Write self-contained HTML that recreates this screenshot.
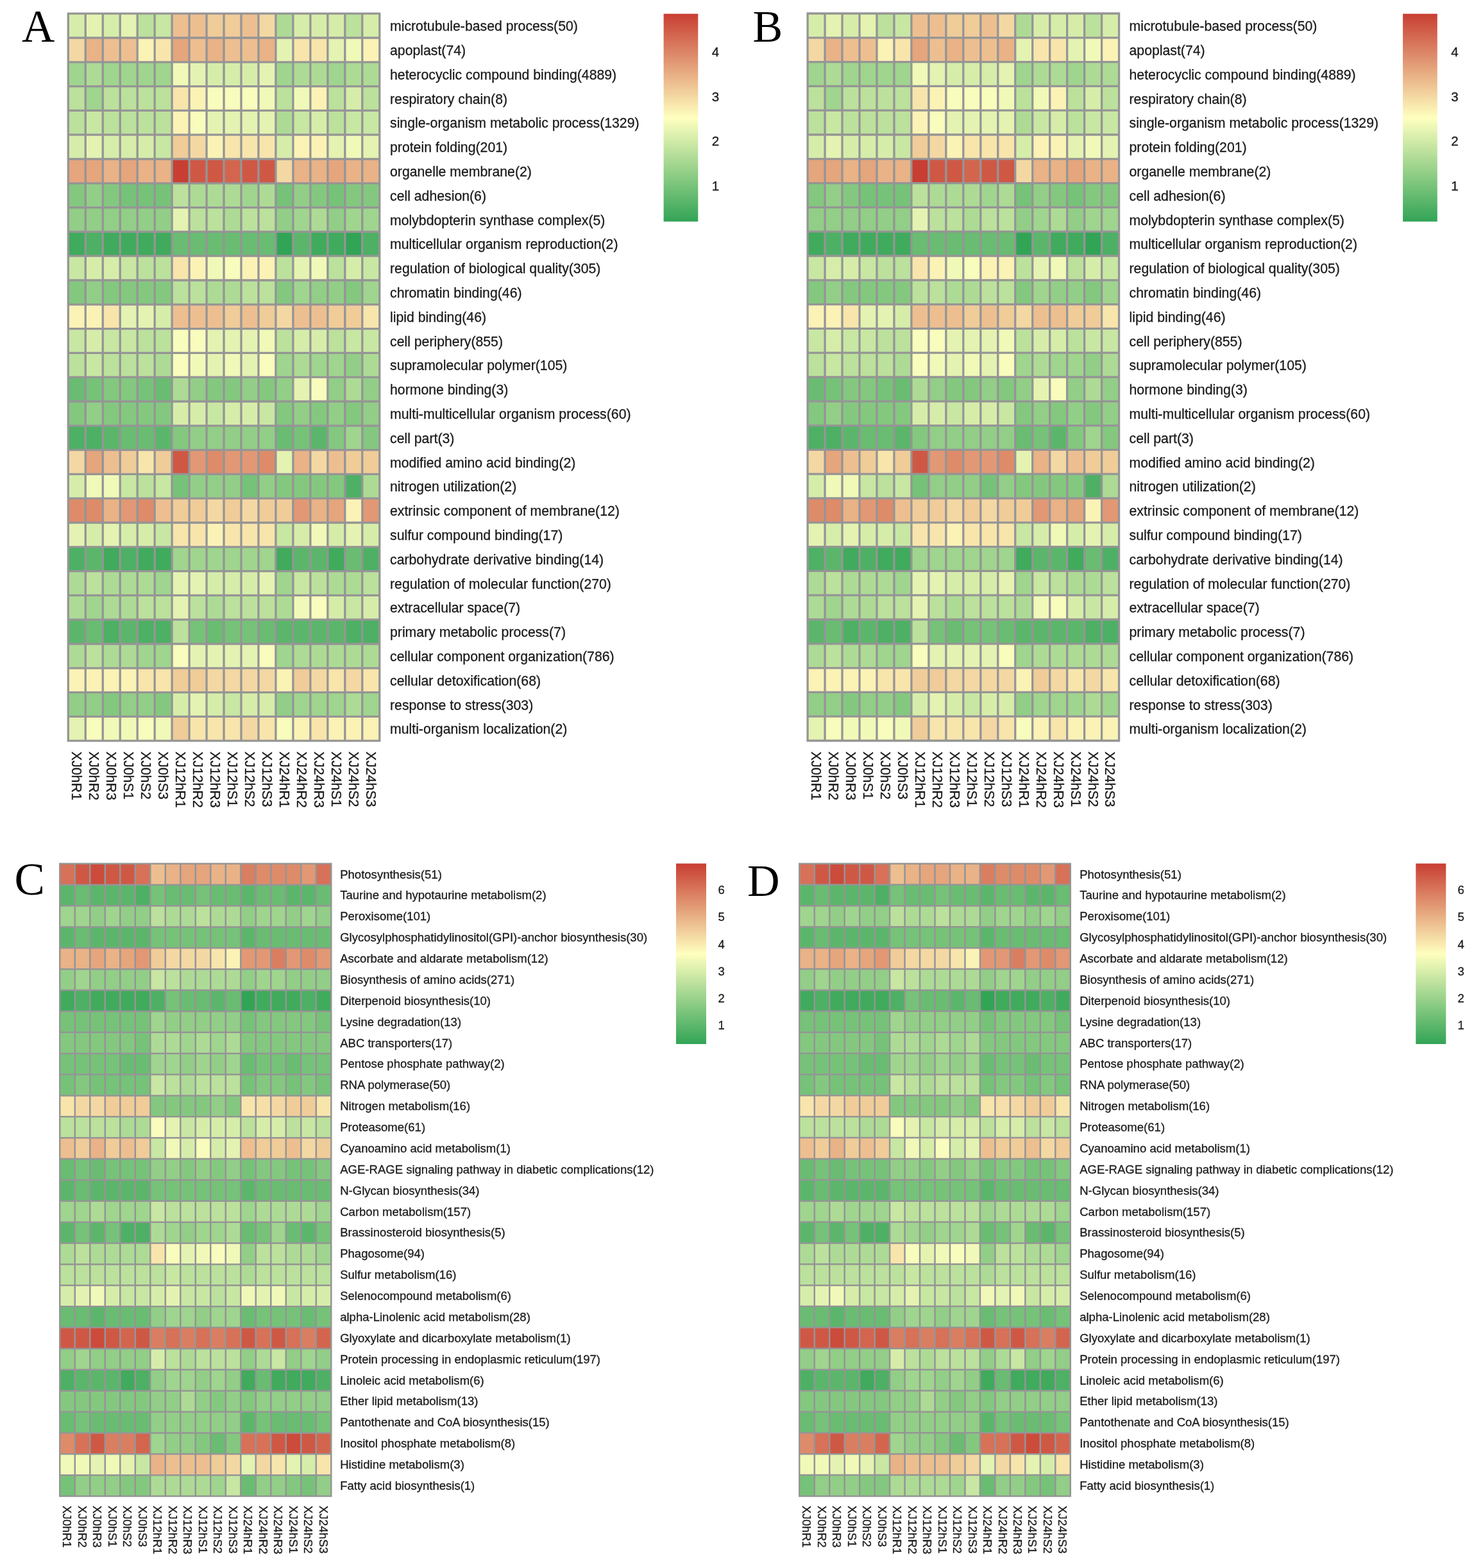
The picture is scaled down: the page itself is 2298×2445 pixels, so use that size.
<!DOCTYPE html>
<html><head><meta charset="utf-8"><title>Heatmaps</title>
<style>
html,body{margin:0;padding:0;background:#fff}
body{width:2298px;height:2445px;overflow:hidden}
svg{display:block}
text{font-family:"Liberation Sans",sans-serif;fill:#1a1a1a;stroke:#1a1a1a;stroke-width:0.3px;paint-order:stroke fill}
text.pl{font-family:"Liberation Serif",serif;fill:#000;stroke:none}
</style></head><body>
<svg width="2298" height="2445" viewBox="0 0 2298 2445">
<defs><linearGradient id="lg" x1="0" y1="0" x2="0" y2="1">
<stop offset="0" stop-color="#c83e32"/><stop offset="0.5" stop-color="#ffffbf"/><stop offset="1" stop-color="#32a456"/>
</linearGradient></defs>
<rect width="2298" height="2445" fill="#fff"/>
<g class="hm">
<rect x="106.3" y="21.2" width="27.17" height="38" fill="#d6edaa"/>
<rect x="133.27" y="21.2" width="27.17" height="38" fill="#e4f3b1"/>
<rect x="160.24" y="21.2" width="27.17" height="38" fill="#d6edaa"/>
<rect x="187.21" y="21.2" width="27.17" height="38" fill="#e4f3b1"/>
<rect x="214.18" y="21.2" width="27.17" height="38" fill="#bbe19c"/>
<rect x="241.15" y="21.2" width="27.17" height="38" fill="#c8e7a3"/>
<rect x="268.12" y="21.2" width="27.17" height="38" fill="#edbf90"/>
<rect x="295.09" y="21.2" width="27.17" height="38" fill="#edbf90"/>
<rect x="322.06" y="21.2" width="27.17" height="38" fill="#f0cc99"/>
<rect x="349.03" y="21.2" width="27.17" height="38" fill="#f0cc99"/>
<rect x="376" y="21.2" width="27.17" height="38" fill="#edbf90"/>
<rect x="402.97" y="21.2" width="27.17" height="38" fill="#f4d8a3"/>
<rect x="429.94" y="21.2" width="27.17" height="38" fill="#addb95"/>
<rect x="456.91" y="21.2" width="27.17" height="38" fill="#d6edaa"/>
<rect x="483.88" y="21.2" width="27.17" height="38" fill="#d6edaa"/>
<rect x="510.85" y="21.2" width="27.17" height="38" fill="#d6edaa"/>
<rect x="537.82" y="21.2" width="27.17" height="38" fill="#bbe19c"/>
<rect x="564.79" y="21.2" width="27.17" height="38" fill="#d6edaa"/>
<rect x="106.3" y="59" width="27.17" height="38" fill="#f4d8a3"/>
<rect x="133.27" y="59" width="27.17" height="38" fill="#e9b287"/>
<rect x="160.24" y="59" width="27.17" height="38" fill="#edbf90"/>
<rect x="187.21" y="59" width="27.17" height="38" fill="#edbf90"/>
<rect x="214.18" y="59" width="27.17" height="38" fill="#fbf2b6"/>
<rect x="241.15" y="59" width="27.17" height="38" fill="#f8e5ac"/>
<rect x="268.12" y="59" width="27.17" height="38" fill="#e5a57d"/>
<rect x="295.09" y="59" width="27.17" height="38" fill="#edbf90"/>
<rect x="322.06" y="59" width="27.17" height="38" fill="#e9b287"/>
<rect x="349.03" y="59" width="27.17" height="38" fill="#edbf90"/>
<rect x="376" y="59" width="27.17" height="38" fill="#edbf90"/>
<rect x="402.97" y="59" width="27.17" height="38" fill="#e9b287"/>
<rect x="429.94" y="59" width="27.17" height="38" fill="#e4f3b1"/>
<rect x="456.91" y="59" width="27.17" height="38" fill="#f8e5ac"/>
<rect x="483.88" y="59" width="27.17" height="38" fill="#f8e5ac"/>
<rect x="510.85" y="59" width="27.17" height="38" fill="#e4f3b1"/>
<rect x="537.82" y="59" width="27.17" height="38" fill="#f1f9b8"/>
<rect x="564.79" y="59" width="27.17" height="38" fill="#fbf2b6"/>
<rect x="106.3" y="96.8" width="27.17" height="38" fill="#9fd58e"/>
<rect x="133.27" y="96.8" width="27.17" height="38" fill="#addb95"/>
<rect x="160.24" y="96.8" width="27.17" height="38" fill="#9fd58e"/>
<rect x="187.21" y="96.8" width="27.17" height="38" fill="#9fd58e"/>
<rect x="214.18" y="96.8" width="27.17" height="38" fill="#9fd58e"/>
<rect x="241.15" y="96.8" width="27.17" height="38" fill="#9fd58e"/>
<rect x="268.12" y="96.8" width="27.17" height="38" fill="#f1f9b8"/>
<rect x="295.09" y="96.8" width="27.17" height="38" fill="#e4f3b1"/>
<rect x="322.06" y="96.8" width="27.17" height="38" fill="#d6edaa"/>
<rect x="349.03" y="96.8" width="27.17" height="38" fill="#d6edaa"/>
<rect x="376" y="96.8" width="27.17" height="38" fill="#d6edaa"/>
<rect x="402.97" y="96.8" width="27.17" height="38" fill="#e4f3b1"/>
<rect x="429.94" y="96.8" width="27.17" height="38" fill="#9fd58e"/>
<rect x="456.91" y="96.8" width="27.17" height="38" fill="#addb95"/>
<rect x="483.88" y="96.8" width="27.17" height="38" fill="#addb95"/>
<rect x="510.85" y="96.8" width="27.17" height="38" fill="#9fd58e"/>
<rect x="537.82" y="96.8" width="27.17" height="38" fill="#addb95"/>
<rect x="564.79" y="96.8" width="27.17" height="38" fill="#addb95"/>
<rect x="106.3" y="134.6" width="27.17" height="38" fill="#bbe19c"/>
<rect x="133.27" y="134.6" width="27.17" height="38" fill="#9fd58e"/>
<rect x="160.24" y="134.6" width="27.17" height="38" fill="#bbe19c"/>
<rect x="187.21" y="134.6" width="27.17" height="38" fill="#bbe19c"/>
<rect x="214.18" y="134.6" width="27.17" height="38" fill="#bbe19c"/>
<rect x="241.15" y="134.6" width="27.17" height="38" fill="#bbe19c"/>
<rect x="268.12" y="134.6" width="27.17" height="38" fill="#f8e5ac"/>
<rect x="295.09" y="134.6" width="27.17" height="38" fill="#fbf2b6"/>
<rect x="322.06" y="134.6" width="27.17" height="38" fill="#f8fcbc"/>
<rect x="349.03" y="134.6" width="27.17" height="38" fill="#f8fcbc"/>
<rect x="376" y="134.6" width="27.17" height="38" fill="#f8fcbc"/>
<rect x="402.97" y="134.6" width="27.17" height="38" fill="#f1f9b8"/>
<rect x="429.94" y="134.6" width="27.17" height="38" fill="#bbe19c"/>
<rect x="456.91" y="134.6" width="27.17" height="38" fill="#f1f9b8"/>
<rect x="483.88" y="134.6" width="27.17" height="38" fill="#fbf2b6"/>
<rect x="510.85" y="134.6" width="27.17" height="38" fill="#bbe19c"/>
<rect x="537.82" y="134.6" width="27.17" height="38" fill="#d6edaa"/>
<rect x="564.79" y="134.6" width="27.17" height="38" fill="#bbe19c"/>
<rect x="106.3" y="172.4" width="27.17" height="38" fill="#bbe19c"/>
<rect x="133.27" y="172.4" width="27.17" height="38" fill="#c8e7a3"/>
<rect x="160.24" y="172.4" width="27.17" height="38" fill="#bbe19c"/>
<rect x="187.21" y="172.4" width="27.17" height="38" fill="#bbe19c"/>
<rect x="214.18" y="172.4" width="27.17" height="38" fill="#bbe19c"/>
<rect x="241.15" y="172.4" width="27.17" height="38" fill="#bbe19c"/>
<rect x="268.12" y="172.4" width="27.17" height="38" fill="#fbf2b6"/>
<rect x="295.09" y="172.4" width="27.17" height="38" fill="#f8fcbc"/>
<rect x="322.06" y="172.4" width="27.17" height="38" fill="#e4f3b1"/>
<rect x="349.03" y="172.4" width="27.17" height="38" fill="#e4f3b1"/>
<rect x="376" y="172.4" width="27.17" height="38" fill="#e4f3b1"/>
<rect x="402.97" y="172.4" width="27.17" height="38" fill="#e4f3b1"/>
<rect x="429.94" y="172.4" width="27.17" height="38" fill="#addb95"/>
<rect x="456.91" y="172.4" width="27.17" height="38" fill="#c8e7a3"/>
<rect x="483.88" y="172.4" width="27.17" height="38" fill="#d6edaa"/>
<rect x="510.85" y="172.4" width="27.17" height="38" fill="#bbe19c"/>
<rect x="537.82" y="172.4" width="27.17" height="38" fill="#c8e7a3"/>
<rect x="564.79" y="172.4" width="27.17" height="38" fill="#c8e7a3"/>
<rect x="106.3" y="210.2" width="27.17" height="38" fill="#d6edaa"/>
<rect x="133.27" y="210.2" width="27.17" height="38" fill="#e4f3b1"/>
<rect x="160.24" y="210.2" width="27.17" height="38" fill="#d6edaa"/>
<rect x="187.21" y="210.2" width="27.17" height="38" fill="#d6edaa"/>
<rect x="214.18" y="210.2" width="27.17" height="38" fill="#d6edaa"/>
<rect x="241.15" y="210.2" width="27.17" height="38" fill="#c8e7a3"/>
<rect x="268.12" y="210.2" width="27.17" height="38" fill="#f0cc99"/>
<rect x="295.09" y="210.2" width="27.17" height="38" fill="#f4d8a3"/>
<rect x="322.06" y="210.2" width="27.17" height="38" fill="#fbf2b6"/>
<rect x="349.03" y="210.2" width="27.17" height="38" fill="#f8e5ac"/>
<rect x="376" y="210.2" width="27.17" height="38" fill="#f8e5ac"/>
<rect x="402.97" y="210.2" width="27.17" height="38" fill="#f8e5ac"/>
<rect x="429.94" y="210.2" width="27.17" height="38" fill="#d6edaa"/>
<rect x="456.91" y="210.2" width="27.17" height="38" fill="#fbf2b6"/>
<rect x="483.88" y="210.2" width="27.17" height="38" fill="#fbf2b6"/>
<rect x="510.85" y="210.2" width="27.17" height="38" fill="#e4f3b1"/>
<rect x="537.82" y="210.2" width="27.17" height="38" fill="#f1f9b8"/>
<rect x="564.79" y="210.2" width="27.17" height="38" fill="#e4f3b1"/>
<rect x="106.3" y="248" width="27.17" height="38" fill="#e5a57d"/>
<rect x="133.27" y="248" width="27.17" height="38" fill="#e5a57d"/>
<rect x="160.24" y="248" width="27.17" height="38" fill="#e9b287"/>
<rect x="187.21" y="248" width="27.17" height="38" fill="#e5a57d"/>
<rect x="214.18" y="248" width="27.17" height="38" fill="#e9b287"/>
<rect x="241.15" y="248" width="27.17" height="38" fill="#e9b287"/>
<rect x="268.12" y="248" width="27.17" height="38" fill="#c83e32"/>
<rect x="295.09" y="248" width="27.17" height="38" fill="#cf5845"/>
<rect x="322.06" y="248" width="27.17" height="38" fill="#cf5845"/>
<rect x="349.03" y="248" width="27.17" height="38" fill="#d3654e"/>
<rect x="376" y="248" width="27.17" height="38" fill="#cf5845"/>
<rect x="402.97" y="248" width="27.17" height="38" fill="#cf5845"/>
<rect x="429.94" y="248" width="27.17" height="38" fill="#f4d8a3"/>
<rect x="456.91" y="248" width="27.17" height="38" fill="#e9b287"/>
<rect x="483.88" y="248" width="27.17" height="38" fill="#e9b287"/>
<rect x="510.85" y="248" width="27.17" height="38" fill="#e5a57d"/>
<rect x="537.82" y="248" width="27.17" height="38" fill="#e9b287"/>
<rect x="564.79" y="248" width="27.17" height="38" fill="#e9b287"/>
<rect x="106.3" y="285.8" width="27.17" height="38" fill="#84c880"/>
<rect x="133.27" y="285.8" width="27.17" height="38" fill="#92ce87"/>
<rect x="160.24" y="285.8" width="27.17" height="38" fill="#84c880"/>
<rect x="187.21" y="285.8" width="27.17" height="38" fill="#76c279"/>
<rect x="214.18" y="285.8" width="27.17" height="38" fill="#76c279"/>
<rect x="241.15" y="285.8" width="27.17" height="38" fill="#76c279"/>
<rect x="268.12" y="285.8" width="27.17" height="38" fill="#bbe19c"/>
<rect x="295.09" y="285.8" width="27.17" height="38" fill="#addb95"/>
<rect x="322.06" y="285.8" width="27.17" height="38" fill="#addb95"/>
<rect x="349.03" y="285.8" width="27.17" height="38" fill="#addb95"/>
<rect x="376" y="285.8" width="27.17" height="38" fill="#9fd58e"/>
<rect x="402.97" y="285.8" width="27.17" height="38" fill="#addb95"/>
<rect x="429.94" y="285.8" width="27.17" height="38" fill="#76c279"/>
<rect x="456.91" y="285.8" width="27.17" height="38" fill="#92ce87"/>
<rect x="483.88" y="285.8" width="27.17" height="38" fill="#84c880"/>
<rect x="510.85" y="285.8" width="27.17" height="38" fill="#76c279"/>
<rect x="537.82" y="285.8" width="27.17" height="38" fill="#84c880"/>
<rect x="564.79" y="285.8" width="27.17" height="38" fill="#84c880"/>
<rect x="106.3" y="323.6" width="27.17" height="38" fill="#92ce87"/>
<rect x="133.27" y="323.6" width="27.17" height="38" fill="#92ce87"/>
<rect x="160.24" y="323.6" width="27.17" height="38" fill="#92ce87"/>
<rect x="187.21" y="323.6" width="27.17" height="38" fill="#92ce87"/>
<rect x="214.18" y="323.6" width="27.17" height="38" fill="#92ce87"/>
<rect x="241.15" y="323.6" width="27.17" height="38" fill="#92ce87"/>
<rect x="268.12" y="323.6" width="27.17" height="38" fill="#e4f3b1"/>
<rect x="295.09" y="323.6" width="27.17" height="38" fill="#bbe19c"/>
<rect x="322.06" y="323.6" width="27.17" height="38" fill="#bbe19c"/>
<rect x="349.03" y="323.6" width="27.17" height="38" fill="#addb95"/>
<rect x="376" y="323.6" width="27.17" height="38" fill="#bbe19c"/>
<rect x="402.97" y="323.6" width="27.17" height="38" fill="#bbe19c"/>
<rect x="429.94" y="323.6" width="27.17" height="38" fill="#92ce87"/>
<rect x="456.91" y="323.6" width="27.17" height="38" fill="#9fd58e"/>
<rect x="483.88" y="323.6" width="27.17" height="38" fill="#addb95"/>
<rect x="510.85" y="323.6" width="27.17" height="38" fill="#92ce87"/>
<rect x="537.82" y="323.6" width="27.17" height="38" fill="#9fd58e"/>
<rect x="564.79" y="323.6" width="27.17" height="38" fill="#9fd58e"/>
<rect x="106.3" y="361.4" width="27.17" height="38" fill="#40aa5d"/>
<rect x="133.27" y="361.4" width="27.17" height="38" fill="#4db064"/>
<rect x="160.24" y="361.4" width="27.17" height="38" fill="#40aa5d"/>
<rect x="187.21" y="361.4" width="27.17" height="38" fill="#40aa5d"/>
<rect x="214.18" y="361.4" width="27.17" height="38" fill="#40aa5d"/>
<rect x="241.15" y="361.4" width="27.17" height="38" fill="#40aa5d"/>
<rect x="268.12" y="361.4" width="27.17" height="38" fill="#69bc72"/>
<rect x="295.09" y="361.4" width="27.17" height="38" fill="#69bc72"/>
<rect x="322.06" y="361.4" width="27.17" height="38" fill="#69bc72"/>
<rect x="349.03" y="361.4" width="27.17" height="38" fill="#69bc72"/>
<rect x="376" y="361.4" width="27.17" height="38" fill="#69bc72"/>
<rect x="402.97" y="361.4" width="27.17" height="38" fill="#69bc72"/>
<rect x="429.94" y="361.4" width="27.17" height="38" fill="#32a456"/>
<rect x="456.91" y="361.4" width="27.17" height="38" fill="#5bb66b"/>
<rect x="483.88" y="361.4" width="27.17" height="38" fill="#40aa5d"/>
<rect x="510.85" y="361.4" width="27.17" height="38" fill="#40aa5d"/>
<rect x="537.82" y="361.4" width="27.17" height="38" fill="#32a456"/>
<rect x="564.79" y="361.4" width="27.17" height="38" fill="#4db064"/>
<rect x="106.3" y="399.2" width="27.17" height="38" fill="#c8e7a3"/>
<rect x="133.27" y="399.2" width="27.17" height="38" fill="#d6edaa"/>
<rect x="160.24" y="399.2" width="27.17" height="38" fill="#d6edaa"/>
<rect x="187.21" y="399.2" width="27.17" height="38" fill="#c8e7a3"/>
<rect x="214.18" y="399.2" width="27.17" height="38" fill="#bbe19c"/>
<rect x="241.15" y="399.2" width="27.17" height="38" fill="#bbe19c"/>
<rect x="268.12" y="399.2" width="27.17" height="38" fill="#f8e5ac"/>
<rect x="295.09" y="399.2" width="27.17" height="38" fill="#fbf2b6"/>
<rect x="322.06" y="399.2" width="27.17" height="38" fill="#f1f9b8"/>
<rect x="349.03" y="399.2" width="27.17" height="38" fill="#f8fcbc"/>
<rect x="376" y="399.2" width="27.17" height="38" fill="#fbf2b6"/>
<rect x="402.97" y="399.2" width="27.17" height="38" fill="#fbf2b6"/>
<rect x="429.94" y="399.2" width="27.17" height="38" fill="#bbe19c"/>
<rect x="456.91" y="399.2" width="27.17" height="38" fill="#e4f3b1"/>
<rect x="483.88" y="399.2" width="27.17" height="38" fill="#f1f9b8"/>
<rect x="510.85" y="399.2" width="27.17" height="38" fill="#bbe19c"/>
<rect x="537.82" y="399.2" width="27.17" height="38" fill="#d6edaa"/>
<rect x="564.79" y="399.2" width="27.17" height="38" fill="#c8e7a3"/>
<rect x="106.3" y="437" width="27.17" height="38" fill="#84c880"/>
<rect x="133.27" y="437" width="27.17" height="38" fill="#92ce87"/>
<rect x="160.24" y="437" width="27.17" height="38" fill="#84c880"/>
<rect x="187.21" y="437" width="27.17" height="38" fill="#84c880"/>
<rect x="214.18" y="437" width="27.17" height="38" fill="#84c880"/>
<rect x="241.15" y="437" width="27.17" height="38" fill="#84c880"/>
<rect x="268.12" y="437" width="27.17" height="38" fill="#bbe19c"/>
<rect x="295.09" y="437" width="27.17" height="38" fill="#bbe19c"/>
<rect x="322.06" y="437" width="27.17" height="38" fill="#addb95"/>
<rect x="349.03" y="437" width="27.17" height="38" fill="#addb95"/>
<rect x="376" y="437" width="27.17" height="38" fill="#bbe19c"/>
<rect x="402.97" y="437" width="27.17" height="38" fill="#bbe19c"/>
<rect x="429.94" y="437" width="27.17" height="38" fill="#84c880"/>
<rect x="456.91" y="437" width="27.17" height="38" fill="#9fd58e"/>
<rect x="483.88" y="437" width="27.17" height="38" fill="#92ce87"/>
<rect x="510.85" y="437" width="27.17" height="38" fill="#92ce87"/>
<rect x="537.82" y="437" width="27.17" height="38" fill="#84c880"/>
<rect x="564.79" y="437" width="27.17" height="38" fill="#9fd58e"/>
<rect x="106.3" y="474.8" width="27.17" height="38" fill="#fbf2b6"/>
<rect x="133.27" y="474.8" width="27.17" height="38" fill="#fbf2b6"/>
<rect x="160.24" y="474.8" width="27.17" height="38" fill="#f8e5ac"/>
<rect x="187.21" y="474.8" width="27.17" height="38" fill="#e4f3b1"/>
<rect x="214.18" y="474.8" width="27.17" height="38" fill="#e4f3b1"/>
<rect x="241.15" y="474.8" width="27.17" height="38" fill="#d6edaa"/>
<rect x="268.12" y="474.8" width="27.17" height="38" fill="#edbf90"/>
<rect x="295.09" y="474.8" width="27.17" height="38" fill="#edbf90"/>
<rect x="322.06" y="474.8" width="27.17" height="38" fill="#edbf90"/>
<rect x="349.03" y="474.8" width="27.17" height="38" fill="#f0cc99"/>
<rect x="376" y="474.8" width="27.17" height="38" fill="#edbf90"/>
<rect x="402.97" y="474.8" width="27.17" height="38" fill="#f0cc99"/>
<rect x="429.94" y="474.8" width="27.17" height="38" fill="#f4d8a3"/>
<rect x="456.91" y="474.8" width="27.17" height="38" fill="#edbf90"/>
<rect x="483.88" y="474.8" width="27.17" height="38" fill="#edbf90"/>
<rect x="510.85" y="474.8" width="27.17" height="38" fill="#f0cc99"/>
<rect x="537.82" y="474.8" width="27.17" height="38" fill="#f0cc99"/>
<rect x="564.79" y="474.8" width="27.17" height="38" fill="#f8e5ac"/>
<rect x="106.3" y="512.6" width="27.17" height="38" fill="#c8e7a3"/>
<rect x="133.27" y="512.6" width="27.17" height="38" fill="#d6edaa"/>
<rect x="160.24" y="512.6" width="27.17" height="38" fill="#c8e7a3"/>
<rect x="187.21" y="512.6" width="27.17" height="38" fill="#c8e7a3"/>
<rect x="214.18" y="512.6" width="27.17" height="38" fill="#bbe19c"/>
<rect x="241.15" y="512.6" width="27.17" height="38" fill="#bbe19c"/>
<rect x="268.12" y="512.6" width="27.17" height="38" fill="#f8fcbc"/>
<rect x="295.09" y="512.6" width="27.17" height="38" fill="#f8fcbc"/>
<rect x="322.06" y="512.6" width="27.17" height="38" fill="#e4f3b1"/>
<rect x="349.03" y="512.6" width="27.17" height="38" fill="#e4f3b1"/>
<rect x="376" y="512.6" width="27.17" height="38" fill="#e4f3b1"/>
<rect x="402.97" y="512.6" width="27.17" height="38" fill="#f1f9b8"/>
<rect x="429.94" y="512.6" width="27.17" height="38" fill="#bbe19c"/>
<rect x="456.91" y="512.6" width="27.17" height="38" fill="#d6edaa"/>
<rect x="483.88" y="512.6" width="27.17" height="38" fill="#d6edaa"/>
<rect x="510.85" y="512.6" width="27.17" height="38" fill="#bbe19c"/>
<rect x="537.82" y="512.6" width="27.17" height="38" fill="#c8e7a3"/>
<rect x="564.79" y="512.6" width="27.17" height="38" fill="#c8e7a3"/>
<rect x="106.3" y="550.4" width="27.17" height="38" fill="#bbe19c"/>
<rect x="133.27" y="550.4" width="27.17" height="38" fill="#c8e7a3"/>
<rect x="160.24" y="550.4" width="27.17" height="38" fill="#bbe19c"/>
<rect x="187.21" y="550.4" width="27.17" height="38" fill="#bbe19c"/>
<rect x="214.18" y="550.4" width="27.17" height="38" fill="#bbe19c"/>
<rect x="241.15" y="550.4" width="27.17" height="38" fill="#addb95"/>
<rect x="268.12" y="550.4" width="27.17" height="38" fill="#f8fcbc"/>
<rect x="295.09" y="550.4" width="27.17" height="38" fill="#f1f9b8"/>
<rect x="322.06" y="550.4" width="27.17" height="38" fill="#e4f3b1"/>
<rect x="349.03" y="550.4" width="27.17" height="38" fill="#f1f9b8"/>
<rect x="376" y="550.4" width="27.17" height="38" fill="#e4f3b1"/>
<rect x="402.97" y="550.4" width="27.17" height="38" fill="#f8fcbc"/>
<rect x="429.94" y="550.4" width="27.17" height="38" fill="#9fd58e"/>
<rect x="456.91" y="550.4" width="27.17" height="38" fill="#addb95"/>
<rect x="483.88" y="550.4" width="27.17" height="38" fill="#9fd58e"/>
<rect x="510.85" y="550.4" width="27.17" height="38" fill="#9fd58e"/>
<rect x="537.82" y="550.4" width="27.17" height="38" fill="#92ce87"/>
<rect x="564.79" y="550.4" width="27.17" height="38" fill="#addb95"/>
<rect x="106.3" y="588.2" width="27.17" height="38" fill="#69bc72"/>
<rect x="133.27" y="588.2" width="27.17" height="38" fill="#76c279"/>
<rect x="160.24" y="588.2" width="27.17" height="38" fill="#84c880"/>
<rect x="187.21" y="588.2" width="27.17" height="38" fill="#84c880"/>
<rect x="214.18" y="588.2" width="27.17" height="38" fill="#76c279"/>
<rect x="241.15" y="588.2" width="27.17" height="38" fill="#69bc72"/>
<rect x="268.12" y="588.2" width="27.17" height="38" fill="#addb95"/>
<rect x="295.09" y="588.2" width="27.17" height="38" fill="#92ce87"/>
<rect x="322.06" y="588.2" width="27.17" height="38" fill="#84c880"/>
<rect x="349.03" y="588.2" width="27.17" height="38" fill="#84c880"/>
<rect x="376" y="588.2" width="27.17" height="38" fill="#92ce87"/>
<rect x="402.97" y="588.2" width="27.17" height="38" fill="#84c880"/>
<rect x="429.94" y="588.2" width="27.17" height="38" fill="#92ce87"/>
<rect x="456.91" y="588.2" width="27.17" height="38" fill="#e4f3b1"/>
<rect x="483.88" y="588.2" width="27.17" height="38" fill="#f8fcbc"/>
<rect x="510.85" y="588.2" width="27.17" height="38" fill="#92ce87"/>
<rect x="537.82" y="588.2" width="27.17" height="38" fill="#addb95"/>
<rect x="564.79" y="588.2" width="27.17" height="38" fill="#92ce87"/>
<rect x="106.3" y="626" width="27.17" height="38" fill="#84c880"/>
<rect x="133.27" y="626" width="27.17" height="38" fill="#92ce87"/>
<rect x="160.24" y="626" width="27.17" height="38" fill="#84c880"/>
<rect x="187.21" y="626" width="27.17" height="38" fill="#84c880"/>
<rect x="214.18" y="626" width="27.17" height="38" fill="#84c880"/>
<rect x="241.15" y="626" width="27.17" height="38" fill="#84c880"/>
<rect x="268.12" y="626" width="27.17" height="38" fill="#d6edaa"/>
<rect x="295.09" y="626" width="27.17" height="38" fill="#d6edaa"/>
<rect x="322.06" y="626" width="27.17" height="38" fill="#c8e7a3"/>
<rect x="349.03" y="626" width="27.17" height="38" fill="#d6edaa"/>
<rect x="376" y="626" width="27.17" height="38" fill="#d6edaa"/>
<rect x="402.97" y="626" width="27.17" height="38" fill="#c8e7a3"/>
<rect x="429.94" y="626" width="27.17" height="38" fill="#84c880"/>
<rect x="456.91" y="626" width="27.17" height="38" fill="#92ce87"/>
<rect x="483.88" y="626" width="27.17" height="38" fill="#84c880"/>
<rect x="510.85" y="626" width="27.17" height="38" fill="#92ce87"/>
<rect x="537.82" y="626" width="27.17" height="38" fill="#84c880"/>
<rect x="564.79" y="626" width="27.17" height="38" fill="#92ce87"/>
<rect x="106.3" y="663.8" width="27.17" height="38" fill="#4db064"/>
<rect x="133.27" y="663.8" width="27.17" height="38" fill="#4db064"/>
<rect x="160.24" y="663.8" width="27.17" height="38" fill="#5bb66b"/>
<rect x="187.21" y="663.8" width="27.17" height="38" fill="#69bc72"/>
<rect x="214.18" y="663.8" width="27.17" height="38" fill="#69bc72"/>
<rect x="241.15" y="663.8" width="27.17" height="38" fill="#5bb66b"/>
<rect x="268.12" y="663.8" width="27.17" height="38" fill="#84c880"/>
<rect x="295.09" y="663.8" width="27.17" height="38" fill="#92ce87"/>
<rect x="322.06" y="663.8" width="27.17" height="38" fill="#92ce87"/>
<rect x="349.03" y="663.8" width="27.17" height="38" fill="#92ce87"/>
<rect x="376" y="663.8" width="27.17" height="38" fill="#92ce87"/>
<rect x="402.97" y="663.8" width="27.17" height="38" fill="#92ce87"/>
<rect x="429.94" y="663.8" width="27.17" height="38" fill="#69bc72"/>
<rect x="456.91" y="663.8" width="27.17" height="38" fill="#76c279"/>
<rect x="483.88" y="663.8" width="27.17" height="38" fill="#5bb66b"/>
<rect x="510.85" y="663.8" width="27.17" height="38" fill="#84c880"/>
<rect x="537.82" y="663.8" width="27.17" height="38" fill="#9fd58e"/>
<rect x="564.79" y="663.8" width="27.17" height="38" fill="#84c880"/>
<rect x="106.3" y="701.6" width="27.17" height="38" fill="#f4d8a3"/>
<rect x="133.27" y="701.6" width="27.17" height="38" fill="#e5a57d"/>
<rect x="160.24" y="701.6" width="27.17" height="38" fill="#edbf90"/>
<rect x="187.21" y="701.6" width="27.17" height="38" fill="#f0cc99"/>
<rect x="214.18" y="701.6" width="27.17" height="38" fill="#f8e5ac"/>
<rect x="241.15" y="701.6" width="27.17" height="38" fill="#f0cc99"/>
<rect x="268.12" y="701.6" width="27.17" height="38" fill="#cf5845"/>
<rect x="295.09" y="701.6" width="27.17" height="38" fill="#e29874"/>
<rect x="322.06" y="701.6" width="27.17" height="38" fill="#de8b6a"/>
<rect x="349.03" y="701.6" width="27.17" height="38" fill="#e29874"/>
<rect x="376" y="701.6" width="27.17" height="38" fill="#e29874"/>
<rect x="402.97" y="701.6" width="27.17" height="38" fill="#de8b6a"/>
<rect x="429.94" y="701.6" width="27.17" height="38" fill="#e4f3b1"/>
<rect x="456.91" y="701.6" width="27.17" height="38" fill="#e9b287"/>
<rect x="483.88" y="701.6" width="27.17" height="38" fill="#f4d8a3"/>
<rect x="510.85" y="701.6" width="27.17" height="38" fill="#edbf90"/>
<rect x="537.82" y="701.6" width="27.17" height="38" fill="#f0cc99"/>
<rect x="564.79" y="701.6" width="27.17" height="38" fill="#f0cc99"/>
<rect x="106.3" y="739.4" width="27.17" height="38" fill="#d6edaa"/>
<rect x="133.27" y="739.4" width="27.17" height="38" fill="#f1f9b8"/>
<rect x="160.24" y="739.4" width="27.17" height="38" fill="#f1f9b8"/>
<rect x="187.21" y="739.4" width="27.17" height="38" fill="#c8e7a3"/>
<rect x="214.18" y="739.4" width="27.17" height="38" fill="#bbe19c"/>
<rect x="241.15" y="739.4" width="27.17" height="38" fill="#c8e7a3"/>
<rect x="268.12" y="739.4" width="27.17" height="38" fill="#76c279"/>
<rect x="295.09" y="739.4" width="27.17" height="38" fill="#92ce87"/>
<rect x="322.06" y="739.4" width="27.17" height="38" fill="#92ce87"/>
<rect x="349.03" y="739.4" width="27.17" height="38" fill="#92ce87"/>
<rect x="376" y="739.4" width="27.17" height="38" fill="#76c279"/>
<rect x="402.97" y="739.4" width="27.17" height="38" fill="#92ce87"/>
<rect x="429.94" y="739.4" width="27.17" height="38" fill="#84c880"/>
<rect x="456.91" y="739.4" width="27.17" height="38" fill="#84c880"/>
<rect x="483.88" y="739.4" width="27.17" height="38" fill="#84c880"/>
<rect x="510.85" y="739.4" width="27.17" height="38" fill="#84c880"/>
<rect x="537.82" y="739.4" width="27.17" height="38" fill="#4db064"/>
<rect x="564.79" y="739.4" width="27.17" height="38" fill="#addb95"/>
<rect x="106.3" y="777.2" width="27.17" height="38" fill="#de8b6a"/>
<rect x="133.27" y="777.2" width="27.17" height="38" fill="#de8b6a"/>
<rect x="160.24" y="777.2" width="27.17" height="38" fill="#e9b287"/>
<rect x="187.21" y="777.2" width="27.17" height="38" fill="#e29874"/>
<rect x="214.18" y="777.2" width="27.17" height="38" fill="#de8b6a"/>
<rect x="241.15" y="777.2" width="27.17" height="38" fill="#edbf90"/>
<rect x="268.12" y="777.2" width="27.17" height="38" fill="#f0cc99"/>
<rect x="295.09" y="777.2" width="27.17" height="38" fill="#f0cc99"/>
<rect x="322.06" y="777.2" width="27.17" height="38" fill="#f4d8a3"/>
<rect x="349.03" y="777.2" width="27.17" height="38" fill="#f0cc99"/>
<rect x="376" y="777.2" width="27.17" height="38" fill="#f4d8a3"/>
<rect x="402.97" y="777.2" width="27.17" height="38" fill="#f0cc99"/>
<rect x="429.94" y="777.2" width="27.17" height="38" fill="#f0cc99"/>
<rect x="456.91" y="777.2" width="27.17" height="38" fill="#e29874"/>
<rect x="483.88" y="777.2" width="27.17" height="38" fill="#e9b287"/>
<rect x="510.85" y="777.2" width="27.17" height="38" fill="#e5a57d"/>
<rect x="537.82" y="777.2" width="27.17" height="38" fill="#fbf2b6"/>
<rect x="564.79" y="777.2" width="27.17" height="38" fill="#e29874"/>
<rect x="106.3" y="815" width="27.17" height="38" fill="#e4f3b1"/>
<rect x="133.27" y="815" width="27.17" height="38" fill="#d6edaa"/>
<rect x="160.24" y="815" width="27.17" height="38" fill="#e4f3b1"/>
<rect x="187.21" y="815" width="27.17" height="38" fill="#d6edaa"/>
<rect x="214.18" y="815" width="27.17" height="38" fill="#d6edaa"/>
<rect x="241.15" y="815" width="27.17" height="38" fill="#c8e7a3"/>
<rect x="268.12" y="815" width="27.17" height="38" fill="#f8e5ac"/>
<rect x="295.09" y="815" width="27.17" height="38" fill="#f8e5ac"/>
<rect x="322.06" y="815" width="27.17" height="38" fill="#fbf2b6"/>
<rect x="349.03" y="815" width="27.17" height="38" fill="#f8e5ac"/>
<rect x="376" y="815" width="27.17" height="38" fill="#f8e5ac"/>
<rect x="402.97" y="815" width="27.17" height="38" fill="#f8e5ac"/>
<rect x="429.94" y="815" width="27.17" height="38" fill="#c8e7a3"/>
<rect x="456.91" y="815" width="27.17" height="38" fill="#d6edaa"/>
<rect x="483.88" y="815" width="27.17" height="38" fill="#f1f9b8"/>
<rect x="510.85" y="815" width="27.17" height="38" fill="#d6edaa"/>
<rect x="537.82" y="815" width="27.17" height="38" fill="#e4f3b1"/>
<rect x="564.79" y="815" width="27.17" height="38" fill="#d6edaa"/>
<rect x="106.3" y="852.8" width="27.17" height="38" fill="#4db064"/>
<rect x="133.27" y="852.8" width="27.17" height="38" fill="#5bb66b"/>
<rect x="160.24" y="852.8" width="27.17" height="38" fill="#40aa5d"/>
<rect x="187.21" y="852.8" width="27.17" height="38" fill="#4db064"/>
<rect x="214.18" y="852.8" width="27.17" height="38" fill="#40aa5d"/>
<rect x="241.15" y="852.8" width="27.17" height="38" fill="#40aa5d"/>
<rect x="268.12" y="852.8" width="27.17" height="38" fill="#9fd58e"/>
<rect x="295.09" y="852.8" width="27.17" height="38" fill="#9fd58e"/>
<rect x="322.06" y="852.8" width="27.17" height="38" fill="#9fd58e"/>
<rect x="349.03" y="852.8" width="27.17" height="38" fill="#9fd58e"/>
<rect x="376" y="852.8" width="27.17" height="38" fill="#9fd58e"/>
<rect x="402.97" y="852.8" width="27.17" height="38" fill="#9fd58e"/>
<rect x="429.94" y="852.8" width="27.17" height="38" fill="#40aa5d"/>
<rect x="456.91" y="852.8" width="27.17" height="38" fill="#5bb66b"/>
<rect x="483.88" y="852.8" width="27.17" height="38" fill="#5bb66b"/>
<rect x="510.85" y="852.8" width="27.17" height="38" fill="#40aa5d"/>
<rect x="537.82" y="852.8" width="27.17" height="38" fill="#69bc72"/>
<rect x="564.79" y="852.8" width="27.17" height="38" fill="#4db064"/>
<rect x="106.3" y="890.6" width="27.17" height="38" fill="#addb95"/>
<rect x="133.27" y="890.6" width="27.17" height="38" fill="#bbe19c"/>
<rect x="160.24" y="890.6" width="27.17" height="38" fill="#addb95"/>
<rect x="187.21" y="890.6" width="27.17" height="38" fill="#addb95"/>
<rect x="214.18" y="890.6" width="27.17" height="38" fill="#addb95"/>
<rect x="241.15" y="890.6" width="27.17" height="38" fill="#9fd58e"/>
<rect x="268.12" y="890.6" width="27.17" height="38" fill="#e4f3b1"/>
<rect x="295.09" y="890.6" width="27.17" height="38" fill="#e4f3b1"/>
<rect x="322.06" y="890.6" width="27.17" height="38" fill="#d6edaa"/>
<rect x="349.03" y="890.6" width="27.17" height="38" fill="#d6edaa"/>
<rect x="376" y="890.6" width="27.17" height="38" fill="#d6edaa"/>
<rect x="402.97" y="890.6" width="27.17" height="38" fill="#e4f3b1"/>
<rect x="429.94" y="890.6" width="27.17" height="38" fill="#9fd58e"/>
<rect x="456.91" y="890.6" width="27.17" height="38" fill="#c8e7a3"/>
<rect x="483.88" y="890.6" width="27.17" height="38" fill="#bbe19c"/>
<rect x="510.85" y="890.6" width="27.17" height="38" fill="#addb95"/>
<rect x="537.82" y="890.6" width="27.17" height="38" fill="#addb95"/>
<rect x="564.79" y="890.6" width="27.17" height="38" fill="#bbe19c"/>
<rect x="106.3" y="928.4" width="27.17" height="38" fill="#addb95"/>
<rect x="133.27" y="928.4" width="27.17" height="38" fill="#9fd58e"/>
<rect x="160.24" y="928.4" width="27.17" height="38" fill="#addb95"/>
<rect x="187.21" y="928.4" width="27.17" height="38" fill="#addb95"/>
<rect x="214.18" y="928.4" width="27.17" height="38" fill="#bbe19c"/>
<rect x="241.15" y="928.4" width="27.17" height="38" fill="#bbe19c"/>
<rect x="268.12" y="928.4" width="27.17" height="38" fill="#e4f3b1"/>
<rect x="295.09" y="928.4" width="27.17" height="38" fill="#bbe19c"/>
<rect x="322.06" y="928.4" width="27.17" height="38" fill="#addb95"/>
<rect x="349.03" y="928.4" width="27.17" height="38" fill="#bbe19c"/>
<rect x="376" y="928.4" width="27.17" height="38" fill="#bbe19c"/>
<rect x="402.97" y="928.4" width="27.17" height="38" fill="#bbe19c"/>
<rect x="429.94" y="928.4" width="27.17" height="38" fill="#addb95"/>
<rect x="456.91" y="928.4" width="27.17" height="38" fill="#f1f9b8"/>
<rect x="483.88" y="928.4" width="27.17" height="38" fill="#f8fcbc"/>
<rect x="510.85" y="928.4" width="27.17" height="38" fill="#d6edaa"/>
<rect x="537.82" y="928.4" width="27.17" height="38" fill="#c8e7a3"/>
<rect x="564.79" y="928.4" width="27.17" height="38" fill="#d6edaa"/>
<rect x="106.3" y="966.2" width="27.17" height="38" fill="#5bb66b"/>
<rect x="133.27" y="966.2" width="27.17" height="38" fill="#69bc72"/>
<rect x="160.24" y="966.2" width="27.17" height="38" fill="#4db064"/>
<rect x="187.21" y="966.2" width="27.17" height="38" fill="#5bb66b"/>
<rect x="214.18" y="966.2" width="27.17" height="38" fill="#4db064"/>
<rect x="241.15" y="966.2" width="27.17" height="38" fill="#4db064"/>
<rect x="268.12" y="966.2" width="27.17" height="38" fill="#bbe19c"/>
<rect x="295.09" y="966.2" width="27.17" height="38" fill="#76c279"/>
<rect x="322.06" y="966.2" width="27.17" height="38" fill="#69bc72"/>
<rect x="349.03" y="966.2" width="27.17" height="38" fill="#76c279"/>
<rect x="376" y="966.2" width="27.17" height="38" fill="#76c279"/>
<rect x="402.97" y="966.2" width="27.17" height="38" fill="#69bc72"/>
<rect x="429.94" y="966.2" width="27.17" height="38" fill="#5bb66b"/>
<rect x="456.91" y="966.2" width="27.17" height="38" fill="#5bb66b"/>
<rect x="483.88" y="966.2" width="27.17" height="38" fill="#5bb66b"/>
<rect x="510.85" y="966.2" width="27.17" height="38" fill="#5bb66b"/>
<rect x="537.82" y="966.2" width="27.17" height="38" fill="#4db064"/>
<rect x="564.79" y="966.2" width="27.17" height="38" fill="#4db064"/>
<rect x="106.3" y="1004" width="27.17" height="38" fill="#addb95"/>
<rect x="133.27" y="1004" width="27.17" height="38" fill="#bbe19c"/>
<rect x="160.24" y="1004" width="27.17" height="38" fill="#addb95"/>
<rect x="187.21" y="1004" width="27.17" height="38" fill="#addb95"/>
<rect x="214.18" y="1004" width="27.17" height="38" fill="#9fd58e"/>
<rect x="241.15" y="1004" width="27.17" height="38" fill="#9fd58e"/>
<rect x="268.12" y="1004" width="27.17" height="38" fill="#f8fcbc"/>
<rect x="295.09" y="1004" width="27.17" height="38" fill="#e4f3b1"/>
<rect x="322.06" y="1004" width="27.17" height="38" fill="#e4f3b1"/>
<rect x="349.03" y="1004" width="27.17" height="38" fill="#e4f3b1"/>
<rect x="376" y="1004" width="27.17" height="38" fill="#e4f3b1"/>
<rect x="402.97" y="1004" width="27.17" height="38" fill="#f8fcbc"/>
<rect x="429.94" y="1004" width="27.17" height="38" fill="#9fd58e"/>
<rect x="456.91" y="1004" width="27.17" height="38" fill="#addb95"/>
<rect x="483.88" y="1004" width="27.17" height="38" fill="#addb95"/>
<rect x="510.85" y="1004" width="27.17" height="38" fill="#addb95"/>
<rect x="537.82" y="1004" width="27.17" height="38" fill="#addb95"/>
<rect x="564.79" y="1004" width="27.17" height="38" fill="#addb95"/>
<rect x="106.3" y="1041.8" width="27.17" height="38" fill="#fbf2b6"/>
<rect x="133.27" y="1041.8" width="27.17" height="38" fill="#fbf2b6"/>
<rect x="160.24" y="1041.8" width="27.17" height="38" fill="#fbf2b6"/>
<rect x="187.21" y="1041.8" width="27.17" height="38" fill="#fbf2b6"/>
<rect x="214.18" y="1041.8" width="27.17" height="38" fill="#f8e5ac"/>
<rect x="241.15" y="1041.8" width="27.17" height="38" fill="#f8e5ac"/>
<rect x="268.12" y="1041.8" width="27.17" height="38" fill="#f0cc99"/>
<rect x="295.09" y="1041.8" width="27.17" height="38" fill="#f0cc99"/>
<rect x="322.06" y="1041.8" width="27.17" height="38" fill="#f4d8a3"/>
<rect x="349.03" y="1041.8" width="27.17" height="38" fill="#f4d8a3"/>
<rect x="376" y="1041.8" width="27.17" height="38" fill="#f4d8a3"/>
<rect x="402.97" y="1041.8" width="27.17" height="38" fill="#f4d8a3"/>
<rect x="429.94" y="1041.8" width="27.17" height="38" fill="#fbf2b6"/>
<rect x="456.91" y="1041.8" width="27.17" height="38" fill="#f0cc99"/>
<rect x="483.88" y="1041.8" width="27.17" height="38" fill="#f4d8a3"/>
<rect x="510.85" y="1041.8" width="27.17" height="38" fill="#f8e5ac"/>
<rect x="537.82" y="1041.8" width="27.17" height="38" fill="#f4d8a3"/>
<rect x="564.79" y="1041.8" width="27.17" height="38" fill="#f8e5ac"/>
<rect x="106.3" y="1079.6" width="27.17" height="38" fill="#92ce87"/>
<rect x="133.27" y="1079.6" width="27.17" height="38" fill="#92ce87"/>
<rect x="160.24" y="1079.6" width="27.17" height="38" fill="#84c880"/>
<rect x="187.21" y="1079.6" width="27.17" height="38" fill="#92ce87"/>
<rect x="214.18" y="1079.6" width="27.17" height="38" fill="#92ce87"/>
<rect x="241.15" y="1079.6" width="27.17" height="38" fill="#84c880"/>
<rect x="268.12" y="1079.6" width="27.17" height="38" fill="#d6edaa"/>
<rect x="295.09" y="1079.6" width="27.17" height="38" fill="#e4f3b1"/>
<rect x="322.06" y="1079.6" width="27.17" height="38" fill="#d6edaa"/>
<rect x="349.03" y="1079.6" width="27.17" height="38" fill="#c8e7a3"/>
<rect x="376" y="1079.6" width="27.17" height="38" fill="#d6edaa"/>
<rect x="402.97" y="1079.6" width="27.17" height="38" fill="#d6edaa"/>
<rect x="429.94" y="1079.6" width="27.17" height="38" fill="#92ce87"/>
<rect x="456.91" y="1079.6" width="27.17" height="38" fill="#9fd58e"/>
<rect x="483.88" y="1079.6" width="27.17" height="38" fill="#9fd58e"/>
<rect x="510.85" y="1079.6" width="27.17" height="38" fill="#9fd58e"/>
<rect x="537.82" y="1079.6" width="27.17" height="38" fill="#addb95"/>
<rect x="564.79" y="1079.6" width="27.17" height="38" fill="#9fd58e"/>
<rect x="106.3" y="1117.4" width="27.17" height="38" fill="#e4f3b1"/>
<rect x="133.27" y="1117.4" width="27.17" height="38" fill="#f8fcbc"/>
<rect x="160.24" y="1117.4" width="27.17" height="38" fill="#f1f9b8"/>
<rect x="187.21" y="1117.4" width="27.17" height="38" fill="#f1f9b8"/>
<rect x="214.18" y="1117.4" width="27.17" height="38" fill="#f8fcbc"/>
<rect x="241.15" y="1117.4" width="27.17" height="38" fill="#f1f9b8"/>
<rect x="268.12" y="1117.4" width="27.17" height="38" fill="#f0cc99"/>
<rect x="295.09" y="1117.4" width="27.17" height="38" fill="#f8e5ac"/>
<rect x="322.06" y="1117.4" width="27.17" height="38" fill="#f8e5ac"/>
<rect x="349.03" y="1117.4" width="27.17" height="38" fill="#f8e5ac"/>
<rect x="376" y="1117.4" width="27.17" height="38" fill="#f4d8a3"/>
<rect x="402.97" y="1117.4" width="27.17" height="38" fill="#f8e5ac"/>
<rect x="429.94" y="1117.4" width="27.17" height="38" fill="#f8fcbc"/>
<rect x="456.91" y="1117.4" width="27.17" height="38" fill="#fbf2b6"/>
<rect x="483.88" y="1117.4" width="27.17" height="38" fill="#f8e5ac"/>
<rect x="510.85" y="1117.4" width="27.17" height="38" fill="#fbf2b6"/>
<rect x="537.82" y="1117.4" width="27.17" height="38" fill="#fbf2b6"/>
<rect x="564.79" y="1117.4" width="27.17" height="38" fill="#fbf2b6"/>
</g>
<path class="grid" d="M106.3 21.2V1155.2M133.27 21.2V1155.2M160.24 21.2V1155.2M187.21 21.2V1155.2M214.18 21.2V1155.2M241.15 21.2V1155.2M268.12 21.2V1155.2M295.09 21.2V1155.2M322.06 21.2V1155.2M349.03 21.2V1155.2M376 21.2V1155.2M402.97 21.2V1155.2M429.94 21.2V1155.2M456.91 21.2V1155.2M483.88 21.2V1155.2M510.85 21.2V1155.2M537.82 21.2V1155.2M564.79 21.2V1155.2M591.76 21.2V1155.2M106.3 21.2H591.76M106.3 59H591.76M106.3 96.8H591.76M106.3 134.6H591.76M106.3 172.4H591.76M106.3 210.2H591.76M106.3 248H591.76M106.3 285.8H591.76M106.3 323.6H591.76M106.3 361.4H591.76M106.3 399.2H591.76M106.3 437H591.76M106.3 474.8H591.76M106.3 512.6H591.76M106.3 550.4H591.76M106.3 588.2H591.76M106.3 626H591.76M106.3 663.8H591.76M106.3 701.6H591.76M106.3 739.4H591.76M106.3 777.2H591.76M106.3 815H591.76M106.3 852.8H591.76M106.3 890.6H591.76M106.3 928.4H591.76M106.3 966.2H591.76M106.3 1004H591.76M106.3 1041.8H591.76M106.3 1079.6H591.76M106.3 1117.4H591.76M106.3 1155.2H591.76" fill="none" stroke="#959595" stroke-width="3.3" stroke-linecap="square"/>
<g class="rl" font-size="21.25">
<text x="608" y="48.1">microtubule-based process(50)</text>
<text x="608" y="85.9">apoplast(74)</text>
<text x="608" y="123.7">heterocyclic compound binding(4889)</text>
<text x="608" y="161.5">respiratory chain(8)</text>
<text x="608" y="199.3">single-organism metabolic process(1329)</text>
<text x="608" y="237.1">protein folding(201)</text>
<text x="608" y="274.9">organelle membrane(2)</text>
<text x="608" y="312.7">cell adhesion(6)</text>
<text x="608" y="350.5">molybdopterin synthase complex(5)</text>
<text x="608" y="388.3">multicellular organism reproduction(2)</text>
<text x="608" y="426.1">regulation of biological quality(305)</text>
<text x="608" y="463.9">chromatin binding(46)</text>
<text x="608" y="501.7">lipid binding(46)</text>
<text x="608" y="539.5">cell periphery(855)</text>
<text x="608" y="577.3">supramolecular polymer(105)</text>
<text x="608" y="615.1">hormone binding(3)</text>
<text x="608" y="652.9">multi-multicellular organism process(60)</text>
<text x="608" y="690.7">cell part(3)</text>
<text x="608" y="728.5">modified amino acid binding(2)</text>
<text x="608" y="766.3">nitrogen utilization(2)</text>
<text x="608" y="804.1">extrinsic component of membrane(12)</text>
<text x="608" y="841.9">sulfur compound binding(17)</text>
<text x="608" y="879.7">carbohydrate derivative binding(14)</text>
<text x="608" y="917.5">regulation of molecular function(270)</text>
<text x="608" y="955.3">extracellular space(7)</text>
<text x="608" y="993.1">primary metabolic process(7)</text>
<text x="608" y="1030.9">cellular component organization(786)</text>
<text x="608" y="1068.7">cellular detoxification(68)</text>
<text x="608" y="1106.5">response to stress(303)</text>
<text x="608" y="1144.3">multi-organism localization(2)</text>
</g>
<g class="cl" font-size="21.4">
<text transform="translate(112.19 1171.7) rotate(90)">XJ0hR1</text>
<text transform="translate(139.16 1171.7) rotate(90)">XJ0hR2</text>
<text transform="translate(166.12 1171.7) rotate(90)">XJ0hR3</text>
<text transform="translate(193.09 1171.7) rotate(90)">XJ0hS1</text>
<text transform="translate(220.06 1171.7) rotate(90)">XJ0hS2</text>
<text transform="translate(247.03 1171.7) rotate(90)">XJ0hS3</text>
<text transform="translate(274 1171.7) rotate(90)">XJ12hR1</text>
<text transform="translate(300.97 1171.7) rotate(90)">XJ12hR2</text>
<text transform="translate(327.94 1171.7) rotate(90)">XJ12hR3</text>
<text transform="translate(354.91 1171.7) rotate(90)">XJ12hS1</text>
<text transform="translate(381.88 1171.7) rotate(90)">XJ12hS2</text>
<text transform="translate(408.85 1171.7) rotate(90)">XJ12hS3</text>
<text transform="translate(435.82 1171.7) rotate(90)">XJ24hR1</text>
<text transform="translate(462.79 1171.7) rotate(90)">XJ24hR2</text>
<text transform="translate(489.76 1171.7) rotate(90)">XJ24hR3</text>
<text transform="translate(516.73 1171.7) rotate(90)">XJ24hS1</text>
<text transform="translate(543.7 1171.7) rotate(90)">XJ24hS2</text>
<text transform="translate(570.67 1171.7) rotate(90)">XJ24hS3</text>
</g>
<rect x="1034.6" y="21.5" width="53.7" height="324" fill="url(#lg)"/>
<g class="ll" font-size="20.6">
<text x="1109.8" y="88.4">4</text>
<text x="1109.8" y="157.7">3</text>
<text x="1109.8" y="227.1">2</text>
<text x="1109.8" y="296.5">1</text>
</g>
<text class="pl" x="34" y="65.1" font-size="71">A</text>
<g class="hm">
<rect x="1259.1" y="21" width="27.17" height="38" fill="#d6edaa"/>
<rect x="1286.07" y="21" width="27.17" height="38" fill="#e4f3b1"/>
<rect x="1313.04" y="21" width="27.17" height="38" fill="#d6edaa"/>
<rect x="1340.01" y="21" width="27.17" height="38" fill="#e4f3b1"/>
<rect x="1366.98" y="21" width="27.17" height="38" fill="#bbe19c"/>
<rect x="1393.95" y="21" width="27.17" height="38" fill="#c8e7a3"/>
<rect x="1420.92" y="21" width="27.17" height="38" fill="#edbf90"/>
<rect x="1447.89" y="21" width="27.17" height="38" fill="#edbf90"/>
<rect x="1474.86" y="21" width="27.17" height="38" fill="#f0cc99"/>
<rect x="1501.83" y="21" width="27.17" height="38" fill="#f0cc99"/>
<rect x="1528.8" y="21" width="27.17" height="38" fill="#edbf90"/>
<rect x="1555.77" y="21" width="27.17" height="38" fill="#f4d8a3"/>
<rect x="1582.74" y="21" width="27.17" height="38" fill="#addb95"/>
<rect x="1609.71" y="21" width="27.17" height="38" fill="#d6edaa"/>
<rect x="1636.68" y="21" width="27.17" height="38" fill="#d6edaa"/>
<rect x="1663.65" y="21" width="27.17" height="38" fill="#d6edaa"/>
<rect x="1690.62" y="21" width="27.17" height="38" fill="#bbe19c"/>
<rect x="1717.59" y="21" width="27.17" height="38" fill="#d6edaa"/>
<rect x="1259.1" y="58.8" width="27.17" height="38" fill="#f4d8a3"/>
<rect x="1286.07" y="58.8" width="27.17" height="38" fill="#e9b287"/>
<rect x="1313.04" y="58.8" width="27.17" height="38" fill="#edbf90"/>
<rect x="1340.01" y="58.8" width="27.17" height="38" fill="#edbf90"/>
<rect x="1366.98" y="58.8" width="27.17" height="38" fill="#fbf2b6"/>
<rect x="1393.95" y="58.8" width="27.17" height="38" fill="#f8e5ac"/>
<rect x="1420.92" y="58.8" width="27.17" height="38" fill="#e5a57d"/>
<rect x="1447.89" y="58.8" width="27.17" height="38" fill="#edbf90"/>
<rect x="1474.86" y="58.8" width="27.17" height="38" fill="#e9b287"/>
<rect x="1501.83" y="58.8" width="27.17" height="38" fill="#edbf90"/>
<rect x="1528.8" y="58.8" width="27.17" height="38" fill="#edbf90"/>
<rect x="1555.77" y="58.8" width="27.17" height="38" fill="#e9b287"/>
<rect x="1582.74" y="58.8" width="27.17" height="38" fill="#e4f3b1"/>
<rect x="1609.71" y="58.8" width="27.17" height="38" fill="#f8e5ac"/>
<rect x="1636.68" y="58.8" width="27.17" height="38" fill="#f8e5ac"/>
<rect x="1663.65" y="58.8" width="27.17" height="38" fill="#e4f3b1"/>
<rect x="1690.62" y="58.8" width="27.17" height="38" fill="#f1f9b8"/>
<rect x="1717.59" y="58.8" width="27.17" height="38" fill="#fbf2b6"/>
<rect x="1259.1" y="96.6" width="27.17" height="38" fill="#9fd58e"/>
<rect x="1286.07" y="96.6" width="27.17" height="38" fill="#addb95"/>
<rect x="1313.04" y="96.6" width="27.17" height="38" fill="#9fd58e"/>
<rect x="1340.01" y="96.6" width="27.17" height="38" fill="#9fd58e"/>
<rect x="1366.98" y="96.6" width="27.17" height="38" fill="#9fd58e"/>
<rect x="1393.95" y="96.6" width="27.17" height="38" fill="#9fd58e"/>
<rect x="1420.92" y="96.6" width="27.17" height="38" fill="#f1f9b8"/>
<rect x="1447.89" y="96.6" width="27.17" height="38" fill="#e4f3b1"/>
<rect x="1474.86" y="96.6" width="27.17" height="38" fill="#d6edaa"/>
<rect x="1501.83" y="96.6" width="27.17" height="38" fill="#d6edaa"/>
<rect x="1528.8" y="96.6" width="27.17" height="38" fill="#d6edaa"/>
<rect x="1555.77" y="96.6" width="27.17" height="38" fill="#e4f3b1"/>
<rect x="1582.74" y="96.6" width="27.17" height="38" fill="#9fd58e"/>
<rect x="1609.71" y="96.6" width="27.17" height="38" fill="#addb95"/>
<rect x="1636.68" y="96.6" width="27.17" height="38" fill="#addb95"/>
<rect x="1663.65" y="96.6" width="27.17" height="38" fill="#9fd58e"/>
<rect x="1690.62" y="96.6" width="27.17" height="38" fill="#addb95"/>
<rect x="1717.59" y="96.6" width="27.17" height="38" fill="#addb95"/>
<rect x="1259.1" y="134.4" width="27.17" height="38" fill="#bbe19c"/>
<rect x="1286.07" y="134.4" width="27.17" height="38" fill="#9fd58e"/>
<rect x="1313.04" y="134.4" width="27.17" height="38" fill="#bbe19c"/>
<rect x="1340.01" y="134.4" width="27.17" height="38" fill="#bbe19c"/>
<rect x="1366.98" y="134.4" width="27.17" height="38" fill="#bbe19c"/>
<rect x="1393.95" y="134.4" width="27.17" height="38" fill="#bbe19c"/>
<rect x="1420.92" y="134.4" width="27.17" height="38" fill="#f8e5ac"/>
<rect x="1447.89" y="134.4" width="27.17" height="38" fill="#fbf2b6"/>
<rect x="1474.86" y="134.4" width="27.17" height="38" fill="#f8fcbc"/>
<rect x="1501.83" y="134.4" width="27.17" height="38" fill="#f8fcbc"/>
<rect x="1528.8" y="134.4" width="27.17" height="38" fill="#f8fcbc"/>
<rect x="1555.77" y="134.4" width="27.17" height="38" fill="#f1f9b8"/>
<rect x="1582.74" y="134.4" width="27.17" height="38" fill="#bbe19c"/>
<rect x="1609.71" y="134.4" width="27.17" height="38" fill="#f1f9b8"/>
<rect x="1636.68" y="134.4" width="27.17" height="38" fill="#fbf2b6"/>
<rect x="1663.65" y="134.4" width="27.17" height="38" fill="#bbe19c"/>
<rect x="1690.62" y="134.4" width="27.17" height="38" fill="#d6edaa"/>
<rect x="1717.59" y="134.4" width="27.17" height="38" fill="#bbe19c"/>
<rect x="1259.1" y="172.2" width="27.17" height="38" fill="#bbe19c"/>
<rect x="1286.07" y="172.2" width="27.17" height="38" fill="#c8e7a3"/>
<rect x="1313.04" y="172.2" width="27.17" height="38" fill="#bbe19c"/>
<rect x="1340.01" y="172.2" width="27.17" height="38" fill="#bbe19c"/>
<rect x="1366.98" y="172.2" width="27.17" height="38" fill="#bbe19c"/>
<rect x="1393.95" y="172.2" width="27.17" height="38" fill="#bbe19c"/>
<rect x="1420.92" y="172.2" width="27.17" height="38" fill="#fbf2b6"/>
<rect x="1447.89" y="172.2" width="27.17" height="38" fill="#f8fcbc"/>
<rect x="1474.86" y="172.2" width="27.17" height="38" fill="#e4f3b1"/>
<rect x="1501.83" y="172.2" width="27.17" height="38" fill="#e4f3b1"/>
<rect x="1528.8" y="172.2" width="27.17" height="38" fill="#e4f3b1"/>
<rect x="1555.77" y="172.2" width="27.17" height="38" fill="#e4f3b1"/>
<rect x="1582.74" y="172.2" width="27.17" height="38" fill="#addb95"/>
<rect x="1609.71" y="172.2" width="27.17" height="38" fill="#c8e7a3"/>
<rect x="1636.68" y="172.2" width="27.17" height="38" fill="#d6edaa"/>
<rect x="1663.65" y="172.2" width="27.17" height="38" fill="#bbe19c"/>
<rect x="1690.62" y="172.2" width="27.17" height="38" fill="#c8e7a3"/>
<rect x="1717.59" y="172.2" width="27.17" height="38" fill="#c8e7a3"/>
<rect x="1259.1" y="210" width="27.17" height="38" fill="#d6edaa"/>
<rect x="1286.07" y="210" width="27.17" height="38" fill="#e4f3b1"/>
<rect x="1313.04" y="210" width="27.17" height="38" fill="#d6edaa"/>
<rect x="1340.01" y="210" width="27.17" height="38" fill="#d6edaa"/>
<rect x="1366.98" y="210" width="27.17" height="38" fill="#d6edaa"/>
<rect x="1393.95" y="210" width="27.17" height="38" fill="#c8e7a3"/>
<rect x="1420.92" y="210" width="27.17" height="38" fill="#f0cc99"/>
<rect x="1447.89" y="210" width="27.17" height="38" fill="#f4d8a3"/>
<rect x="1474.86" y="210" width="27.17" height="38" fill="#fbf2b6"/>
<rect x="1501.83" y="210" width="27.17" height="38" fill="#f8e5ac"/>
<rect x="1528.8" y="210" width="27.17" height="38" fill="#f8e5ac"/>
<rect x="1555.77" y="210" width="27.17" height="38" fill="#f8e5ac"/>
<rect x="1582.74" y="210" width="27.17" height="38" fill="#d6edaa"/>
<rect x="1609.71" y="210" width="27.17" height="38" fill="#fbf2b6"/>
<rect x="1636.68" y="210" width="27.17" height="38" fill="#fbf2b6"/>
<rect x="1663.65" y="210" width="27.17" height="38" fill="#e4f3b1"/>
<rect x="1690.62" y="210" width="27.17" height="38" fill="#f1f9b8"/>
<rect x="1717.59" y="210" width="27.17" height="38" fill="#e4f3b1"/>
<rect x="1259.1" y="247.8" width="27.17" height="38" fill="#e5a57d"/>
<rect x="1286.07" y="247.8" width="27.17" height="38" fill="#e5a57d"/>
<rect x="1313.04" y="247.8" width="27.17" height="38" fill="#e9b287"/>
<rect x="1340.01" y="247.8" width="27.17" height="38" fill="#e5a57d"/>
<rect x="1366.98" y="247.8" width="27.17" height="38" fill="#e9b287"/>
<rect x="1393.95" y="247.8" width="27.17" height="38" fill="#e9b287"/>
<rect x="1420.92" y="247.8" width="27.17" height="38" fill="#c83e32"/>
<rect x="1447.89" y="247.8" width="27.17" height="38" fill="#cf5845"/>
<rect x="1474.86" y="247.8" width="27.17" height="38" fill="#cf5845"/>
<rect x="1501.83" y="247.8" width="27.17" height="38" fill="#d3654e"/>
<rect x="1528.8" y="247.8" width="27.17" height="38" fill="#cf5845"/>
<rect x="1555.77" y="247.8" width="27.17" height="38" fill="#cf5845"/>
<rect x="1582.74" y="247.8" width="27.17" height="38" fill="#f4d8a3"/>
<rect x="1609.71" y="247.8" width="27.17" height="38" fill="#e9b287"/>
<rect x="1636.68" y="247.8" width="27.17" height="38" fill="#e9b287"/>
<rect x="1663.65" y="247.8" width="27.17" height="38" fill="#e5a57d"/>
<rect x="1690.62" y="247.8" width="27.17" height="38" fill="#e9b287"/>
<rect x="1717.59" y="247.8" width="27.17" height="38" fill="#e9b287"/>
<rect x="1259.1" y="285.6" width="27.17" height="38" fill="#84c880"/>
<rect x="1286.07" y="285.6" width="27.17" height="38" fill="#92ce87"/>
<rect x="1313.04" y="285.6" width="27.17" height="38" fill="#84c880"/>
<rect x="1340.01" y="285.6" width="27.17" height="38" fill="#76c279"/>
<rect x="1366.98" y="285.6" width="27.17" height="38" fill="#76c279"/>
<rect x="1393.95" y="285.6" width="27.17" height="38" fill="#76c279"/>
<rect x="1420.92" y="285.6" width="27.17" height="38" fill="#bbe19c"/>
<rect x="1447.89" y="285.6" width="27.17" height="38" fill="#addb95"/>
<rect x="1474.86" y="285.6" width="27.17" height="38" fill="#addb95"/>
<rect x="1501.83" y="285.6" width="27.17" height="38" fill="#addb95"/>
<rect x="1528.8" y="285.6" width="27.17" height="38" fill="#9fd58e"/>
<rect x="1555.77" y="285.6" width="27.17" height="38" fill="#addb95"/>
<rect x="1582.74" y="285.6" width="27.17" height="38" fill="#76c279"/>
<rect x="1609.71" y="285.6" width="27.17" height="38" fill="#92ce87"/>
<rect x="1636.68" y="285.6" width="27.17" height="38" fill="#84c880"/>
<rect x="1663.65" y="285.6" width="27.17" height="38" fill="#76c279"/>
<rect x="1690.62" y="285.6" width="27.17" height="38" fill="#84c880"/>
<rect x="1717.59" y="285.6" width="27.17" height="38" fill="#84c880"/>
<rect x="1259.1" y="323.4" width="27.17" height="38" fill="#92ce87"/>
<rect x="1286.07" y="323.4" width="27.17" height="38" fill="#92ce87"/>
<rect x="1313.04" y="323.4" width="27.17" height="38" fill="#92ce87"/>
<rect x="1340.01" y="323.4" width="27.17" height="38" fill="#92ce87"/>
<rect x="1366.98" y="323.4" width="27.17" height="38" fill="#92ce87"/>
<rect x="1393.95" y="323.4" width="27.17" height="38" fill="#92ce87"/>
<rect x="1420.92" y="323.4" width="27.17" height="38" fill="#e4f3b1"/>
<rect x="1447.89" y="323.4" width="27.17" height="38" fill="#bbe19c"/>
<rect x="1474.86" y="323.4" width="27.17" height="38" fill="#bbe19c"/>
<rect x="1501.83" y="323.4" width="27.17" height="38" fill="#addb95"/>
<rect x="1528.8" y="323.4" width="27.17" height="38" fill="#bbe19c"/>
<rect x="1555.77" y="323.4" width="27.17" height="38" fill="#bbe19c"/>
<rect x="1582.74" y="323.4" width="27.17" height="38" fill="#92ce87"/>
<rect x="1609.71" y="323.4" width="27.17" height="38" fill="#9fd58e"/>
<rect x="1636.68" y="323.4" width="27.17" height="38" fill="#addb95"/>
<rect x="1663.65" y="323.4" width="27.17" height="38" fill="#92ce87"/>
<rect x="1690.62" y="323.4" width="27.17" height="38" fill="#9fd58e"/>
<rect x="1717.59" y="323.4" width="27.17" height="38" fill="#9fd58e"/>
<rect x="1259.1" y="361.2" width="27.17" height="38" fill="#40aa5d"/>
<rect x="1286.07" y="361.2" width="27.17" height="38" fill="#4db064"/>
<rect x="1313.04" y="361.2" width="27.17" height="38" fill="#40aa5d"/>
<rect x="1340.01" y="361.2" width="27.17" height="38" fill="#40aa5d"/>
<rect x="1366.98" y="361.2" width="27.17" height="38" fill="#40aa5d"/>
<rect x="1393.95" y="361.2" width="27.17" height="38" fill="#40aa5d"/>
<rect x="1420.92" y="361.2" width="27.17" height="38" fill="#69bc72"/>
<rect x="1447.89" y="361.2" width="27.17" height="38" fill="#69bc72"/>
<rect x="1474.86" y="361.2" width="27.17" height="38" fill="#69bc72"/>
<rect x="1501.83" y="361.2" width="27.17" height="38" fill="#69bc72"/>
<rect x="1528.8" y="361.2" width="27.17" height="38" fill="#69bc72"/>
<rect x="1555.77" y="361.2" width="27.17" height="38" fill="#69bc72"/>
<rect x="1582.74" y="361.2" width="27.17" height="38" fill="#32a456"/>
<rect x="1609.71" y="361.2" width="27.17" height="38" fill="#5bb66b"/>
<rect x="1636.68" y="361.2" width="27.17" height="38" fill="#40aa5d"/>
<rect x="1663.65" y="361.2" width="27.17" height="38" fill="#40aa5d"/>
<rect x="1690.62" y="361.2" width="27.17" height="38" fill="#32a456"/>
<rect x="1717.59" y="361.2" width="27.17" height="38" fill="#4db064"/>
<rect x="1259.1" y="399" width="27.17" height="38" fill="#c8e7a3"/>
<rect x="1286.07" y="399" width="27.17" height="38" fill="#d6edaa"/>
<rect x="1313.04" y="399" width="27.17" height="38" fill="#d6edaa"/>
<rect x="1340.01" y="399" width="27.17" height="38" fill="#c8e7a3"/>
<rect x="1366.98" y="399" width="27.17" height="38" fill="#bbe19c"/>
<rect x="1393.95" y="399" width="27.17" height="38" fill="#bbe19c"/>
<rect x="1420.92" y="399" width="27.17" height="38" fill="#f8e5ac"/>
<rect x="1447.89" y="399" width="27.17" height="38" fill="#fbf2b6"/>
<rect x="1474.86" y="399" width="27.17" height="38" fill="#f1f9b8"/>
<rect x="1501.83" y="399" width="27.17" height="38" fill="#f8fcbc"/>
<rect x="1528.8" y="399" width="27.17" height="38" fill="#fbf2b6"/>
<rect x="1555.77" y="399" width="27.17" height="38" fill="#fbf2b6"/>
<rect x="1582.74" y="399" width="27.17" height="38" fill="#bbe19c"/>
<rect x="1609.71" y="399" width="27.17" height="38" fill="#e4f3b1"/>
<rect x="1636.68" y="399" width="27.17" height="38" fill="#f1f9b8"/>
<rect x="1663.65" y="399" width="27.17" height="38" fill="#bbe19c"/>
<rect x="1690.62" y="399" width="27.17" height="38" fill="#d6edaa"/>
<rect x="1717.59" y="399" width="27.17" height="38" fill="#c8e7a3"/>
<rect x="1259.1" y="436.8" width="27.17" height="38" fill="#84c880"/>
<rect x="1286.07" y="436.8" width="27.17" height="38" fill="#92ce87"/>
<rect x="1313.04" y="436.8" width="27.17" height="38" fill="#84c880"/>
<rect x="1340.01" y="436.8" width="27.17" height="38" fill="#84c880"/>
<rect x="1366.98" y="436.8" width="27.17" height="38" fill="#84c880"/>
<rect x="1393.95" y="436.8" width="27.17" height="38" fill="#84c880"/>
<rect x="1420.92" y="436.8" width="27.17" height="38" fill="#bbe19c"/>
<rect x="1447.89" y="436.8" width="27.17" height="38" fill="#bbe19c"/>
<rect x="1474.86" y="436.8" width="27.17" height="38" fill="#addb95"/>
<rect x="1501.83" y="436.8" width="27.17" height="38" fill="#addb95"/>
<rect x="1528.8" y="436.8" width="27.17" height="38" fill="#bbe19c"/>
<rect x="1555.77" y="436.8" width="27.17" height="38" fill="#bbe19c"/>
<rect x="1582.74" y="436.8" width="27.17" height="38" fill="#84c880"/>
<rect x="1609.71" y="436.8" width="27.17" height="38" fill="#9fd58e"/>
<rect x="1636.68" y="436.8" width="27.17" height="38" fill="#92ce87"/>
<rect x="1663.65" y="436.8" width="27.17" height="38" fill="#92ce87"/>
<rect x="1690.62" y="436.8" width="27.17" height="38" fill="#84c880"/>
<rect x="1717.59" y="436.8" width="27.17" height="38" fill="#9fd58e"/>
<rect x="1259.1" y="474.6" width="27.17" height="38" fill="#fbf2b6"/>
<rect x="1286.07" y="474.6" width="27.17" height="38" fill="#fbf2b6"/>
<rect x="1313.04" y="474.6" width="27.17" height="38" fill="#f8e5ac"/>
<rect x="1340.01" y="474.6" width="27.17" height="38" fill="#e4f3b1"/>
<rect x="1366.98" y="474.6" width="27.17" height="38" fill="#e4f3b1"/>
<rect x="1393.95" y="474.6" width="27.17" height="38" fill="#d6edaa"/>
<rect x="1420.92" y="474.6" width="27.17" height="38" fill="#edbf90"/>
<rect x="1447.89" y="474.6" width="27.17" height="38" fill="#edbf90"/>
<rect x="1474.86" y="474.6" width="27.17" height="38" fill="#edbf90"/>
<rect x="1501.83" y="474.6" width="27.17" height="38" fill="#f0cc99"/>
<rect x="1528.8" y="474.6" width="27.17" height="38" fill="#edbf90"/>
<rect x="1555.77" y="474.6" width="27.17" height="38" fill="#f0cc99"/>
<rect x="1582.74" y="474.6" width="27.17" height="38" fill="#f4d8a3"/>
<rect x="1609.71" y="474.6" width="27.17" height="38" fill="#edbf90"/>
<rect x="1636.68" y="474.6" width="27.17" height="38" fill="#edbf90"/>
<rect x="1663.65" y="474.6" width="27.17" height="38" fill="#f0cc99"/>
<rect x="1690.62" y="474.6" width="27.17" height="38" fill="#f0cc99"/>
<rect x="1717.59" y="474.6" width="27.17" height="38" fill="#f8e5ac"/>
<rect x="1259.1" y="512.4" width="27.17" height="38" fill="#c8e7a3"/>
<rect x="1286.07" y="512.4" width="27.17" height="38" fill="#d6edaa"/>
<rect x="1313.04" y="512.4" width="27.17" height="38" fill="#c8e7a3"/>
<rect x="1340.01" y="512.4" width="27.17" height="38" fill="#c8e7a3"/>
<rect x="1366.98" y="512.4" width="27.17" height="38" fill="#bbe19c"/>
<rect x="1393.95" y="512.4" width="27.17" height="38" fill="#bbe19c"/>
<rect x="1420.92" y="512.4" width="27.17" height="38" fill="#f8fcbc"/>
<rect x="1447.89" y="512.4" width="27.17" height="38" fill="#f8fcbc"/>
<rect x="1474.86" y="512.4" width="27.17" height="38" fill="#e4f3b1"/>
<rect x="1501.83" y="512.4" width="27.17" height="38" fill="#e4f3b1"/>
<rect x="1528.8" y="512.4" width="27.17" height="38" fill="#e4f3b1"/>
<rect x="1555.77" y="512.4" width="27.17" height="38" fill="#f1f9b8"/>
<rect x="1582.74" y="512.4" width="27.17" height="38" fill="#bbe19c"/>
<rect x="1609.71" y="512.4" width="27.17" height="38" fill="#d6edaa"/>
<rect x="1636.68" y="512.4" width="27.17" height="38" fill="#d6edaa"/>
<rect x="1663.65" y="512.4" width="27.17" height="38" fill="#bbe19c"/>
<rect x="1690.62" y="512.4" width="27.17" height="38" fill="#c8e7a3"/>
<rect x="1717.59" y="512.4" width="27.17" height="38" fill="#c8e7a3"/>
<rect x="1259.1" y="550.2" width="27.17" height="38" fill="#bbe19c"/>
<rect x="1286.07" y="550.2" width="27.17" height="38" fill="#c8e7a3"/>
<rect x="1313.04" y="550.2" width="27.17" height="38" fill="#bbe19c"/>
<rect x="1340.01" y="550.2" width="27.17" height="38" fill="#bbe19c"/>
<rect x="1366.98" y="550.2" width="27.17" height="38" fill="#bbe19c"/>
<rect x="1393.95" y="550.2" width="27.17" height="38" fill="#addb95"/>
<rect x="1420.92" y="550.2" width="27.17" height="38" fill="#f8fcbc"/>
<rect x="1447.89" y="550.2" width="27.17" height="38" fill="#f1f9b8"/>
<rect x="1474.86" y="550.2" width="27.17" height="38" fill="#e4f3b1"/>
<rect x="1501.83" y="550.2" width="27.17" height="38" fill="#f1f9b8"/>
<rect x="1528.8" y="550.2" width="27.17" height="38" fill="#e4f3b1"/>
<rect x="1555.77" y="550.2" width="27.17" height="38" fill="#f8fcbc"/>
<rect x="1582.74" y="550.2" width="27.17" height="38" fill="#9fd58e"/>
<rect x="1609.71" y="550.2" width="27.17" height="38" fill="#addb95"/>
<rect x="1636.68" y="550.2" width="27.17" height="38" fill="#9fd58e"/>
<rect x="1663.65" y="550.2" width="27.17" height="38" fill="#9fd58e"/>
<rect x="1690.62" y="550.2" width="27.17" height="38" fill="#92ce87"/>
<rect x="1717.59" y="550.2" width="27.17" height="38" fill="#addb95"/>
<rect x="1259.1" y="588" width="27.17" height="38" fill="#69bc72"/>
<rect x="1286.07" y="588" width="27.17" height="38" fill="#76c279"/>
<rect x="1313.04" y="588" width="27.17" height="38" fill="#84c880"/>
<rect x="1340.01" y="588" width="27.17" height="38" fill="#84c880"/>
<rect x="1366.98" y="588" width="27.17" height="38" fill="#76c279"/>
<rect x="1393.95" y="588" width="27.17" height="38" fill="#69bc72"/>
<rect x="1420.92" y="588" width="27.17" height="38" fill="#addb95"/>
<rect x="1447.89" y="588" width="27.17" height="38" fill="#92ce87"/>
<rect x="1474.86" y="588" width="27.17" height="38" fill="#84c880"/>
<rect x="1501.83" y="588" width="27.17" height="38" fill="#84c880"/>
<rect x="1528.8" y="588" width="27.17" height="38" fill="#92ce87"/>
<rect x="1555.77" y="588" width="27.17" height="38" fill="#84c880"/>
<rect x="1582.74" y="588" width="27.17" height="38" fill="#92ce87"/>
<rect x="1609.71" y="588" width="27.17" height="38" fill="#e4f3b1"/>
<rect x="1636.68" y="588" width="27.17" height="38" fill="#f8fcbc"/>
<rect x="1663.65" y="588" width="27.17" height="38" fill="#92ce87"/>
<rect x="1690.62" y="588" width="27.17" height="38" fill="#addb95"/>
<rect x="1717.59" y="588" width="27.17" height="38" fill="#92ce87"/>
<rect x="1259.1" y="625.8" width="27.17" height="38" fill="#84c880"/>
<rect x="1286.07" y="625.8" width="27.17" height="38" fill="#92ce87"/>
<rect x="1313.04" y="625.8" width="27.17" height="38" fill="#84c880"/>
<rect x="1340.01" y="625.8" width="27.17" height="38" fill="#84c880"/>
<rect x="1366.98" y="625.8" width="27.17" height="38" fill="#84c880"/>
<rect x="1393.95" y="625.8" width="27.17" height="38" fill="#84c880"/>
<rect x="1420.92" y="625.8" width="27.17" height="38" fill="#d6edaa"/>
<rect x="1447.89" y="625.8" width="27.17" height="38" fill="#d6edaa"/>
<rect x="1474.86" y="625.8" width="27.17" height="38" fill="#c8e7a3"/>
<rect x="1501.83" y="625.8" width="27.17" height="38" fill="#d6edaa"/>
<rect x="1528.8" y="625.8" width="27.17" height="38" fill="#d6edaa"/>
<rect x="1555.77" y="625.8" width="27.17" height="38" fill="#c8e7a3"/>
<rect x="1582.74" y="625.8" width="27.17" height="38" fill="#84c880"/>
<rect x="1609.71" y="625.8" width="27.17" height="38" fill="#92ce87"/>
<rect x="1636.68" y="625.8" width="27.17" height="38" fill="#84c880"/>
<rect x="1663.65" y="625.8" width="27.17" height="38" fill="#92ce87"/>
<rect x="1690.62" y="625.8" width="27.17" height="38" fill="#84c880"/>
<rect x="1717.59" y="625.8" width="27.17" height="38" fill="#92ce87"/>
<rect x="1259.1" y="663.6" width="27.17" height="38" fill="#4db064"/>
<rect x="1286.07" y="663.6" width="27.17" height="38" fill="#4db064"/>
<rect x="1313.04" y="663.6" width="27.17" height="38" fill="#5bb66b"/>
<rect x="1340.01" y="663.6" width="27.17" height="38" fill="#69bc72"/>
<rect x="1366.98" y="663.6" width="27.17" height="38" fill="#69bc72"/>
<rect x="1393.95" y="663.6" width="27.17" height="38" fill="#5bb66b"/>
<rect x="1420.92" y="663.6" width="27.17" height="38" fill="#84c880"/>
<rect x="1447.89" y="663.6" width="27.17" height="38" fill="#92ce87"/>
<rect x="1474.86" y="663.6" width="27.17" height="38" fill="#92ce87"/>
<rect x="1501.83" y="663.6" width="27.17" height="38" fill="#92ce87"/>
<rect x="1528.8" y="663.6" width="27.17" height="38" fill="#92ce87"/>
<rect x="1555.77" y="663.6" width="27.17" height="38" fill="#92ce87"/>
<rect x="1582.74" y="663.6" width="27.17" height="38" fill="#69bc72"/>
<rect x="1609.71" y="663.6" width="27.17" height="38" fill="#76c279"/>
<rect x="1636.68" y="663.6" width="27.17" height="38" fill="#5bb66b"/>
<rect x="1663.65" y="663.6" width="27.17" height="38" fill="#84c880"/>
<rect x="1690.62" y="663.6" width="27.17" height="38" fill="#9fd58e"/>
<rect x="1717.59" y="663.6" width="27.17" height="38" fill="#84c880"/>
<rect x="1259.1" y="701.4" width="27.17" height="38" fill="#f4d8a3"/>
<rect x="1286.07" y="701.4" width="27.17" height="38" fill="#e5a57d"/>
<rect x="1313.04" y="701.4" width="27.17" height="38" fill="#edbf90"/>
<rect x="1340.01" y="701.4" width="27.17" height="38" fill="#f0cc99"/>
<rect x="1366.98" y="701.4" width="27.17" height="38" fill="#f8e5ac"/>
<rect x="1393.95" y="701.4" width="27.17" height="38" fill="#f0cc99"/>
<rect x="1420.92" y="701.4" width="27.17" height="38" fill="#cf5845"/>
<rect x="1447.89" y="701.4" width="27.17" height="38" fill="#e29874"/>
<rect x="1474.86" y="701.4" width="27.17" height="38" fill="#de8b6a"/>
<rect x="1501.83" y="701.4" width="27.17" height="38" fill="#e29874"/>
<rect x="1528.8" y="701.4" width="27.17" height="38" fill="#e29874"/>
<rect x="1555.77" y="701.4" width="27.17" height="38" fill="#de8b6a"/>
<rect x="1582.74" y="701.4" width="27.17" height="38" fill="#e4f3b1"/>
<rect x="1609.71" y="701.4" width="27.17" height="38" fill="#e9b287"/>
<rect x="1636.68" y="701.4" width="27.17" height="38" fill="#f4d8a3"/>
<rect x="1663.65" y="701.4" width="27.17" height="38" fill="#edbf90"/>
<rect x="1690.62" y="701.4" width="27.17" height="38" fill="#f0cc99"/>
<rect x="1717.59" y="701.4" width="27.17" height="38" fill="#f0cc99"/>
<rect x="1259.1" y="739.2" width="27.17" height="38" fill="#d6edaa"/>
<rect x="1286.07" y="739.2" width="27.17" height="38" fill="#f1f9b8"/>
<rect x="1313.04" y="739.2" width="27.17" height="38" fill="#f1f9b8"/>
<rect x="1340.01" y="739.2" width="27.17" height="38" fill="#c8e7a3"/>
<rect x="1366.98" y="739.2" width="27.17" height="38" fill="#bbe19c"/>
<rect x="1393.95" y="739.2" width="27.17" height="38" fill="#c8e7a3"/>
<rect x="1420.92" y="739.2" width="27.17" height="38" fill="#76c279"/>
<rect x="1447.89" y="739.2" width="27.17" height="38" fill="#92ce87"/>
<rect x="1474.86" y="739.2" width="27.17" height="38" fill="#92ce87"/>
<rect x="1501.83" y="739.2" width="27.17" height="38" fill="#92ce87"/>
<rect x="1528.8" y="739.2" width="27.17" height="38" fill="#76c279"/>
<rect x="1555.77" y="739.2" width="27.17" height="38" fill="#92ce87"/>
<rect x="1582.74" y="739.2" width="27.17" height="38" fill="#84c880"/>
<rect x="1609.71" y="739.2" width="27.17" height="38" fill="#84c880"/>
<rect x="1636.68" y="739.2" width="27.17" height="38" fill="#84c880"/>
<rect x="1663.65" y="739.2" width="27.17" height="38" fill="#84c880"/>
<rect x="1690.62" y="739.2" width="27.17" height="38" fill="#4db064"/>
<rect x="1717.59" y="739.2" width="27.17" height="38" fill="#addb95"/>
<rect x="1259.1" y="777" width="27.17" height="38" fill="#de8b6a"/>
<rect x="1286.07" y="777" width="27.17" height="38" fill="#de8b6a"/>
<rect x="1313.04" y="777" width="27.17" height="38" fill="#e9b287"/>
<rect x="1340.01" y="777" width="27.17" height="38" fill="#e29874"/>
<rect x="1366.98" y="777" width="27.17" height="38" fill="#de8b6a"/>
<rect x="1393.95" y="777" width="27.17" height="38" fill="#edbf90"/>
<rect x="1420.92" y="777" width="27.17" height="38" fill="#f0cc99"/>
<rect x="1447.89" y="777" width="27.17" height="38" fill="#f0cc99"/>
<rect x="1474.86" y="777" width="27.17" height="38" fill="#f4d8a3"/>
<rect x="1501.83" y="777" width="27.17" height="38" fill="#f0cc99"/>
<rect x="1528.8" y="777" width="27.17" height="38" fill="#f4d8a3"/>
<rect x="1555.77" y="777" width="27.17" height="38" fill="#f0cc99"/>
<rect x="1582.74" y="777" width="27.17" height="38" fill="#f0cc99"/>
<rect x="1609.71" y="777" width="27.17" height="38" fill="#e29874"/>
<rect x="1636.68" y="777" width="27.17" height="38" fill="#e9b287"/>
<rect x="1663.65" y="777" width="27.17" height="38" fill="#e5a57d"/>
<rect x="1690.62" y="777" width="27.17" height="38" fill="#fbf2b6"/>
<rect x="1717.59" y="777" width="27.17" height="38" fill="#e29874"/>
<rect x="1259.1" y="814.8" width="27.17" height="38" fill="#e4f3b1"/>
<rect x="1286.07" y="814.8" width="27.17" height="38" fill="#d6edaa"/>
<rect x="1313.04" y="814.8" width="27.17" height="38" fill="#e4f3b1"/>
<rect x="1340.01" y="814.8" width="27.17" height="38" fill="#d6edaa"/>
<rect x="1366.98" y="814.8" width="27.17" height="38" fill="#d6edaa"/>
<rect x="1393.95" y="814.8" width="27.17" height="38" fill="#c8e7a3"/>
<rect x="1420.92" y="814.8" width="27.17" height="38" fill="#f8e5ac"/>
<rect x="1447.89" y="814.8" width="27.17" height="38" fill="#f8e5ac"/>
<rect x="1474.86" y="814.8" width="27.17" height="38" fill="#fbf2b6"/>
<rect x="1501.83" y="814.8" width="27.17" height="38" fill="#f8e5ac"/>
<rect x="1528.8" y="814.8" width="27.17" height="38" fill="#f8e5ac"/>
<rect x="1555.77" y="814.8" width="27.17" height="38" fill="#f8e5ac"/>
<rect x="1582.74" y="814.8" width="27.17" height="38" fill="#c8e7a3"/>
<rect x="1609.71" y="814.8" width="27.17" height="38" fill="#d6edaa"/>
<rect x="1636.68" y="814.8" width="27.17" height="38" fill="#f1f9b8"/>
<rect x="1663.65" y="814.8" width="27.17" height="38" fill="#d6edaa"/>
<rect x="1690.62" y="814.8" width="27.17" height="38" fill="#e4f3b1"/>
<rect x="1717.59" y="814.8" width="27.17" height="38" fill="#d6edaa"/>
<rect x="1259.1" y="852.6" width="27.17" height="38" fill="#4db064"/>
<rect x="1286.07" y="852.6" width="27.17" height="38" fill="#5bb66b"/>
<rect x="1313.04" y="852.6" width="27.17" height="38" fill="#40aa5d"/>
<rect x="1340.01" y="852.6" width="27.17" height="38" fill="#4db064"/>
<rect x="1366.98" y="852.6" width="27.17" height="38" fill="#40aa5d"/>
<rect x="1393.95" y="852.6" width="27.17" height="38" fill="#40aa5d"/>
<rect x="1420.92" y="852.6" width="27.17" height="38" fill="#9fd58e"/>
<rect x="1447.89" y="852.6" width="27.17" height="38" fill="#9fd58e"/>
<rect x="1474.86" y="852.6" width="27.17" height="38" fill="#9fd58e"/>
<rect x="1501.83" y="852.6" width="27.17" height="38" fill="#9fd58e"/>
<rect x="1528.8" y="852.6" width="27.17" height="38" fill="#9fd58e"/>
<rect x="1555.77" y="852.6" width="27.17" height="38" fill="#9fd58e"/>
<rect x="1582.74" y="852.6" width="27.17" height="38" fill="#40aa5d"/>
<rect x="1609.71" y="852.6" width="27.17" height="38" fill="#5bb66b"/>
<rect x="1636.68" y="852.6" width="27.17" height="38" fill="#5bb66b"/>
<rect x="1663.65" y="852.6" width="27.17" height="38" fill="#40aa5d"/>
<rect x="1690.62" y="852.6" width="27.17" height="38" fill="#69bc72"/>
<rect x="1717.59" y="852.6" width="27.17" height="38" fill="#4db064"/>
<rect x="1259.1" y="890.4" width="27.17" height="38" fill="#addb95"/>
<rect x="1286.07" y="890.4" width="27.17" height="38" fill="#bbe19c"/>
<rect x="1313.04" y="890.4" width="27.17" height="38" fill="#addb95"/>
<rect x="1340.01" y="890.4" width="27.17" height="38" fill="#addb95"/>
<rect x="1366.98" y="890.4" width="27.17" height="38" fill="#addb95"/>
<rect x="1393.95" y="890.4" width="27.17" height="38" fill="#9fd58e"/>
<rect x="1420.92" y="890.4" width="27.17" height="38" fill="#e4f3b1"/>
<rect x="1447.89" y="890.4" width="27.17" height="38" fill="#e4f3b1"/>
<rect x="1474.86" y="890.4" width="27.17" height="38" fill="#d6edaa"/>
<rect x="1501.83" y="890.4" width="27.17" height="38" fill="#d6edaa"/>
<rect x="1528.8" y="890.4" width="27.17" height="38" fill="#d6edaa"/>
<rect x="1555.77" y="890.4" width="27.17" height="38" fill="#e4f3b1"/>
<rect x="1582.74" y="890.4" width="27.17" height="38" fill="#9fd58e"/>
<rect x="1609.71" y="890.4" width="27.17" height="38" fill="#c8e7a3"/>
<rect x="1636.68" y="890.4" width="27.17" height="38" fill="#bbe19c"/>
<rect x="1663.65" y="890.4" width="27.17" height="38" fill="#addb95"/>
<rect x="1690.62" y="890.4" width="27.17" height="38" fill="#addb95"/>
<rect x="1717.59" y="890.4" width="27.17" height="38" fill="#bbe19c"/>
<rect x="1259.1" y="928.2" width="27.17" height="38" fill="#addb95"/>
<rect x="1286.07" y="928.2" width="27.17" height="38" fill="#9fd58e"/>
<rect x="1313.04" y="928.2" width="27.17" height="38" fill="#addb95"/>
<rect x="1340.01" y="928.2" width="27.17" height="38" fill="#addb95"/>
<rect x="1366.98" y="928.2" width="27.17" height="38" fill="#bbe19c"/>
<rect x="1393.95" y="928.2" width="27.17" height="38" fill="#bbe19c"/>
<rect x="1420.92" y="928.2" width="27.17" height="38" fill="#e4f3b1"/>
<rect x="1447.89" y="928.2" width="27.17" height="38" fill="#bbe19c"/>
<rect x="1474.86" y="928.2" width="27.17" height="38" fill="#addb95"/>
<rect x="1501.83" y="928.2" width="27.17" height="38" fill="#bbe19c"/>
<rect x="1528.8" y="928.2" width="27.17" height="38" fill="#bbe19c"/>
<rect x="1555.77" y="928.2" width="27.17" height="38" fill="#bbe19c"/>
<rect x="1582.74" y="928.2" width="27.17" height="38" fill="#addb95"/>
<rect x="1609.71" y="928.2" width="27.17" height="38" fill="#f1f9b8"/>
<rect x="1636.68" y="928.2" width="27.17" height="38" fill="#f8fcbc"/>
<rect x="1663.65" y="928.2" width="27.17" height="38" fill="#d6edaa"/>
<rect x="1690.62" y="928.2" width="27.17" height="38" fill="#c8e7a3"/>
<rect x="1717.59" y="928.2" width="27.17" height="38" fill="#d6edaa"/>
<rect x="1259.1" y="966" width="27.17" height="38" fill="#5bb66b"/>
<rect x="1286.07" y="966" width="27.17" height="38" fill="#69bc72"/>
<rect x="1313.04" y="966" width="27.17" height="38" fill="#4db064"/>
<rect x="1340.01" y="966" width="27.17" height="38" fill="#5bb66b"/>
<rect x="1366.98" y="966" width="27.17" height="38" fill="#4db064"/>
<rect x="1393.95" y="966" width="27.17" height="38" fill="#4db064"/>
<rect x="1420.92" y="966" width="27.17" height="38" fill="#bbe19c"/>
<rect x="1447.89" y="966" width="27.17" height="38" fill="#76c279"/>
<rect x="1474.86" y="966" width="27.17" height="38" fill="#69bc72"/>
<rect x="1501.83" y="966" width="27.17" height="38" fill="#76c279"/>
<rect x="1528.8" y="966" width="27.17" height="38" fill="#76c279"/>
<rect x="1555.77" y="966" width="27.17" height="38" fill="#69bc72"/>
<rect x="1582.74" y="966" width="27.17" height="38" fill="#5bb66b"/>
<rect x="1609.71" y="966" width="27.17" height="38" fill="#5bb66b"/>
<rect x="1636.68" y="966" width="27.17" height="38" fill="#5bb66b"/>
<rect x="1663.65" y="966" width="27.17" height="38" fill="#5bb66b"/>
<rect x="1690.62" y="966" width="27.17" height="38" fill="#4db064"/>
<rect x="1717.59" y="966" width="27.17" height="38" fill="#4db064"/>
<rect x="1259.1" y="1003.8" width="27.17" height="38" fill="#addb95"/>
<rect x="1286.07" y="1003.8" width="27.17" height="38" fill="#bbe19c"/>
<rect x="1313.04" y="1003.8" width="27.17" height="38" fill="#addb95"/>
<rect x="1340.01" y="1003.8" width="27.17" height="38" fill="#addb95"/>
<rect x="1366.98" y="1003.8" width="27.17" height="38" fill="#9fd58e"/>
<rect x="1393.95" y="1003.8" width="27.17" height="38" fill="#9fd58e"/>
<rect x="1420.92" y="1003.8" width="27.17" height="38" fill="#f8fcbc"/>
<rect x="1447.89" y="1003.8" width="27.17" height="38" fill="#e4f3b1"/>
<rect x="1474.86" y="1003.8" width="27.17" height="38" fill="#e4f3b1"/>
<rect x="1501.83" y="1003.8" width="27.17" height="38" fill="#e4f3b1"/>
<rect x="1528.8" y="1003.8" width="27.17" height="38" fill="#e4f3b1"/>
<rect x="1555.77" y="1003.8" width="27.17" height="38" fill="#f8fcbc"/>
<rect x="1582.74" y="1003.8" width="27.17" height="38" fill="#9fd58e"/>
<rect x="1609.71" y="1003.8" width="27.17" height="38" fill="#addb95"/>
<rect x="1636.68" y="1003.8" width="27.17" height="38" fill="#addb95"/>
<rect x="1663.65" y="1003.8" width="27.17" height="38" fill="#addb95"/>
<rect x="1690.62" y="1003.8" width="27.17" height="38" fill="#addb95"/>
<rect x="1717.59" y="1003.8" width="27.17" height="38" fill="#addb95"/>
<rect x="1259.1" y="1041.6" width="27.17" height="38" fill="#fbf2b6"/>
<rect x="1286.07" y="1041.6" width="27.17" height="38" fill="#fbf2b6"/>
<rect x="1313.04" y="1041.6" width="27.17" height="38" fill="#fbf2b6"/>
<rect x="1340.01" y="1041.6" width="27.17" height="38" fill="#fbf2b6"/>
<rect x="1366.98" y="1041.6" width="27.17" height="38" fill="#f8e5ac"/>
<rect x="1393.95" y="1041.6" width="27.17" height="38" fill="#f8e5ac"/>
<rect x="1420.92" y="1041.6" width="27.17" height="38" fill="#f0cc99"/>
<rect x="1447.89" y="1041.6" width="27.17" height="38" fill="#f0cc99"/>
<rect x="1474.86" y="1041.6" width="27.17" height="38" fill="#f4d8a3"/>
<rect x="1501.83" y="1041.6" width="27.17" height="38" fill="#f4d8a3"/>
<rect x="1528.8" y="1041.6" width="27.17" height="38" fill="#f4d8a3"/>
<rect x="1555.77" y="1041.6" width="27.17" height="38" fill="#f4d8a3"/>
<rect x="1582.74" y="1041.6" width="27.17" height="38" fill="#fbf2b6"/>
<rect x="1609.71" y="1041.6" width="27.17" height="38" fill="#f0cc99"/>
<rect x="1636.68" y="1041.6" width="27.17" height="38" fill="#f4d8a3"/>
<rect x="1663.65" y="1041.6" width="27.17" height="38" fill="#f8e5ac"/>
<rect x="1690.62" y="1041.6" width="27.17" height="38" fill="#f4d8a3"/>
<rect x="1717.59" y="1041.6" width="27.17" height="38" fill="#f8e5ac"/>
<rect x="1259.1" y="1079.4" width="27.17" height="38" fill="#92ce87"/>
<rect x="1286.07" y="1079.4" width="27.17" height="38" fill="#92ce87"/>
<rect x="1313.04" y="1079.4" width="27.17" height="38" fill="#84c880"/>
<rect x="1340.01" y="1079.4" width="27.17" height="38" fill="#92ce87"/>
<rect x="1366.98" y="1079.4" width="27.17" height="38" fill="#92ce87"/>
<rect x="1393.95" y="1079.4" width="27.17" height="38" fill="#84c880"/>
<rect x="1420.92" y="1079.4" width="27.17" height="38" fill="#d6edaa"/>
<rect x="1447.89" y="1079.4" width="27.17" height="38" fill="#e4f3b1"/>
<rect x="1474.86" y="1079.4" width="27.17" height="38" fill="#d6edaa"/>
<rect x="1501.83" y="1079.4" width="27.17" height="38" fill="#c8e7a3"/>
<rect x="1528.8" y="1079.4" width="27.17" height="38" fill="#d6edaa"/>
<rect x="1555.77" y="1079.4" width="27.17" height="38" fill="#d6edaa"/>
<rect x="1582.74" y="1079.4" width="27.17" height="38" fill="#92ce87"/>
<rect x="1609.71" y="1079.4" width="27.17" height="38" fill="#9fd58e"/>
<rect x="1636.68" y="1079.4" width="27.17" height="38" fill="#9fd58e"/>
<rect x="1663.65" y="1079.4" width="27.17" height="38" fill="#9fd58e"/>
<rect x="1690.62" y="1079.4" width="27.17" height="38" fill="#addb95"/>
<rect x="1717.59" y="1079.4" width="27.17" height="38" fill="#9fd58e"/>
<rect x="1259.1" y="1117.2" width="27.17" height="38" fill="#e4f3b1"/>
<rect x="1286.07" y="1117.2" width="27.17" height="38" fill="#f8fcbc"/>
<rect x="1313.04" y="1117.2" width="27.17" height="38" fill="#f1f9b8"/>
<rect x="1340.01" y="1117.2" width="27.17" height="38" fill="#f1f9b8"/>
<rect x="1366.98" y="1117.2" width="27.17" height="38" fill="#f8fcbc"/>
<rect x="1393.95" y="1117.2" width="27.17" height="38" fill="#f1f9b8"/>
<rect x="1420.92" y="1117.2" width="27.17" height="38" fill="#f0cc99"/>
<rect x="1447.89" y="1117.2" width="27.17" height="38" fill="#f8e5ac"/>
<rect x="1474.86" y="1117.2" width="27.17" height="38" fill="#f8e5ac"/>
<rect x="1501.83" y="1117.2" width="27.17" height="38" fill="#f8e5ac"/>
<rect x="1528.8" y="1117.2" width="27.17" height="38" fill="#f4d8a3"/>
<rect x="1555.77" y="1117.2" width="27.17" height="38" fill="#f8e5ac"/>
<rect x="1582.74" y="1117.2" width="27.17" height="38" fill="#f8fcbc"/>
<rect x="1609.71" y="1117.2" width="27.17" height="38" fill="#fbf2b6"/>
<rect x="1636.68" y="1117.2" width="27.17" height="38" fill="#f8e5ac"/>
<rect x="1663.65" y="1117.2" width="27.17" height="38" fill="#fbf2b6"/>
<rect x="1690.62" y="1117.2" width="27.17" height="38" fill="#fbf2b6"/>
<rect x="1717.59" y="1117.2" width="27.17" height="38" fill="#fbf2b6"/>
</g>
<path class="grid" d="M1259.1 21V1155M1286.07 21V1155M1313.04 21V1155M1340.01 21V1155M1366.98 21V1155M1393.95 21V1155M1420.92 21V1155M1447.89 21V1155M1474.86 21V1155M1501.83 21V1155M1528.8 21V1155M1555.77 21V1155M1582.74 21V1155M1609.71 21V1155M1636.68 21V1155M1663.65 21V1155M1690.62 21V1155M1717.59 21V1155M1744.56 21V1155M1259.1 21H1744.56M1259.1 58.8H1744.56M1259.1 96.6H1744.56M1259.1 134.4H1744.56M1259.1 172.2H1744.56M1259.1 210H1744.56M1259.1 247.8H1744.56M1259.1 285.6H1744.56M1259.1 323.4H1744.56M1259.1 361.2H1744.56M1259.1 399H1744.56M1259.1 436.8H1744.56M1259.1 474.6H1744.56M1259.1 512.4H1744.56M1259.1 550.2H1744.56M1259.1 588H1744.56M1259.1 625.8H1744.56M1259.1 663.6H1744.56M1259.1 701.4H1744.56M1259.1 739.2H1744.56M1259.1 777H1744.56M1259.1 814.8H1744.56M1259.1 852.6H1744.56M1259.1 890.4H1744.56M1259.1 928.2H1744.56M1259.1 966H1744.56M1259.1 1003.8H1744.56M1259.1 1041.6H1744.56M1259.1 1079.4H1744.56M1259.1 1117.2H1744.56M1259.1 1155H1744.56" fill="none" stroke="#959595" stroke-width="3.3" stroke-linecap="square"/>
<g class="rl" font-size="21.25">
<text x="1760.5" y="48.1">microtubule-based process(50)</text>
<text x="1760.5" y="85.9">apoplast(74)</text>
<text x="1760.5" y="123.7">heterocyclic compound binding(4889)</text>
<text x="1760.5" y="161.5">respiratory chain(8)</text>
<text x="1760.5" y="199.3">single-organism metabolic process(1329)</text>
<text x="1760.5" y="237.1">protein folding(201)</text>
<text x="1760.5" y="274.9">organelle membrane(2)</text>
<text x="1760.5" y="312.7">cell adhesion(6)</text>
<text x="1760.5" y="350.5">molybdopterin synthase complex(5)</text>
<text x="1760.5" y="388.3">multicellular organism reproduction(2)</text>
<text x="1760.5" y="426.1">regulation of biological quality(305)</text>
<text x="1760.5" y="463.9">chromatin binding(46)</text>
<text x="1760.5" y="501.7">lipid binding(46)</text>
<text x="1760.5" y="539.5">cell periphery(855)</text>
<text x="1760.5" y="577.3">supramolecular polymer(105)</text>
<text x="1760.5" y="615.1">hormone binding(3)</text>
<text x="1760.5" y="652.9">multi-multicellular organism process(60)</text>
<text x="1760.5" y="690.7">cell part(3)</text>
<text x="1760.5" y="728.5">modified amino acid binding(2)</text>
<text x="1760.5" y="766.3">nitrogen utilization(2)</text>
<text x="1760.5" y="804.1">extrinsic component of membrane(12)</text>
<text x="1760.5" y="841.9">sulfur compound binding(17)</text>
<text x="1760.5" y="879.7">carbohydrate derivative binding(14)</text>
<text x="1760.5" y="917.5">regulation of molecular function(270)</text>
<text x="1760.5" y="955.3">extracellular space(7)</text>
<text x="1760.5" y="993.1">primary metabolic process(7)</text>
<text x="1760.5" y="1030.9">cellular component organization(786)</text>
<text x="1760.5" y="1068.7">cellular detoxification(68)</text>
<text x="1760.5" y="1106.5">response to stress(303)</text>
<text x="1760.5" y="1144.3">multi-organism localization(2)</text>
</g>
<g class="cl" font-size="21.4">
<text transform="translate(1264.98 1171.7) rotate(90)">XJ0hR1</text>
<text transform="translate(1291.95 1171.7) rotate(90)">XJ0hR2</text>
<text transform="translate(1318.92 1171.7) rotate(90)">XJ0hR3</text>
<text transform="translate(1345.89 1171.7) rotate(90)">XJ0hS1</text>
<text transform="translate(1372.87 1171.7) rotate(90)">XJ0hS2</text>
<text transform="translate(1399.84 1171.7) rotate(90)">XJ0hS3</text>
<text transform="translate(1426.81 1171.7) rotate(90)">XJ12hR1</text>
<text transform="translate(1453.78 1171.7) rotate(90)">XJ12hR2</text>
<text transform="translate(1480.74 1171.7) rotate(90)">XJ12hR3</text>
<text transform="translate(1507.71 1171.7) rotate(90)">XJ12hS1</text>
<text transform="translate(1534.68 1171.7) rotate(90)">XJ12hS2</text>
<text transform="translate(1561.65 1171.7) rotate(90)">XJ12hS3</text>
<text transform="translate(1588.62 1171.7) rotate(90)">XJ24hR1</text>
<text transform="translate(1615.6 1171.7) rotate(90)">XJ24hR2</text>
<text transform="translate(1642.57 1171.7) rotate(90)">XJ24hR3</text>
<text transform="translate(1669.53 1171.7) rotate(90)">XJ24hS1</text>
<text transform="translate(1696.51 1171.7) rotate(90)">XJ24hS2</text>
<text transform="translate(1723.47 1171.7) rotate(90)">XJ24hS3</text>
</g>
<rect x="2187.1" y="21.5" width="53.7" height="324" fill="url(#lg)"/>
<g class="ll" font-size="20.6">
<text x="2262.3" y="88.4">4</text>
<text x="2262.3" y="157.7">3</text>
<text x="2262.3" y="227.1">2</text>
<text x="2262.3" y="296.5">1</text>
</g>
<text class="pl" x="1173.5" y="65.2" font-size="70">B</text>
<g class="hm">
<rect x="93.3" y="1346.8" width="23.7" height="33.08" fill="#d77158"/>
<rect x="116.8" y="1346.8" width="23.7" height="33.08" fill="#cf5845"/>
<rect x="140.3" y="1346.8" width="23.7" height="33.08" fill="#cc4b3b"/>
<rect x="163.8" y="1346.8" width="23.7" height="33.08" fill="#cf5845"/>
<rect x="187.3" y="1346.8" width="23.7" height="33.08" fill="#cf5845"/>
<rect x="210.8" y="1346.8" width="23.7" height="33.08" fill="#d77158"/>
<rect x="234.3" y="1346.8" width="23.7" height="33.08" fill="#edbf90"/>
<rect x="257.8" y="1346.8" width="23.7" height="33.08" fill="#e9b287"/>
<rect x="281.3" y="1346.8" width="23.7" height="33.08" fill="#e5a57d"/>
<rect x="304.8" y="1346.8" width="23.7" height="33.08" fill="#e5a57d"/>
<rect x="328.3" y="1346.8" width="23.7" height="33.08" fill="#e9b287"/>
<rect x="351.8" y="1346.8" width="23.7" height="33.08" fill="#e9b287"/>
<rect x="375.3" y="1346.8" width="23.7" height="33.08" fill="#da7e61"/>
<rect x="398.8" y="1346.8" width="23.7" height="33.08" fill="#de8b6a"/>
<rect x="422.3" y="1346.8" width="23.7" height="33.08" fill="#de8b6a"/>
<rect x="445.8" y="1346.8" width="23.7" height="33.08" fill="#de8b6a"/>
<rect x="469.3" y="1346.8" width="23.7" height="33.08" fill="#e29874"/>
<rect x="492.8" y="1346.8" width="23.7" height="33.08" fill="#d77158"/>
<rect x="93.3" y="1379.67" width="23.7" height="33.08" fill="#5bb66b"/>
<rect x="116.8" y="1379.67" width="23.7" height="33.08" fill="#69bc72"/>
<rect x="140.3" y="1379.67" width="23.7" height="33.08" fill="#5bb66b"/>
<rect x="163.8" y="1379.67" width="23.7" height="33.08" fill="#5bb66b"/>
<rect x="187.3" y="1379.67" width="23.7" height="33.08" fill="#5bb66b"/>
<rect x="210.8" y="1379.67" width="23.7" height="33.08" fill="#4db064"/>
<rect x="234.3" y="1379.67" width="23.7" height="33.08" fill="#76c279"/>
<rect x="257.8" y="1379.67" width="23.7" height="33.08" fill="#69bc72"/>
<rect x="281.3" y="1379.67" width="23.7" height="33.08" fill="#69bc72"/>
<rect x="304.8" y="1379.67" width="23.7" height="33.08" fill="#76c279"/>
<rect x="328.3" y="1379.67" width="23.7" height="33.08" fill="#69bc72"/>
<rect x="351.8" y="1379.67" width="23.7" height="33.08" fill="#69bc72"/>
<rect x="375.3" y="1379.67" width="23.7" height="33.08" fill="#5bb66b"/>
<rect x="398.8" y="1379.67" width="23.7" height="33.08" fill="#69bc72"/>
<rect x="422.3" y="1379.67" width="23.7" height="33.08" fill="#69bc72"/>
<rect x="445.8" y="1379.67" width="23.7" height="33.08" fill="#5bb66b"/>
<rect x="469.3" y="1379.67" width="23.7" height="33.08" fill="#5bb66b"/>
<rect x="492.8" y="1379.67" width="23.7" height="33.08" fill="#69bc72"/>
<rect x="93.3" y="1412.55" width="23.7" height="33.08" fill="#9fd58e"/>
<rect x="116.8" y="1412.55" width="23.7" height="33.08" fill="#9fd58e"/>
<rect x="140.3" y="1412.55" width="23.7" height="33.08" fill="#92ce87"/>
<rect x="163.8" y="1412.55" width="23.7" height="33.08" fill="#9fd58e"/>
<rect x="187.3" y="1412.55" width="23.7" height="33.08" fill="#92ce87"/>
<rect x="210.8" y="1412.55" width="23.7" height="33.08" fill="#92ce87"/>
<rect x="234.3" y="1412.55" width="23.7" height="33.08" fill="#bbe19c"/>
<rect x="257.8" y="1412.55" width="23.7" height="33.08" fill="#addb95"/>
<rect x="281.3" y="1412.55" width="23.7" height="33.08" fill="#addb95"/>
<rect x="304.8" y="1412.55" width="23.7" height="33.08" fill="#bbe19c"/>
<rect x="328.3" y="1412.55" width="23.7" height="33.08" fill="#addb95"/>
<rect x="351.8" y="1412.55" width="23.7" height="33.08" fill="#addb95"/>
<rect x="375.3" y="1412.55" width="23.7" height="33.08" fill="#92ce87"/>
<rect x="398.8" y="1412.55" width="23.7" height="33.08" fill="#9fd58e"/>
<rect x="422.3" y="1412.55" width="23.7" height="33.08" fill="#9fd58e"/>
<rect x="445.8" y="1412.55" width="23.7" height="33.08" fill="#92ce87"/>
<rect x="469.3" y="1412.55" width="23.7" height="33.08" fill="#9fd58e"/>
<rect x="492.8" y="1412.55" width="23.7" height="33.08" fill="#92ce87"/>
<rect x="93.3" y="1445.42" width="23.7" height="33.08" fill="#5bb66b"/>
<rect x="116.8" y="1445.42" width="23.7" height="33.08" fill="#69bc72"/>
<rect x="140.3" y="1445.42" width="23.7" height="33.08" fill="#5bb66b"/>
<rect x="163.8" y="1445.42" width="23.7" height="33.08" fill="#5bb66b"/>
<rect x="187.3" y="1445.42" width="23.7" height="33.08" fill="#5bb66b"/>
<rect x="210.8" y="1445.42" width="23.7" height="33.08" fill="#5bb66b"/>
<rect x="234.3" y="1445.42" width="23.7" height="33.08" fill="#76c279"/>
<rect x="257.8" y="1445.42" width="23.7" height="33.08" fill="#76c279"/>
<rect x="281.3" y="1445.42" width="23.7" height="33.08" fill="#76c279"/>
<rect x="304.8" y="1445.42" width="23.7" height="33.08" fill="#76c279"/>
<rect x="328.3" y="1445.42" width="23.7" height="33.08" fill="#76c279"/>
<rect x="351.8" y="1445.42" width="23.7" height="33.08" fill="#76c279"/>
<rect x="375.3" y="1445.42" width="23.7" height="33.08" fill="#5bb66b"/>
<rect x="398.8" y="1445.42" width="23.7" height="33.08" fill="#69bc72"/>
<rect x="422.3" y="1445.42" width="23.7" height="33.08" fill="#69bc72"/>
<rect x="445.8" y="1445.42" width="23.7" height="33.08" fill="#69bc72"/>
<rect x="469.3" y="1445.42" width="23.7" height="33.08" fill="#69bc72"/>
<rect x="492.8" y="1445.42" width="23.7" height="33.08" fill="#69bc72"/>
<rect x="93.3" y="1478.3" width="23.7" height="33.08" fill="#e9b287"/>
<rect x="116.8" y="1478.3" width="23.7" height="33.08" fill="#e9b287"/>
<rect x="140.3" y="1478.3" width="23.7" height="33.08" fill="#e5a57d"/>
<rect x="163.8" y="1478.3" width="23.7" height="33.08" fill="#e9b287"/>
<rect x="187.3" y="1478.3" width="23.7" height="33.08" fill="#e5a57d"/>
<rect x="210.8" y="1478.3" width="23.7" height="33.08" fill="#e29874"/>
<rect x="234.3" y="1478.3" width="23.7" height="33.08" fill="#f0cc99"/>
<rect x="257.8" y="1478.3" width="23.7" height="33.08" fill="#f4d8a3"/>
<rect x="281.3" y="1478.3" width="23.7" height="33.08" fill="#f4d8a3"/>
<rect x="304.8" y="1478.3" width="23.7" height="33.08" fill="#f4d8a3"/>
<rect x="328.3" y="1478.3" width="23.7" height="33.08" fill="#f8e5ac"/>
<rect x="351.8" y="1478.3" width="23.7" height="33.08" fill="#fbf2b6"/>
<rect x="375.3" y="1478.3" width="23.7" height="33.08" fill="#e29874"/>
<rect x="398.8" y="1478.3" width="23.7" height="33.08" fill="#e29874"/>
<rect x="422.3" y="1478.3" width="23.7" height="33.08" fill="#da7e61"/>
<rect x="445.8" y="1478.3" width="23.7" height="33.08" fill="#e29874"/>
<rect x="469.3" y="1478.3" width="23.7" height="33.08" fill="#de8b6a"/>
<rect x="492.8" y="1478.3" width="23.7" height="33.08" fill="#e29874"/>
<rect x="93.3" y="1511.17" width="23.7" height="33.08" fill="#92ce87"/>
<rect x="116.8" y="1511.17" width="23.7" height="33.08" fill="#9fd58e"/>
<rect x="140.3" y="1511.17" width="23.7" height="33.08" fill="#92ce87"/>
<rect x="163.8" y="1511.17" width="23.7" height="33.08" fill="#92ce87"/>
<rect x="187.3" y="1511.17" width="23.7" height="33.08" fill="#92ce87"/>
<rect x="210.8" y="1511.17" width="23.7" height="33.08" fill="#92ce87"/>
<rect x="234.3" y="1511.17" width="23.7" height="33.08" fill="#c8e7a3"/>
<rect x="257.8" y="1511.17" width="23.7" height="33.08" fill="#bbe19c"/>
<rect x="281.3" y="1511.17" width="23.7" height="33.08" fill="#addb95"/>
<rect x="304.8" y="1511.17" width="23.7" height="33.08" fill="#addb95"/>
<rect x="328.3" y="1511.17" width="23.7" height="33.08" fill="#addb95"/>
<rect x="351.8" y="1511.17" width="23.7" height="33.08" fill="#addb95"/>
<rect x="375.3" y="1511.17" width="23.7" height="33.08" fill="#92ce87"/>
<rect x="398.8" y="1511.17" width="23.7" height="33.08" fill="#9fd58e"/>
<rect x="422.3" y="1511.17" width="23.7" height="33.08" fill="#9fd58e"/>
<rect x="445.8" y="1511.17" width="23.7" height="33.08" fill="#92ce87"/>
<rect x="469.3" y="1511.17" width="23.7" height="33.08" fill="#92ce87"/>
<rect x="492.8" y="1511.17" width="23.7" height="33.08" fill="#92ce87"/>
<rect x="93.3" y="1544.05" width="23.7" height="33.08" fill="#40aa5d"/>
<rect x="116.8" y="1544.05" width="23.7" height="33.08" fill="#4db064"/>
<rect x="140.3" y="1544.05" width="23.7" height="33.08" fill="#40aa5d"/>
<rect x="163.8" y="1544.05" width="23.7" height="33.08" fill="#40aa5d"/>
<rect x="187.3" y="1544.05" width="23.7" height="33.08" fill="#40aa5d"/>
<rect x="210.8" y="1544.05" width="23.7" height="33.08" fill="#40aa5d"/>
<rect x="234.3" y="1544.05" width="23.7" height="33.08" fill="#4db064"/>
<rect x="257.8" y="1544.05" width="23.7" height="33.08" fill="#76c279"/>
<rect x="281.3" y="1544.05" width="23.7" height="33.08" fill="#69bc72"/>
<rect x="304.8" y="1544.05" width="23.7" height="33.08" fill="#69bc72"/>
<rect x="328.3" y="1544.05" width="23.7" height="33.08" fill="#5bb66b"/>
<rect x="351.8" y="1544.05" width="23.7" height="33.08" fill="#69bc72"/>
<rect x="375.3" y="1544.05" width="23.7" height="33.08" fill="#32a456"/>
<rect x="398.8" y="1544.05" width="23.7" height="33.08" fill="#40aa5d"/>
<rect x="422.3" y="1544.05" width="23.7" height="33.08" fill="#40aa5d"/>
<rect x="445.8" y="1544.05" width="23.7" height="33.08" fill="#40aa5d"/>
<rect x="469.3" y="1544.05" width="23.7" height="33.08" fill="#4db064"/>
<rect x="492.8" y="1544.05" width="23.7" height="33.08" fill="#40aa5d"/>
<rect x="93.3" y="1576.92" width="23.7" height="33.08" fill="#76c279"/>
<rect x="116.8" y="1576.92" width="23.7" height="33.08" fill="#76c279"/>
<rect x="140.3" y="1576.92" width="23.7" height="33.08" fill="#76c279"/>
<rect x="163.8" y="1576.92" width="23.7" height="33.08" fill="#76c279"/>
<rect x="187.3" y="1576.92" width="23.7" height="33.08" fill="#76c279"/>
<rect x="210.8" y="1576.92" width="23.7" height="33.08" fill="#76c279"/>
<rect x="234.3" y="1576.92" width="23.7" height="33.08" fill="#9fd58e"/>
<rect x="257.8" y="1576.92" width="23.7" height="33.08" fill="#92ce87"/>
<rect x="281.3" y="1576.92" width="23.7" height="33.08" fill="#92ce87"/>
<rect x="304.8" y="1576.92" width="23.7" height="33.08" fill="#92ce87"/>
<rect x="328.3" y="1576.92" width="23.7" height="33.08" fill="#92ce87"/>
<rect x="351.8" y="1576.92" width="23.7" height="33.08" fill="#92ce87"/>
<rect x="375.3" y="1576.92" width="23.7" height="33.08" fill="#76c279"/>
<rect x="398.8" y="1576.92" width="23.7" height="33.08" fill="#84c880"/>
<rect x="422.3" y="1576.92" width="23.7" height="33.08" fill="#84c880"/>
<rect x="445.8" y="1576.92" width="23.7" height="33.08" fill="#84c880"/>
<rect x="469.3" y="1576.92" width="23.7" height="33.08" fill="#84c880"/>
<rect x="492.8" y="1576.92" width="23.7" height="33.08" fill="#76c279"/>
<rect x="93.3" y="1609.8" width="23.7" height="33.08" fill="#84c880"/>
<rect x="116.8" y="1609.8" width="23.7" height="33.08" fill="#84c880"/>
<rect x="140.3" y="1609.8" width="23.7" height="33.08" fill="#84c880"/>
<rect x="163.8" y="1609.8" width="23.7" height="33.08" fill="#84c880"/>
<rect x="187.3" y="1609.8" width="23.7" height="33.08" fill="#84c880"/>
<rect x="210.8" y="1609.8" width="23.7" height="33.08" fill="#76c279"/>
<rect x="234.3" y="1609.8" width="23.7" height="33.08" fill="#addb95"/>
<rect x="257.8" y="1609.8" width="23.7" height="33.08" fill="#addb95"/>
<rect x="281.3" y="1609.8" width="23.7" height="33.08" fill="#9fd58e"/>
<rect x="304.8" y="1609.8" width="23.7" height="33.08" fill="#addb95"/>
<rect x="328.3" y="1609.8" width="23.7" height="33.08" fill="#9fd58e"/>
<rect x="351.8" y="1609.8" width="23.7" height="33.08" fill="#addb95"/>
<rect x="375.3" y="1609.8" width="23.7" height="33.08" fill="#84c880"/>
<rect x="398.8" y="1609.8" width="23.7" height="33.08" fill="#84c880"/>
<rect x="422.3" y="1609.8" width="23.7" height="33.08" fill="#84c880"/>
<rect x="445.8" y="1609.8" width="23.7" height="33.08" fill="#84c880"/>
<rect x="469.3" y="1609.8" width="23.7" height="33.08" fill="#84c880"/>
<rect x="492.8" y="1609.8" width="23.7" height="33.08" fill="#84c880"/>
<rect x="93.3" y="1642.67" width="23.7" height="33.08" fill="#76c279"/>
<rect x="116.8" y="1642.67" width="23.7" height="33.08" fill="#76c279"/>
<rect x="140.3" y="1642.67" width="23.7" height="33.08" fill="#76c279"/>
<rect x="163.8" y="1642.67" width="23.7" height="33.08" fill="#76c279"/>
<rect x="187.3" y="1642.67" width="23.7" height="33.08" fill="#69bc72"/>
<rect x="210.8" y="1642.67" width="23.7" height="33.08" fill="#69bc72"/>
<rect x="234.3" y="1642.67" width="23.7" height="33.08" fill="#9fd58e"/>
<rect x="257.8" y="1642.67" width="23.7" height="33.08" fill="#9fd58e"/>
<rect x="281.3" y="1642.67" width="23.7" height="33.08" fill="#92ce87"/>
<rect x="304.8" y="1642.67" width="23.7" height="33.08" fill="#9fd58e"/>
<rect x="328.3" y="1642.67" width="23.7" height="33.08" fill="#92ce87"/>
<rect x="351.8" y="1642.67" width="23.7" height="33.08" fill="#9fd58e"/>
<rect x="375.3" y="1642.67" width="23.7" height="33.08" fill="#69bc72"/>
<rect x="398.8" y="1642.67" width="23.7" height="33.08" fill="#76c279"/>
<rect x="422.3" y="1642.67" width="23.7" height="33.08" fill="#76c279"/>
<rect x="445.8" y="1642.67" width="23.7" height="33.08" fill="#69bc72"/>
<rect x="469.3" y="1642.67" width="23.7" height="33.08" fill="#76c279"/>
<rect x="492.8" y="1642.67" width="23.7" height="33.08" fill="#76c279"/>
<rect x="93.3" y="1675.55" width="23.7" height="33.08" fill="#76c279"/>
<rect x="116.8" y="1675.55" width="23.7" height="33.08" fill="#84c880"/>
<rect x="140.3" y="1675.55" width="23.7" height="33.08" fill="#76c279"/>
<rect x="163.8" y="1675.55" width="23.7" height="33.08" fill="#76c279"/>
<rect x="187.3" y="1675.55" width="23.7" height="33.08" fill="#76c279"/>
<rect x="210.8" y="1675.55" width="23.7" height="33.08" fill="#76c279"/>
<rect x="234.3" y="1675.55" width="23.7" height="33.08" fill="#c8e7a3"/>
<rect x="257.8" y="1675.55" width="23.7" height="33.08" fill="#bbe19c"/>
<rect x="281.3" y="1675.55" width="23.7" height="33.08" fill="#addb95"/>
<rect x="304.8" y="1675.55" width="23.7" height="33.08" fill="#bbe19c"/>
<rect x="328.3" y="1675.55" width="23.7" height="33.08" fill="#bbe19c"/>
<rect x="351.8" y="1675.55" width="23.7" height="33.08" fill="#bbe19c"/>
<rect x="375.3" y="1675.55" width="23.7" height="33.08" fill="#76c279"/>
<rect x="398.8" y="1675.55" width="23.7" height="33.08" fill="#84c880"/>
<rect x="422.3" y="1675.55" width="23.7" height="33.08" fill="#84c880"/>
<rect x="445.8" y="1675.55" width="23.7" height="33.08" fill="#76c279"/>
<rect x="469.3" y="1675.55" width="23.7" height="33.08" fill="#84c880"/>
<rect x="492.8" y="1675.55" width="23.7" height="33.08" fill="#76c279"/>
<rect x="93.3" y="1708.42" width="23.7" height="33.08" fill="#f8e5ac"/>
<rect x="116.8" y="1708.42" width="23.7" height="33.08" fill="#f4d8a3"/>
<rect x="140.3" y="1708.42" width="23.7" height="33.08" fill="#f4d8a3"/>
<rect x="163.8" y="1708.42" width="23.7" height="33.08" fill="#f0cc99"/>
<rect x="187.3" y="1708.42" width="23.7" height="33.08" fill="#f0cc99"/>
<rect x="210.8" y="1708.42" width="23.7" height="33.08" fill="#f0cc99"/>
<rect x="234.3" y="1708.42" width="23.7" height="33.08" fill="#84c880"/>
<rect x="257.8" y="1708.42" width="23.7" height="33.08" fill="#84c880"/>
<rect x="281.3" y="1708.42" width="23.7" height="33.08" fill="#84c880"/>
<rect x="304.8" y="1708.42" width="23.7" height="33.08" fill="#84c880"/>
<rect x="328.3" y="1708.42" width="23.7" height="33.08" fill="#92ce87"/>
<rect x="351.8" y="1708.42" width="23.7" height="33.08" fill="#84c880"/>
<rect x="375.3" y="1708.42" width="23.7" height="33.08" fill="#f8e5ac"/>
<rect x="398.8" y="1708.42" width="23.7" height="33.08" fill="#f6dfa8"/>
<rect x="422.3" y="1708.42" width="23.7" height="33.08" fill="#f4d8a3"/>
<rect x="445.8" y="1708.42" width="23.7" height="33.08" fill="#f0cc99"/>
<rect x="469.3" y="1708.42" width="23.7" height="33.08" fill="#f0cc99"/>
<rect x="492.8" y="1708.42" width="23.7" height="33.08" fill="#f8e5ac"/>
<rect x="93.3" y="1741.3" width="23.7" height="33.08" fill="#bbe19c"/>
<rect x="116.8" y="1741.3" width="23.7" height="33.08" fill="#bbe19c"/>
<rect x="140.3" y="1741.3" width="23.7" height="33.08" fill="#bbe19c"/>
<rect x="163.8" y="1741.3" width="23.7" height="33.08" fill="#bbe19c"/>
<rect x="187.3" y="1741.3" width="23.7" height="33.08" fill="#addb95"/>
<rect x="210.8" y="1741.3" width="23.7" height="33.08" fill="#addb95"/>
<rect x="234.3" y="1741.3" width="23.7" height="33.08" fill="#f8fcbc"/>
<rect x="257.8" y="1741.3" width="23.7" height="33.08" fill="#e4f3b1"/>
<rect x="281.3" y="1741.3" width="23.7" height="33.08" fill="#c8e7a3"/>
<rect x="304.8" y="1741.3" width="23.7" height="33.08" fill="#d6edaa"/>
<rect x="328.3" y="1741.3" width="23.7" height="33.08" fill="#d6edaa"/>
<rect x="351.8" y="1741.3" width="23.7" height="33.08" fill="#d6edaa"/>
<rect x="375.3" y="1741.3" width="23.7" height="33.08" fill="#bbe19c"/>
<rect x="398.8" y="1741.3" width="23.7" height="33.08" fill="#d6edaa"/>
<rect x="422.3" y="1741.3" width="23.7" height="33.08" fill="#d6edaa"/>
<rect x="445.8" y="1741.3" width="23.7" height="33.08" fill="#bbe19c"/>
<rect x="469.3" y="1741.3" width="23.7" height="33.08" fill="#c8e7a3"/>
<rect x="492.8" y="1741.3" width="23.7" height="33.08" fill="#bbe19c"/>
<rect x="93.3" y="1774.17" width="23.7" height="33.08" fill="#edbf90"/>
<rect x="116.8" y="1774.17" width="23.7" height="33.08" fill="#f0cc99"/>
<rect x="140.3" y="1774.17" width="23.7" height="33.08" fill="#e9b287"/>
<rect x="163.8" y="1774.17" width="23.7" height="33.08" fill="#f0cc99"/>
<rect x="187.3" y="1774.17" width="23.7" height="33.08" fill="#edbf90"/>
<rect x="210.8" y="1774.17" width="23.7" height="33.08" fill="#f0cc99"/>
<rect x="234.3" y="1774.17" width="23.7" height="33.08" fill="#c8e7a3"/>
<rect x="257.8" y="1774.17" width="23.7" height="33.08" fill="#f1f9b8"/>
<rect x="281.3" y="1774.17" width="23.7" height="33.08" fill="#d6edaa"/>
<rect x="304.8" y="1774.17" width="23.7" height="33.08" fill="#f8fcbc"/>
<rect x="328.3" y="1774.17" width="23.7" height="33.08" fill="#d6edaa"/>
<rect x="351.8" y="1774.17" width="23.7" height="33.08" fill="#e4f3b1"/>
<rect x="375.3" y="1774.17" width="23.7" height="33.08" fill="#edbf90"/>
<rect x="398.8" y="1774.17" width="23.7" height="33.08" fill="#f0cc99"/>
<rect x="422.3" y="1774.17" width="23.7" height="33.08" fill="#f0cc99"/>
<rect x="445.8" y="1774.17" width="23.7" height="33.08" fill="#edbf90"/>
<rect x="469.3" y="1774.17" width="23.7" height="33.08" fill="#f4d8a3"/>
<rect x="492.8" y="1774.17" width="23.7" height="33.08" fill="#f0cc99"/>
<rect x="93.3" y="1807.05" width="23.7" height="33.08" fill="#69bc72"/>
<rect x="116.8" y="1807.05" width="23.7" height="33.08" fill="#76c279"/>
<rect x="140.3" y="1807.05" width="23.7" height="33.08" fill="#69bc72"/>
<rect x="163.8" y="1807.05" width="23.7" height="33.08" fill="#76c279"/>
<rect x="187.3" y="1807.05" width="23.7" height="33.08" fill="#76c279"/>
<rect x="210.8" y="1807.05" width="23.7" height="33.08" fill="#76c279"/>
<rect x="234.3" y="1807.05" width="23.7" height="33.08" fill="#92ce87"/>
<rect x="257.8" y="1807.05" width="23.7" height="33.08" fill="#92ce87"/>
<rect x="281.3" y="1807.05" width="23.7" height="33.08" fill="#84c880"/>
<rect x="304.8" y="1807.05" width="23.7" height="33.08" fill="#92ce87"/>
<rect x="328.3" y="1807.05" width="23.7" height="33.08" fill="#84c880"/>
<rect x="351.8" y="1807.05" width="23.7" height="33.08" fill="#92ce87"/>
<rect x="375.3" y="1807.05" width="23.7" height="33.08" fill="#76c279"/>
<rect x="398.8" y="1807.05" width="23.7" height="33.08" fill="#84c880"/>
<rect x="422.3" y="1807.05" width="23.7" height="33.08" fill="#84c880"/>
<rect x="445.8" y="1807.05" width="23.7" height="33.08" fill="#76c279"/>
<rect x="469.3" y="1807.05" width="23.7" height="33.08" fill="#76c279"/>
<rect x="492.8" y="1807.05" width="23.7" height="33.08" fill="#84c880"/>
<rect x="93.3" y="1839.92" width="23.7" height="33.08" fill="#5bb66b"/>
<rect x="116.8" y="1839.92" width="23.7" height="33.08" fill="#69bc72"/>
<rect x="140.3" y="1839.92" width="23.7" height="33.08" fill="#5bb66b"/>
<rect x="163.8" y="1839.92" width="23.7" height="33.08" fill="#5bb66b"/>
<rect x="187.3" y="1839.92" width="23.7" height="33.08" fill="#5bb66b"/>
<rect x="210.8" y="1839.92" width="23.7" height="33.08" fill="#5bb66b"/>
<rect x="234.3" y="1839.92" width="23.7" height="33.08" fill="#76c279"/>
<rect x="257.8" y="1839.92" width="23.7" height="33.08" fill="#76c279"/>
<rect x="281.3" y="1839.92" width="23.7" height="33.08" fill="#76c279"/>
<rect x="304.8" y="1839.92" width="23.7" height="33.08" fill="#76c279"/>
<rect x="328.3" y="1839.92" width="23.7" height="33.08" fill="#76c279"/>
<rect x="351.8" y="1839.92" width="23.7" height="33.08" fill="#76c279"/>
<rect x="375.3" y="1839.92" width="23.7" height="33.08" fill="#5bb66b"/>
<rect x="398.8" y="1839.92" width="23.7" height="33.08" fill="#69bc72"/>
<rect x="422.3" y="1839.92" width="23.7" height="33.08" fill="#69bc72"/>
<rect x="445.8" y="1839.92" width="23.7" height="33.08" fill="#69bc72"/>
<rect x="469.3" y="1839.92" width="23.7" height="33.08" fill="#69bc72"/>
<rect x="492.8" y="1839.92" width="23.7" height="33.08" fill="#69bc72"/>
<rect x="93.3" y="1872.8" width="23.7" height="33.08" fill="#9fd58e"/>
<rect x="116.8" y="1872.8" width="23.7" height="33.08" fill="#9fd58e"/>
<rect x="140.3" y="1872.8" width="23.7" height="33.08" fill="#addb95"/>
<rect x="163.8" y="1872.8" width="23.7" height="33.08" fill="#9fd58e"/>
<rect x="187.3" y="1872.8" width="23.7" height="33.08" fill="#9fd58e"/>
<rect x="210.8" y="1872.8" width="23.7" height="33.08" fill="#9fd58e"/>
<rect x="234.3" y="1872.8" width="23.7" height="33.08" fill="#c8e7a3"/>
<rect x="257.8" y="1872.8" width="23.7" height="33.08" fill="#bbe19c"/>
<rect x="281.3" y="1872.8" width="23.7" height="33.08" fill="#bbe19c"/>
<rect x="304.8" y="1872.8" width="23.7" height="33.08" fill="#bbe19c"/>
<rect x="328.3" y="1872.8" width="23.7" height="33.08" fill="#bbe19c"/>
<rect x="351.8" y="1872.8" width="23.7" height="33.08" fill="#bbe19c"/>
<rect x="375.3" y="1872.8" width="23.7" height="33.08" fill="#9fd58e"/>
<rect x="398.8" y="1872.8" width="23.7" height="33.08" fill="#addb95"/>
<rect x="422.3" y="1872.8" width="23.7" height="33.08" fill="#addb95"/>
<rect x="445.8" y="1872.8" width="23.7" height="33.08" fill="#addb95"/>
<rect x="469.3" y="1872.8" width="23.7" height="33.08" fill="#addb95"/>
<rect x="492.8" y="1872.8" width="23.7" height="33.08" fill="#9fd58e"/>
<rect x="93.3" y="1905.67" width="23.7" height="33.08" fill="#5bb66b"/>
<rect x="116.8" y="1905.67" width="23.7" height="33.08" fill="#76c279"/>
<rect x="140.3" y="1905.67" width="23.7" height="33.08" fill="#5bb66b"/>
<rect x="163.8" y="1905.67" width="23.7" height="33.08" fill="#76c279"/>
<rect x="187.3" y="1905.67" width="23.7" height="33.08" fill="#4db064"/>
<rect x="210.8" y="1905.67" width="23.7" height="33.08" fill="#4db064"/>
<rect x="234.3" y="1905.67" width="23.7" height="33.08" fill="#addb95"/>
<rect x="257.8" y="1905.67" width="23.7" height="33.08" fill="#9fd58e"/>
<rect x="281.3" y="1905.67" width="23.7" height="33.08" fill="#92ce87"/>
<rect x="304.8" y="1905.67" width="23.7" height="33.08" fill="#9fd58e"/>
<rect x="328.3" y="1905.67" width="23.7" height="33.08" fill="#9fd58e"/>
<rect x="351.8" y="1905.67" width="23.7" height="33.08" fill="#addb95"/>
<rect x="375.3" y="1905.67" width="23.7" height="33.08" fill="#69bc72"/>
<rect x="398.8" y="1905.67" width="23.7" height="33.08" fill="#76c279"/>
<rect x="422.3" y="1905.67" width="23.7" height="33.08" fill="#9fd58e"/>
<rect x="445.8" y="1905.67" width="23.7" height="33.08" fill="#69bc72"/>
<rect x="469.3" y="1905.67" width="23.7" height="33.08" fill="#5bb66b"/>
<rect x="492.8" y="1905.67" width="23.7" height="33.08" fill="#76c279"/>
<rect x="93.3" y="1938.55" width="23.7" height="33.08" fill="#addb95"/>
<rect x="116.8" y="1938.55" width="23.7" height="33.08" fill="#bbe19c"/>
<rect x="140.3" y="1938.55" width="23.7" height="33.08" fill="#addb95"/>
<rect x="163.8" y="1938.55" width="23.7" height="33.08" fill="#addb95"/>
<rect x="187.3" y="1938.55" width="23.7" height="33.08" fill="#addb95"/>
<rect x="210.8" y="1938.55" width="23.7" height="33.08" fill="#addb95"/>
<rect x="234.3" y="1938.55" width="23.7" height="33.08" fill="#f8e5ac"/>
<rect x="257.8" y="1938.55" width="23.7" height="33.08" fill="#f8fcbc"/>
<rect x="281.3" y="1938.55" width="23.7" height="33.08" fill="#e4f3b1"/>
<rect x="304.8" y="1938.55" width="23.7" height="33.08" fill="#f1f9b8"/>
<rect x="328.3" y="1938.55" width="23.7" height="33.08" fill="#f8fcbc"/>
<rect x="351.8" y="1938.55" width="23.7" height="33.08" fill="#f1f9b8"/>
<rect x="375.3" y="1938.55" width="23.7" height="33.08" fill="#92ce87"/>
<rect x="398.8" y="1938.55" width="23.7" height="33.08" fill="#bbe19c"/>
<rect x="422.3" y="1938.55" width="23.7" height="33.08" fill="#bbe19c"/>
<rect x="445.8" y="1938.55" width="23.7" height="33.08" fill="#addb95"/>
<rect x="469.3" y="1938.55" width="23.7" height="33.08" fill="#addb95"/>
<rect x="492.8" y="1938.55" width="23.7" height="33.08" fill="#9fd58e"/>
<rect x="93.3" y="1971.42" width="23.7" height="33.08" fill="#bbe19c"/>
<rect x="116.8" y="1971.42" width="23.7" height="33.08" fill="#bbe19c"/>
<rect x="140.3" y="1971.42" width="23.7" height="33.08" fill="#bbe19c"/>
<rect x="163.8" y="1971.42" width="23.7" height="33.08" fill="#bbe19c"/>
<rect x="187.3" y="1971.42" width="23.7" height="33.08" fill="#bbe19c"/>
<rect x="210.8" y="1971.42" width="23.7" height="33.08" fill="#bbe19c"/>
<rect x="234.3" y="1971.42" width="23.7" height="33.08" fill="#bbe19c"/>
<rect x="257.8" y="1971.42" width="23.7" height="33.08" fill="#c8e7a3"/>
<rect x="281.3" y="1971.42" width="23.7" height="33.08" fill="#bbe19c"/>
<rect x="304.8" y="1971.42" width="23.7" height="33.08" fill="#bbe19c"/>
<rect x="328.3" y="1971.42" width="23.7" height="33.08" fill="#bbe19c"/>
<rect x="351.8" y="1971.42" width="23.7" height="33.08" fill="#bbe19c"/>
<rect x="375.3" y="1971.42" width="23.7" height="33.08" fill="#addb95"/>
<rect x="398.8" y="1971.42" width="23.7" height="33.08" fill="#bbe19c"/>
<rect x="422.3" y="1971.42" width="23.7" height="33.08" fill="#bbe19c"/>
<rect x="445.8" y="1971.42" width="23.7" height="33.08" fill="#bbe19c"/>
<rect x="469.3" y="1971.42" width="23.7" height="33.08" fill="#bbe19c"/>
<rect x="492.8" y="1971.42" width="23.7" height="33.08" fill="#bbe19c"/>
<rect x="93.3" y="2004.3" width="23.7" height="33.08" fill="#d6edaa"/>
<rect x="116.8" y="2004.3" width="23.7" height="33.08" fill="#e4f3b1"/>
<rect x="140.3" y="2004.3" width="23.7" height="33.08" fill="#f1f9b8"/>
<rect x="163.8" y="2004.3" width="23.7" height="33.08" fill="#d6edaa"/>
<rect x="187.3" y="2004.3" width="23.7" height="33.08" fill="#c8e7a3"/>
<rect x="210.8" y="2004.3" width="23.7" height="33.08" fill="#c8e7a3"/>
<rect x="234.3" y="2004.3" width="23.7" height="33.08" fill="#d6edaa"/>
<rect x="257.8" y="2004.3" width="23.7" height="33.08" fill="#e4f3b1"/>
<rect x="281.3" y="2004.3" width="23.7" height="33.08" fill="#c8e7a3"/>
<rect x="304.8" y="2004.3" width="23.7" height="33.08" fill="#c8e7a3"/>
<rect x="328.3" y="2004.3" width="23.7" height="33.08" fill="#bbe19c"/>
<rect x="351.8" y="2004.3" width="23.7" height="33.08" fill="#c8e7a3"/>
<rect x="375.3" y="2004.3" width="23.7" height="33.08" fill="#f1f9b8"/>
<rect x="398.8" y="2004.3" width="23.7" height="33.08" fill="#e4f3b1"/>
<rect x="422.3" y="2004.3" width="23.7" height="33.08" fill="#f1f9b8"/>
<rect x="445.8" y="2004.3" width="23.7" height="33.08" fill="#c8e7a3"/>
<rect x="469.3" y="2004.3" width="23.7" height="33.08" fill="#d6edaa"/>
<rect x="492.8" y="2004.3" width="23.7" height="33.08" fill="#d6edaa"/>
<rect x="93.3" y="2037.17" width="23.7" height="33.08" fill="#69bc72"/>
<rect x="116.8" y="2037.17" width="23.7" height="33.08" fill="#69bc72"/>
<rect x="140.3" y="2037.17" width="23.7" height="33.08" fill="#5bb66b"/>
<rect x="163.8" y="2037.17" width="23.7" height="33.08" fill="#69bc72"/>
<rect x="187.3" y="2037.17" width="23.7" height="33.08" fill="#69bc72"/>
<rect x="210.8" y="2037.17" width="23.7" height="33.08" fill="#69bc72"/>
<rect x="234.3" y="2037.17" width="23.7" height="33.08" fill="#92ce87"/>
<rect x="257.8" y="2037.17" width="23.7" height="33.08" fill="#9fd58e"/>
<rect x="281.3" y="2037.17" width="23.7" height="33.08" fill="#9fd58e"/>
<rect x="304.8" y="2037.17" width="23.7" height="33.08" fill="#92ce87"/>
<rect x="328.3" y="2037.17" width="23.7" height="33.08" fill="#9fd58e"/>
<rect x="351.8" y="2037.17" width="23.7" height="33.08" fill="#9fd58e"/>
<rect x="375.3" y="2037.17" width="23.7" height="33.08" fill="#69bc72"/>
<rect x="398.8" y="2037.17" width="23.7" height="33.08" fill="#76c279"/>
<rect x="422.3" y="2037.17" width="23.7" height="33.08" fill="#76c279"/>
<rect x="445.8" y="2037.17" width="23.7" height="33.08" fill="#76c279"/>
<rect x="469.3" y="2037.17" width="23.7" height="33.08" fill="#69bc72"/>
<rect x="492.8" y="2037.17" width="23.7" height="33.08" fill="#76c279"/>
<rect x="93.3" y="2070.05" width="23.7" height="33.08" fill="#cf5845"/>
<rect x="116.8" y="2070.05" width="23.7" height="33.08" fill="#cf5845"/>
<rect x="140.3" y="2070.05" width="23.7" height="33.08" fill="#cc4b3b"/>
<rect x="163.8" y="2070.05" width="23.7" height="33.08" fill="#cf5845"/>
<rect x="187.3" y="2070.05" width="23.7" height="33.08" fill="#d3654e"/>
<rect x="210.8" y="2070.05" width="23.7" height="33.08" fill="#cf5845"/>
<rect x="234.3" y="2070.05" width="23.7" height="33.08" fill="#da7e61"/>
<rect x="257.8" y="2070.05" width="23.7" height="33.08" fill="#d77158"/>
<rect x="281.3" y="2070.05" width="23.7" height="33.08" fill="#da7e61"/>
<rect x="304.8" y="2070.05" width="23.7" height="33.08" fill="#d77158"/>
<rect x="328.3" y="2070.05" width="23.7" height="33.08" fill="#da7e61"/>
<rect x="351.8" y="2070.05" width="23.7" height="33.08" fill="#d77158"/>
<rect x="375.3" y="2070.05" width="23.7" height="33.08" fill="#cf5845"/>
<rect x="398.8" y="2070.05" width="23.7" height="33.08" fill="#d77158"/>
<rect x="422.3" y="2070.05" width="23.7" height="33.08" fill="#cf5845"/>
<rect x="445.8" y="2070.05" width="23.7" height="33.08" fill="#d77158"/>
<rect x="469.3" y="2070.05" width="23.7" height="33.08" fill="#da7e61"/>
<rect x="492.8" y="2070.05" width="23.7" height="33.08" fill="#d3654e"/>
<rect x="93.3" y="2102.93" width="23.7" height="33.08" fill="#92ce87"/>
<rect x="116.8" y="2102.93" width="23.7" height="33.08" fill="#9fd58e"/>
<rect x="140.3" y="2102.93" width="23.7" height="33.08" fill="#92ce87"/>
<rect x="163.8" y="2102.93" width="23.7" height="33.08" fill="#92ce87"/>
<rect x="187.3" y="2102.93" width="23.7" height="33.08" fill="#92ce87"/>
<rect x="210.8" y="2102.93" width="23.7" height="33.08" fill="#92ce87"/>
<rect x="234.3" y="2102.93" width="23.7" height="33.08" fill="#d6edaa"/>
<rect x="257.8" y="2102.93" width="23.7" height="33.08" fill="#bbe19c"/>
<rect x="281.3" y="2102.93" width="23.7" height="33.08" fill="#addb95"/>
<rect x="304.8" y="2102.93" width="23.7" height="33.08" fill="#bbe19c"/>
<rect x="328.3" y="2102.93" width="23.7" height="33.08" fill="#bbe19c"/>
<rect x="351.8" y="2102.93" width="23.7" height="33.08" fill="#bbe19c"/>
<rect x="375.3" y="2102.93" width="23.7" height="33.08" fill="#92ce87"/>
<rect x="398.8" y="2102.93" width="23.7" height="33.08" fill="#addb95"/>
<rect x="422.3" y="2102.93" width="23.7" height="33.08" fill="#c8e7a3"/>
<rect x="445.8" y="2102.93" width="23.7" height="33.08" fill="#92ce87"/>
<rect x="469.3" y="2102.93" width="23.7" height="33.08" fill="#9fd58e"/>
<rect x="492.8" y="2102.93" width="23.7" height="33.08" fill="#92ce87"/>
<rect x="93.3" y="2135.8" width="23.7" height="33.08" fill="#4db064"/>
<rect x="116.8" y="2135.8" width="23.7" height="33.08" fill="#5bb66b"/>
<rect x="140.3" y="2135.8" width="23.7" height="33.08" fill="#5bb66b"/>
<rect x="163.8" y="2135.8" width="23.7" height="33.08" fill="#5bb66b"/>
<rect x="187.3" y="2135.8" width="23.7" height="33.08" fill="#40aa5d"/>
<rect x="210.8" y="2135.8" width="23.7" height="33.08" fill="#4db064"/>
<rect x="234.3" y="2135.8" width="23.7" height="33.08" fill="#92ce87"/>
<rect x="257.8" y="2135.8" width="23.7" height="33.08" fill="#9fd58e"/>
<rect x="281.3" y="2135.8" width="23.7" height="33.08" fill="#9fd58e"/>
<rect x="304.8" y="2135.8" width="23.7" height="33.08" fill="#92ce87"/>
<rect x="328.3" y="2135.8" width="23.7" height="33.08" fill="#9fd58e"/>
<rect x="351.8" y="2135.8" width="23.7" height="33.08" fill="#92ce87"/>
<rect x="375.3" y="2135.8" width="23.7" height="33.08" fill="#40aa5d"/>
<rect x="398.8" y="2135.8" width="23.7" height="33.08" fill="#69bc72"/>
<rect x="422.3" y="2135.8" width="23.7" height="33.08" fill="#40aa5d"/>
<rect x="445.8" y="2135.8" width="23.7" height="33.08" fill="#40aa5d"/>
<rect x="469.3" y="2135.8" width="23.7" height="33.08" fill="#40aa5d"/>
<rect x="492.8" y="2135.8" width="23.7" height="33.08" fill="#4db064"/>
<rect x="93.3" y="2168.68" width="23.7" height="33.08" fill="#84c880"/>
<rect x="116.8" y="2168.68" width="23.7" height="33.08" fill="#84c880"/>
<rect x="140.3" y="2168.68" width="23.7" height="33.08" fill="#84c880"/>
<rect x="163.8" y="2168.68" width="23.7" height="33.08" fill="#84c880"/>
<rect x="187.3" y="2168.68" width="23.7" height="33.08" fill="#84c880"/>
<rect x="210.8" y="2168.68" width="23.7" height="33.08" fill="#84c880"/>
<rect x="234.3" y="2168.68" width="23.7" height="33.08" fill="#92ce87"/>
<rect x="257.8" y="2168.68" width="23.7" height="33.08" fill="#92ce87"/>
<rect x="281.3" y="2168.68" width="23.7" height="33.08" fill="#addb95"/>
<rect x="304.8" y="2168.68" width="23.7" height="33.08" fill="#92ce87"/>
<rect x="328.3" y="2168.68" width="23.7" height="33.08" fill="#84c880"/>
<rect x="351.8" y="2168.68" width="23.7" height="33.08" fill="#92ce87"/>
<rect x="375.3" y="2168.68" width="23.7" height="33.08" fill="#84c880"/>
<rect x="398.8" y="2168.68" width="23.7" height="33.08" fill="#92ce87"/>
<rect x="422.3" y="2168.68" width="23.7" height="33.08" fill="#92ce87"/>
<rect x="445.8" y="2168.68" width="23.7" height="33.08" fill="#92ce87"/>
<rect x="469.3" y="2168.68" width="23.7" height="33.08" fill="#92ce87"/>
<rect x="492.8" y="2168.68" width="23.7" height="33.08" fill="#92ce87"/>
<rect x="93.3" y="2201.55" width="23.7" height="33.08" fill="#69bc72"/>
<rect x="116.8" y="2201.55" width="23.7" height="33.08" fill="#76c279"/>
<rect x="140.3" y="2201.55" width="23.7" height="33.08" fill="#69bc72"/>
<rect x="163.8" y="2201.55" width="23.7" height="33.08" fill="#69bc72"/>
<rect x="187.3" y="2201.55" width="23.7" height="33.08" fill="#69bc72"/>
<rect x="210.8" y="2201.55" width="23.7" height="33.08" fill="#69bc72"/>
<rect x="234.3" y="2201.55" width="23.7" height="33.08" fill="#92ce87"/>
<rect x="257.8" y="2201.55" width="23.7" height="33.08" fill="#92ce87"/>
<rect x="281.3" y="2201.55" width="23.7" height="33.08" fill="#92ce87"/>
<rect x="304.8" y="2201.55" width="23.7" height="33.08" fill="#92ce87"/>
<rect x="328.3" y="2201.55" width="23.7" height="33.08" fill="#92ce87"/>
<rect x="351.8" y="2201.55" width="23.7" height="33.08" fill="#92ce87"/>
<rect x="375.3" y="2201.55" width="23.7" height="33.08" fill="#5bb66b"/>
<rect x="398.8" y="2201.55" width="23.7" height="33.08" fill="#76c279"/>
<rect x="422.3" y="2201.55" width="23.7" height="33.08" fill="#69bc72"/>
<rect x="445.8" y="2201.55" width="23.7" height="33.08" fill="#69bc72"/>
<rect x="469.3" y="2201.55" width="23.7" height="33.08" fill="#69bc72"/>
<rect x="492.8" y="2201.55" width="23.7" height="33.08" fill="#76c279"/>
<rect x="93.3" y="2234.43" width="23.7" height="33.08" fill="#de8b6a"/>
<rect x="116.8" y="2234.43" width="23.7" height="33.08" fill="#d77158"/>
<rect x="140.3" y="2234.43" width="23.7" height="33.08" fill="#cf5845"/>
<rect x="163.8" y="2234.43" width="23.7" height="33.08" fill="#da7e61"/>
<rect x="187.3" y="2234.43" width="23.7" height="33.08" fill="#da7e61"/>
<rect x="210.8" y="2234.43" width="23.7" height="33.08" fill="#d3654e"/>
<rect x="234.3" y="2234.43" width="23.7" height="33.08" fill="#9fd58e"/>
<rect x="257.8" y="2234.43" width="23.7" height="33.08" fill="#92ce87"/>
<rect x="281.3" y="2234.43" width="23.7" height="33.08" fill="#92ce87"/>
<rect x="304.8" y="2234.43" width="23.7" height="33.08" fill="#84c880"/>
<rect x="328.3" y="2234.43" width="23.7" height="33.08" fill="#69bc72"/>
<rect x="351.8" y="2234.43" width="23.7" height="33.08" fill="#84c880"/>
<rect x="375.3" y="2234.43" width="23.7" height="33.08" fill="#d77158"/>
<rect x="398.8" y="2234.43" width="23.7" height="33.08" fill="#d77158"/>
<rect x="422.3" y="2234.43" width="23.7" height="33.08" fill="#cf5845"/>
<rect x="445.8" y="2234.43" width="23.7" height="33.08" fill="#cc4b3b"/>
<rect x="469.3" y="2234.43" width="23.7" height="33.08" fill="#cf5845"/>
<rect x="492.8" y="2234.43" width="23.7" height="33.08" fill="#d3654e"/>
<rect x="93.3" y="2267.3" width="23.7" height="33.08" fill="#f1f9b8"/>
<rect x="116.8" y="2267.3" width="23.7" height="33.08" fill="#f1f9b8"/>
<rect x="140.3" y="2267.3" width="23.7" height="33.08" fill="#e4f3b1"/>
<rect x="163.8" y="2267.3" width="23.7" height="33.08" fill="#f1f9b8"/>
<rect x="187.3" y="2267.3" width="23.7" height="33.08" fill="#e4f3b1"/>
<rect x="210.8" y="2267.3" width="23.7" height="33.08" fill="#c8e7a3"/>
<rect x="234.3" y="2267.3" width="23.7" height="33.08" fill="#e9b287"/>
<rect x="257.8" y="2267.3" width="23.7" height="33.08" fill="#edbf90"/>
<rect x="281.3" y="2267.3" width="23.7" height="33.08" fill="#edbf90"/>
<rect x="304.8" y="2267.3" width="23.7" height="33.08" fill="#edbf90"/>
<rect x="328.3" y="2267.3" width="23.7" height="33.08" fill="#f0cc99"/>
<rect x="351.8" y="2267.3" width="23.7" height="33.08" fill="#f4d8a3"/>
<rect x="375.3" y="2267.3" width="23.7" height="33.08" fill="#e4f3b1"/>
<rect x="398.8" y="2267.3" width="23.7" height="33.08" fill="#f4d8a3"/>
<rect x="422.3" y="2267.3" width="23.7" height="33.08" fill="#f8e5ac"/>
<rect x="445.8" y="2267.3" width="23.7" height="33.08" fill="#e4f3b1"/>
<rect x="469.3" y="2267.3" width="23.7" height="33.08" fill="#d6edaa"/>
<rect x="492.8" y="2267.3" width="23.7" height="33.08" fill="#f8e5ac"/>
<rect x="93.3" y="2300.18" width="23.7" height="33.08" fill="#76c279"/>
<rect x="116.8" y="2300.18" width="23.7" height="33.08" fill="#92ce87"/>
<rect x="140.3" y="2300.18" width="23.7" height="33.08" fill="#92ce87"/>
<rect x="163.8" y="2300.18" width="23.7" height="33.08" fill="#92ce87"/>
<rect x="187.3" y="2300.18" width="23.7" height="33.08" fill="#84c880"/>
<rect x="210.8" y="2300.18" width="23.7" height="33.08" fill="#84c880"/>
<rect x="234.3" y="2300.18" width="23.7" height="33.08" fill="#addb95"/>
<rect x="257.8" y="2300.18" width="23.7" height="33.08" fill="#addb95"/>
<rect x="281.3" y="2300.18" width="23.7" height="33.08" fill="#addb95"/>
<rect x="304.8" y="2300.18" width="23.7" height="33.08" fill="#addb95"/>
<rect x="328.3" y="2300.18" width="23.7" height="33.08" fill="#9fd58e"/>
<rect x="351.8" y="2300.18" width="23.7" height="33.08" fill="#c8e7a3"/>
<rect x="375.3" y="2300.18" width="23.7" height="33.08" fill="#69bc72"/>
<rect x="398.8" y="2300.18" width="23.7" height="33.08" fill="#92ce87"/>
<rect x="422.3" y="2300.18" width="23.7" height="33.08" fill="#92ce87"/>
<rect x="445.8" y="2300.18" width="23.7" height="33.08" fill="#84c880"/>
<rect x="469.3" y="2300.18" width="23.7" height="33.08" fill="#76c279"/>
<rect x="492.8" y="2300.18" width="23.7" height="33.08" fill="#92ce87"/>
</g>
<path class="grid" d="M93.3 1346.8V2333.05M116.8 1346.8V2333.05M140.3 1346.8V2333.05M163.8 1346.8V2333.05M187.3 1346.8V2333.05M210.8 1346.8V2333.05M234.3 1346.8V2333.05M257.8 1346.8V2333.05M281.3 1346.8V2333.05M304.8 1346.8V2333.05M328.3 1346.8V2333.05M351.8 1346.8V2333.05M375.3 1346.8V2333.05M398.8 1346.8V2333.05M422.3 1346.8V2333.05M445.8 1346.8V2333.05M469.3 1346.8V2333.05M492.8 1346.8V2333.05M516.3 1346.8V2333.05M93.3 1346.8H516.3M93.3 1379.67H516.3M93.3 1412.55H516.3M93.3 1445.42H516.3M93.3 1478.3H516.3M93.3 1511.17H516.3M93.3 1544.05H516.3M93.3 1576.92H516.3M93.3 1609.8H516.3M93.3 1642.67H516.3M93.3 1675.55H516.3M93.3 1708.42H516.3M93.3 1741.3H516.3M93.3 1774.17H516.3M93.3 1807.05H516.3M93.3 1839.92H516.3M93.3 1872.8H516.3M93.3 1905.67H516.3M93.3 1938.55H516.3M93.3 1971.42H516.3M93.3 2004.3H516.3M93.3 2037.17H516.3M93.3 2070.05H516.3M93.3 2102.93H516.3M93.3 2135.8H516.3M93.3 2168.68H516.3M93.3 2201.55H516.3M93.3 2234.43H516.3M93.3 2267.3H516.3M93.3 2300.18H516.3M93.3 2333.05H516.3" fill="none" stroke="#959595" stroke-width="2.5" stroke-linecap="square"/>
<g class="rl" font-size="18.55">
<text x="530.2" y="1369.54">Photosynthesis(51)</text>
<text x="530.2" y="1402.41">Taurine and hypotaurine metabolism(2)</text>
<text x="530.2" y="1435.29">Peroxisome(101)</text>
<text x="530.2" y="1468.16">Glycosylphosphatidylinositol(GPI)-anchor biosynthesis(30)</text>
<text x="530.2" y="1501.04">Ascorbate and aldarate metabolism(12)</text>
<text x="530.2" y="1533.91">Biosynthesis of amino acids(271)</text>
<text x="530.2" y="1566.79">Diterpenoid biosynthesis(10)</text>
<text x="530.2" y="1599.66">Lysine degradation(13)</text>
<text x="530.2" y="1632.54">ABC transporters(17)</text>
<text x="530.2" y="1665.41">Pentose phosphate pathway(2)</text>
<text x="530.2" y="1698.29">RNA polymerase(50)</text>
<text x="530.2" y="1731.16">Nitrogen metabolism(16)</text>
<text x="530.2" y="1764.04">Proteasome(61)</text>
<text x="530.2" y="1796.91">Cyanoamino acid metabolism(1)</text>
<text x="530.2" y="1829.79">AGE-RAGE signaling pathway in diabetic complications(12)</text>
<text x="530.2" y="1862.66">N-Glycan biosynthesis(34)</text>
<text x="530.2" y="1895.54">Carbon metabolism(157)</text>
<text x="530.2" y="1928.41">Brassinosteroid biosynthesis(5)</text>
<text x="530.2" y="1961.29">Phagosome(94)</text>
<text x="530.2" y="1994.16">Sulfur metabolism(16)</text>
<text x="530.2" y="2027.04">Selenocompound metabolism(6)</text>
<text x="530.2" y="2059.91">alpha-Linolenic acid metabolism(28)</text>
<text x="530.2" y="2092.79">Glyoxylate and dicarboxylate metabolism(1)</text>
<text x="530.2" y="2125.66">Protein processing in endoplasmic reticulum(197)</text>
<text x="530.2" y="2158.54">Linoleic acid metabolism(6)</text>
<text x="530.2" y="2191.41">Ether lipid metabolism(13)</text>
<text x="530.2" y="2224.29">Pantothenate and CoA biosynthesis(15)</text>
<text x="530.2" y="2257.16">Inositol phosphate metabolism(8)</text>
<text x="530.2" y="2290.04">Histidine metabolism(3)</text>
<text x="530.2" y="2322.91">Fatty acid biosynthesis(1)</text>
</g>
<g class="cl" font-size="18.45">
<text transform="translate(98.45 2347.65) rotate(90)">XJ0hR1</text>
<text transform="translate(121.95 2347.65) rotate(90)">XJ0hR2</text>
<text transform="translate(145.45 2347.65) rotate(90)">XJ0hR3</text>
<text transform="translate(168.95 2347.65) rotate(90)">XJ0hS1</text>
<text transform="translate(192.45 2347.65) rotate(90)">XJ0hS2</text>
<text transform="translate(215.95 2347.65) rotate(90)">XJ0hS3</text>
<text transform="translate(239.45 2347.65) rotate(90)">XJ12hR1</text>
<text transform="translate(262.95 2347.65) rotate(90)">XJ12hR2</text>
<text transform="translate(286.45 2347.65) rotate(90)">XJ12hR3</text>
<text transform="translate(309.95 2347.65) rotate(90)">XJ12hS1</text>
<text transform="translate(333.45 2347.65) rotate(90)">XJ12hS2</text>
<text transform="translate(356.95 2347.65) rotate(90)">XJ12hS3</text>
<text transform="translate(380.45 2347.65) rotate(90)">XJ24hR1</text>
<text transform="translate(403.95 2347.65) rotate(90)">XJ24hR2</text>
<text transform="translate(427.45 2347.65) rotate(90)">XJ24hR3</text>
<text transform="translate(450.95 2347.65) rotate(90)">XJ24hS1</text>
<text transform="translate(474.45 2347.65) rotate(90)">XJ24hS2</text>
<text transform="translate(497.95 2347.65) rotate(90)">XJ24hS3</text>
</g>
<rect x="1054" y="1346.5" width="47" height="281.5" fill="url(#lg)"/>
<g class="ll" font-size="18.5">
<text x="1119.5" y="1393.5">6</text>
<text x="1119.5" y="1436.3">5</text>
<text x="1119.5" y="1478.7">4</text>
<text x="1119.5" y="1520.9">3</text>
<text x="1119.5" y="1563.1">2</text>
<text x="1119.5" y="1605.3">1</text>
</g>
<text class="pl" x="22.5" y="1395" font-size="71">C</text>
<g class="hm">
<rect x="1246.3" y="1346.7" width="23.67" height="33.08" fill="#d77158"/>
<rect x="1269.77" y="1346.7" width="23.67" height="33.08" fill="#cf5845"/>
<rect x="1293.24" y="1346.7" width="23.67" height="33.08" fill="#cc4b3b"/>
<rect x="1316.71" y="1346.7" width="23.67" height="33.08" fill="#cf5845"/>
<rect x="1340.18" y="1346.7" width="23.67" height="33.08" fill="#cf5845"/>
<rect x="1363.65" y="1346.7" width="23.67" height="33.08" fill="#d77158"/>
<rect x="1387.12" y="1346.7" width="23.67" height="33.08" fill="#edbf90"/>
<rect x="1410.59" y="1346.7" width="23.67" height="33.08" fill="#e9b287"/>
<rect x="1434.06" y="1346.7" width="23.67" height="33.08" fill="#e5a57d"/>
<rect x="1457.53" y="1346.7" width="23.67" height="33.08" fill="#e5a57d"/>
<rect x="1481" y="1346.7" width="23.67" height="33.08" fill="#e9b287"/>
<rect x="1504.47" y="1346.7" width="23.67" height="33.08" fill="#e9b287"/>
<rect x="1527.94" y="1346.7" width="23.67" height="33.08" fill="#da7e61"/>
<rect x="1551.41" y="1346.7" width="23.67" height="33.08" fill="#de8b6a"/>
<rect x="1574.88" y="1346.7" width="23.67" height="33.08" fill="#de8b6a"/>
<rect x="1598.35" y="1346.7" width="23.67" height="33.08" fill="#de8b6a"/>
<rect x="1621.82" y="1346.7" width="23.67" height="33.08" fill="#e29874"/>
<rect x="1645.29" y="1346.7" width="23.67" height="33.08" fill="#d77158"/>
<rect x="1246.3" y="1379.58" width="23.67" height="33.08" fill="#5bb66b"/>
<rect x="1269.77" y="1379.58" width="23.67" height="33.08" fill="#69bc72"/>
<rect x="1293.24" y="1379.58" width="23.67" height="33.08" fill="#5bb66b"/>
<rect x="1316.71" y="1379.58" width="23.67" height="33.08" fill="#5bb66b"/>
<rect x="1340.18" y="1379.58" width="23.67" height="33.08" fill="#5bb66b"/>
<rect x="1363.65" y="1379.58" width="23.67" height="33.08" fill="#4db064"/>
<rect x="1387.12" y="1379.58" width="23.67" height="33.08" fill="#76c279"/>
<rect x="1410.59" y="1379.58" width="23.67" height="33.08" fill="#69bc72"/>
<rect x="1434.06" y="1379.58" width="23.67" height="33.08" fill="#69bc72"/>
<rect x="1457.53" y="1379.58" width="23.67" height="33.08" fill="#76c279"/>
<rect x="1481" y="1379.58" width="23.67" height="33.08" fill="#69bc72"/>
<rect x="1504.47" y="1379.58" width="23.67" height="33.08" fill="#69bc72"/>
<rect x="1527.94" y="1379.58" width="23.67" height="33.08" fill="#5bb66b"/>
<rect x="1551.41" y="1379.58" width="23.67" height="33.08" fill="#69bc72"/>
<rect x="1574.88" y="1379.58" width="23.67" height="33.08" fill="#69bc72"/>
<rect x="1598.35" y="1379.58" width="23.67" height="33.08" fill="#5bb66b"/>
<rect x="1621.82" y="1379.58" width="23.67" height="33.08" fill="#5bb66b"/>
<rect x="1645.29" y="1379.58" width="23.67" height="33.08" fill="#69bc72"/>
<rect x="1246.3" y="1412.45" width="23.67" height="33.08" fill="#9fd58e"/>
<rect x="1269.77" y="1412.45" width="23.67" height="33.08" fill="#9fd58e"/>
<rect x="1293.24" y="1412.45" width="23.67" height="33.08" fill="#92ce87"/>
<rect x="1316.71" y="1412.45" width="23.67" height="33.08" fill="#9fd58e"/>
<rect x="1340.18" y="1412.45" width="23.67" height="33.08" fill="#92ce87"/>
<rect x="1363.65" y="1412.45" width="23.67" height="33.08" fill="#92ce87"/>
<rect x="1387.12" y="1412.45" width="23.67" height="33.08" fill="#bbe19c"/>
<rect x="1410.59" y="1412.45" width="23.67" height="33.08" fill="#addb95"/>
<rect x="1434.06" y="1412.45" width="23.67" height="33.08" fill="#addb95"/>
<rect x="1457.53" y="1412.45" width="23.67" height="33.08" fill="#bbe19c"/>
<rect x="1481" y="1412.45" width="23.67" height="33.08" fill="#addb95"/>
<rect x="1504.47" y="1412.45" width="23.67" height="33.08" fill="#addb95"/>
<rect x="1527.94" y="1412.45" width="23.67" height="33.08" fill="#92ce87"/>
<rect x="1551.41" y="1412.45" width="23.67" height="33.08" fill="#9fd58e"/>
<rect x="1574.88" y="1412.45" width="23.67" height="33.08" fill="#9fd58e"/>
<rect x="1598.35" y="1412.45" width="23.67" height="33.08" fill="#92ce87"/>
<rect x="1621.82" y="1412.45" width="23.67" height="33.08" fill="#9fd58e"/>
<rect x="1645.29" y="1412.45" width="23.67" height="33.08" fill="#92ce87"/>
<rect x="1246.3" y="1445.33" width="23.67" height="33.08" fill="#5bb66b"/>
<rect x="1269.77" y="1445.33" width="23.67" height="33.08" fill="#69bc72"/>
<rect x="1293.24" y="1445.33" width="23.67" height="33.08" fill="#5bb66b"/>
<rect x="1316.71" y="1445.33" width="23.67" height="33.08" fill="#5bb66b"/>
<rect x="1340.18" y="1445.33" width="23.67" height="33.08" fill="#5bb66b"/>
<rect x="1363.65" y="1445.33" width="23.67" height="33.08" fill="#5bb66b"/>
<rect x="1387.12" y="1445.33" width="23.67" height="33.08" fill="#76c279"/>
<rect x="1410.59" y="1445.33" width="23.67" height="33.08" fill="#76c279"/>
<rect x="1434.06" y="1445.33" width="23.67" height="33.08" fill="#76c279"/>
<rect x="1457.53" y="1445.33" width="23.67" height="33.08" fill="#76c279"/>
<rect x="1481" y="1445.33" width="23.67" height="33.08" fill="#76c279"/>
<rect x="1504.47" y="1445.33" width="23.67" height="33.08" fill="#76c279"/>
<rect x="1527.94" y="1445.33" width="23.67" height="33.08" fill="#5bb66b"/>
<rect x="1551.41" y="1445.33" width="23.67" height="33.08" fill="#69bc72"/>
<rect x="1574.88" y="1445.33" width="23.67" height="33.08" fill="#69bc72"/>
<rect x="1598.35" y="1445.33" width="23.67" height="33.08" fill="#69bc72"/>
<rect x="1621.82" y="1445.33" width="23.67" height="33.08" fill="#69bc72"/>
<rect x="1645.29" y="1445.33" width="23.67" height="33.08" fill="#69bc72"/>
<rect x="1246.3" y="1478.2" width="23.67" height="33.08" fill="#e9b287"/>
<rect x="1269.77" y="1478.2" width="23.67" height="33.08" fill="#e9b287"/>
<rect x="1293.24" y="1478.2" width="23.67" height="33.08" fill="#e5a57d"/>
<rect x="1316.71" y="1478.2" width="23.67" height="33.08" fill="#e9b287"/>
<rect x="1340.18" y="1478.2" width="23.67" height="33.08" fill="#e5a57d"/>
<rect x="1363.65" y="1478.2" width="23.67" height="33.08" fill="#e29874"/>
<rect x="1387.12" y="1478.2" width="23.67" height="33.08" fill="#f0cc99"/>
<rect x="1410.59" y="1478.2" width="23.67" height="33.08" fill="#f4d8a3"/>
<rect x="1434.06" y="1478.2" width="23.67" height="33.08" fill="#f4d8a3"/>
<rect x="1457.53" y="1478.2" width="23.67" height="33.08" fill="#f4d8a3"/>
<rect x="1481" y="1478.2" width="23.67" height="33.08" fill="#f8e5ac"/>
<rect x="1504.47" y="1478.2" width="23.67" height="33.08" fill="#fbf2b6"/>
<rect x="1527.94" y="1478.2" width="23.67" height="33.08" fill="#e29874"/>
<rect x="1551.41" y="1478.2" width="23.67" height="33.08" fill="#e29874"/>
<rect x="1574.88" y="1478.2" width="23.67" height="33.08" fill="#da7e61"/>
<rect x="1598.35" y="1478.2" width="23.67" height="33.08" fill="#e29874"/>
<rect x="1621.82" y="1478.2" width="23.67" height="33.08" fill="#de8b6a"/>
<rect x="1645.29" y="1478.2" width="23.67" height="33.08" fill="#e29874"/>
<rect x="1246.3" y="1511.08" width="23.67" height="33.08" fill="#92ce87"/>
<rect x="1269.77" y="1511.08" width="23.67" height="33.08" fill="#9fd58e"/>
<rect x="1293.24" y="1511.08" width="23.67" height="33.08" fill="#92ce87"/>
<rect x="1316.71" y="1511.08" width="23.67" height="33.08" fill="#92ce87"/>
<rect x="1340.18" y="1511.08" width="23.67" height="33.08" fill="#92ce87"/>
<rect x="1363.65" y="1511.08" width="23.67" height="33.08" fill="#92ce87"/>
<rect x="1387.12" y="1511.08" width="23.67" height="33.08" fill="#c8e7a3"/>
<rect x="1410.59" y="1511.08" width="23.67" height="33.08" fill="#bbe19c"/>
<rect x="1434.06" y="1511.08" width="23.67" height="33.08" fill="#addb95"/>
<rect x="1457.53" y="1511.08" width="23.67" height="33.08" fill="#addb95"/>
<rect x="1481" y="1511.08" width="23.67" height="33.08" fill="#addb95"/>
<rect x="1504.47" y="1511.08" width="23.67" height="33.08" fill="#addb95"/>
<rect x="1527.94" y="1511.08" width="23.67" height="33.08" fill="#92ce87"/>
<rect x="1551.41" y="1511.08" width="23.67" height="33.08" fill="#9fd58e"/>
<rect x="1574.88" y="1511.08" width="23.67" height="33.08" fill="#9fd58e"/>
<rect x="1598.35" y="1511.08" width="23.67" height="33.08" fill="#92ce87"/>
<rect x="1621.82" y="1511.08" width="23.67" height="33.08" fill="#92ce87"/>
<rect x="1645.29" y="1511.08" width="23.67" height="33.08" fill="#92ce87"/>
<rect x="1246.3" y="1543.95" width="23.67" height="33.08" fill="#40aa5d"/>
<rect x="1269.77" y="1543.95" width="23.67" height="33.08" fill="#4db064"/>
<rect x="1293.24" y="1543.95" width="23.67" height="33.08" fill="#40aa5d"/>
<rect x="1316.71" y="1543.95" width="23.67" height="33.08" fill="#40aa5d"/>
<rect x="1340.18" y="1543.95" width="23.67" height="33.08" fill="#40aa5d"/>
<rect x="1363.65" y="1543.95" width="23.67" height="33.08" fill="#40aa5d"/>
<rect x="1387.12" y="1543.95" width="23.67" height="33.08" fill="#4db064"/>
<rect x="1410.59" y="1543.95" width="23.67" height="33.08" fill="#76c279"/>
<rect x="1434.06" y="1543.95" width="23.67" height="33.08" fill="#69bc72"/>
<rect x="1457.53" y="1543.95" width="23.67" height="33.08" fill="#69bc72"/>
<rect x="1481" y="1543.95" width="23.67" height="33.08" fill="#5bb66b"/>
<rect x="1504.47" y="1543.95" width="23.67" height="33.08" fill="#69bc72"/>
<rect x="1527.94" y="1543.95" width="23.67" height="33.08" fill="#32a456"/>
<rect x="1551.41" y="1543.95" width="23.67" height="33.08" fill="#40aa5d"/>
<rect x="1574.88" y="1543.95" width="23.67" height="33.08" fill="#40aa5d"/>
<rect x="1598.35" y="1543.95" width="23.67" height="33.08" fill="#40aa5d"/>
<rect x="1621.82" y="1543.95" width="23.67" height="33.08" fill="#4db064"/>
<rect x="1645.29" y="1543.95" width="23.67" height="33.08" fill="#40aa5d"/>
<rect x="1246.3" y="1576.83" width="23.67" height="33.08" fill="#76c279"/>
<rect x="1269.77" y="1576.83" width="23.67" height="33.08" fill="#76c279"/>
<rect x="1293.24" y="1576.83" width="23.67" height="33.08" fill="#76c279"/>
<rect x="1316.71" y="1576.83" width="23.67" height="33.08" fill="#76c279"/>
<rect x="1340.18" y="1576.83" width="23.67" height="33.08" fill="#76c279"/>
<rect x="1363.65" y="1576.83" width="23.67" height="33.08" fill="#76c279"/>
<rect x="1387.12" y="1576.83" width="23.67" height="33.08" fill="#9fd58e"/>
<rect x="1410.59" y="1576.83" width="23.67" height="33.08" fill="#92ce87"/>
<rect x="1434.06" y="1576.83" width="23.67" height="33.08" fill="#92ce87"/>
<rect x="1457.53" y="1576.83" width="23.67" height="33.08" fill="#92ce87"/>
<rect x="1481" y="1576.83" width="23.67" height="33.08" fill="#92ce87"/>
<rect x="1504.47" y="1576.83" width="23.67" height="33.08" fill="#92ce87"/>
<rect x="1527.94" y="1576.83" width="23.67" height="33.08" fill="#76c279"/>
<rect x="1551.41" y="1576.83" width="23.67" height="33.08" fill="#84c880"/>
<rect x="1574.88" y="1576.83" width="23.67" height="33.08" fill="#84c880"/>
<rect x="1598.35" y="1576.83" width="23.67" height="33.08" fill="#84c880"/>
<rect x="1621.82" y="1576.83" width="23.67" height="33.08" fill="#84c880"/>
<rect x="1645.29" y="1576.83" width="23.67" height="33.08" fill="#76c279"/>
<rect x="1246.3" y="1609.7" width="23.67" height="33.08" fill="#84c880"/>
<rect x="1269.77" y="1609.7" width="23.67" height="33.08" fill="#84c880"/>
<rect x="1293.24" y="1609.7" width="23.67" height="33.08" fill="#84c880"/>
<rect x="1316.71" y="1609.7" width="23.67" height="33.08" fill="#84c880"/>
<rect x="1340.18" y="1609.7" width="23.67" height="33.08" fill="#84c880"/>
<rect x="1363.65" y="1609.7" width="23.67" height="33.08" fill="#76c279"/>
<rect x="1387.12" y="1609.7" width="23.67" height="33.08" fill="#addb95"/>
<rect x="1410.59" y="1609.7" width="23.67" height="33.08" fill="#addb95"/>
<rect x="1434.06" y="1609.7" width="23.67" height="33.08" fill="#9fd58e"/>
<rect x="1457.53" y="1609.7" width="23.67" height="33.08" fill="#addb95"/>
<rect x="1481" y="1609.7" width="23.67" height="33.08" fill="#9fd58e"/>
<rect x="1504.47" y="1609.7" width="23.67" height="33.08" fill="#addb95"/>
<rect x="1527.94" y="1609.7" width="23.67" height="33.08" fill="#84c880"/>
<rect x="1551.41" y="1609.7" width="23.67" height="33.08" fill="#84c880"/>
<rect x="1574.88" y="1609.7" width="23.67" height="33.08" fill="#84c880"/>
<rect x="1598.35" y="1609.7" width="23.67" height="33.08" fill="#84c880"/>
<rect x="1621.82" y="1609.7" width="23.67" height="33.08" fill="#84c880"/>
<rect x="1645.29" y="1609.7" width="23.67" height="33.08" fill="#84c880"/>
<rect x="1246.3" y="1642.58" width="23.67" height="33.08" fill="#76c279"/>
<rect x="1269.77" y="1642.58" width="23.67" height="33.08" fill="#76c279"/>
<rect x="1293.24" y="1642.58" width="23.67" height="33.08" fill="#76c279"/>
<rect x="1316.71" y="1642.58" width="23.67" height="33.08" fill="#76c279"/>
<rect x="1340.18" y="1642.58" width="23.67" height="33.08" fill="#69bc72"/>
<rect x="1363.65" y="1642.58" width="23.67" height="33.08" fill="#69bc72"/>
<rect x="1387.12" y="1642.58" width="23.67" height="33.08" fill="#9fd58e"/>
<rect x="1410.59" y="1642.58" width="23.67" height="33.08" fill="#9fd58e"/>
<rect x="1434.06" y="1642.58" width="23.67" height="33.08" fill="#92ce87"/>
<rect x="1457.53" y="1642.58" width="23.67" height="33.08" fill="#9fd58e"/>
<rect x="1481" y="1642.58" width="23.67" height="33.08" fill="#92ce87"/>
<rect x="1504.47" y="1642.58" width="23.67" height="33.08" fill="#9fd58e"/>
<rect x="1527.94" y="1642.58" width="23.67" height="33.08" fill="#69bc72"/>
<rect x="1551.41" y="1642.58" width="23.67" height="33.08" fill="#76c279"/>
<rect x="1574.88" y="1642.58" width="23.67" height="33.08" fill="#76c279"/>
<rect x="1598.35" y="1642.58" width="23.67" height="33.08" fill="#69bc72"/>
<rect x="1621.82" y="1642.58" width="23.67" height="33.08" fill="#76c279"/>
<rect x="1645.29" y="1642.58" width="23.67" height="33.08" fill="#76c279"/>
<rect x="1246.3" y="1675.45" width="23.67" height="33.08" fill="#76c279"/>
<rect x="1269.77" y="1675.45" width="23.67" height="33.08" fill="#84c880"/>
<rect x="1293.24" y="1675.45" width="23.67" height="33.08" fill="#76c279"/>
<rect x="1316.71" y="1675.45" width="23.67" height="33.08" fill="#76c279"/>
<rect x="1340.18" y="1675.45" width="23.67" height="33.08" fill="#76c279"/>
<rect x="1363.65" y="1675.45" width="23.67" height="33.08" fill="#76c279"/>
<rect x="1387.12" y="1675.45" width="23.67" height="33.08" fill="#c8e7a3"/>
<rect x="1410.59" y="1675.45" width="23.67" height="33.08" fill="#bbe19c"/>
<rect x="1434.06" y="1675.45" width="23.67" height="33.08" fill="#addb95"/>
<rect x="1457.53" y="1675.45" width="23.67" height="33.08" fill="#bbe19c"/>
<rect x="1481" y="1675.45" width="23.67" height="33.08" fill="#bbe19c"/>
<rect x="1504.47" y="1675.45" width="23.67" height="33.08" fill="#bbe19c"/>
<rect x="1527.94" y="1675.45" width="23.67" height="33.08" fill="#76c279"/>
<rect x="1551.41" y="1675.45" width="23.67" height="33.08" fill="#84c880"/>
<rect x="1574.88" y="1675.45" width="23.67" height="33.08" fill="#84c880"/>
<rect x="1598.35" y="1675.45" width="23.67" height="33.08" fill="#76c279"/>
<rect x="1621.82" y="1675.45" width="23.67" height="33.08" fill="#84c880"/>
<rect x="1645.29" y="1675.45" width="23.67" height="33.08" fill="#76c279"/>
<rect x="1246.3" y="1708.33" width="23.67" height="33.08" fill="#f8e5ac"/>
<rect x="1269.77" y="1708.33" width="23.67" height="33.08" fill="#f4d8a3"/>
<rect x="1293.24" y="1708.33" width="23.67" height="33.08" fill="#f4d8a3"/>
<rect x="1316.71" y="1708.33" width="23.67" height="33.08" fill="#f0cc99"/>
<rect x="1340.18" y="1708.33" width="23.67" height="33.08" fill="#f0cc99"/>
<rect x="1363.65" y="1708.33" width="23.67" height="33.08" fill="#f0cc99"/>
<rect x="1387.12" y="1708.33" width="23.67" height="33.08" fill="#84c880"/>
<rect x="1410.59" y="1708.33" width="23.67" height="33.08" fill="#84c880"/>
<rect x="1434.06" y="1708.33" width="23.67" height="33.08" fill="#84c880"/>
<rect x="1457.53" y="1708.33" width="23.67" height="33.08" fill="#84c880"/>
<rect x="1481" y="1708.33" width="23.67" height="33.08" fill="#92ce87"/>
<rect x="1504.47" y="1708.33" width="23.67" height="33.08" fill="#84c880"/>
<rect x="1527.94" y="1708.33" width="23.67" height="33.08" fill="#f8e5ac"/>
<rect x="1551.41" y="1708.33" width="23.67" height="33.08" fill="#f6dfa8"/>
<rect x="1574.88" y="1708.33" width="23.67" height="33.08" fill="#f4d8a3"/>
<rect x="1598.35" y="1708.33" width="23.67" height="33.08" fill="#f0cc99"/>
<rect x="1621.82" y="1708.33" width="23.67" height="33.08" fill="#f0cc99"/>
<rect x="1645.29" y="1708.33" width="23.67" height="33.08" fill="#f8e5ac"/>
<rect x="1246.3" y="1741.2" width="23.67" height="33.08" fill="#bbe19c"/>
<rect x="1269.77" y="1741.2" width="23.67" height="33.08" fill="#bbe19c"/>
<rect x="1293.24" y="1741.2" width="23.67" height="33.08" fill="#bbe19c"/>
<rect x="1316.71" y="1741.2" width="23.67" height="33.08" fill="#bbe19c"/>
<rect x="1340.18" y="1741.2" width="23.67" height="33.08" fill="#addb95"/>
<rect x="1363.65" y="1741.2" width="23.67" height="33.08" fill="#addb95"/>
<rect x="1387.12" y="1741.2" width="23.67" height="33.08" fill="#f8fcbc"/>
<rect x="1410.59" y="1741.2" width="23.67" height="33.08" fill="#e4f3b1"/>
<rect x="1434.06" y="1741.2" width="23.67" height="33.08" fill="#c8e7a3"/>
<rect x="1457.53" y="1741.2" width="23.67" height="33.08" fill="#d6edaa"/>
<rect x="1481" y="1741.2" width="23.67" height="33.08" fill="#d6edaa"/>
<rect x="1504.47" y="1741.2" width="23.67" height="33.08" fill="#d6edaa"/>
<rect x="1527.94" y="1741.2" width="23.67" height="33.08" fill="#bbe19c"/>
<rect x="1551.41" y="1741.2" width="23.67" height="33.08" fill="#d6edaa"/>
<rect x="1574.88" y="1741.2" width="23.67" height="33.08" fill="#d6edaa"/>
<rect x="1598.35" y="1741.2" width="23.67" height="33.08" fill="#bbe19c"/>
<rect x="1621.82" y="1741.2" width="23.67" height="33.08" fill="#c8e7a3"/>
<rect x="1645.29" y="1741.2" width="23.67" height="33.08" fill="#bbe19c"/>
<rect x="1246.3" y="1774.08" width="23.67" height="33.08" fill="#edbf90"/>
<rect x="1269.77" y="1774.08" width="23.67" height="33.08" fill="#f0cc99"/>
<rect x="1293.24" y="1774.08" width="23.67" height="33.08" fill="#e9b287"/>
<rect x="1316.71" y="1774.08" width="23.67" height="33.08" fill="#f0cc99"/>
<rect x="1340.18" y="1774.08" width="23.67" height="33.08" fill="#edbf90"/>
<rect x="1363.65" y="1774.08" width="23.67" height="33.08" fill="#f0cc99"/>
<rect x="1387.12" y="1774.08" width="23.67" height="33.08" fill="#c8e7a3"/>
<rect x="1410.59" y="1774.08" width="23.67" height="33.08" fill="#f1f9b8"/>
<rect x="1434.06" y="1774.08" width="23.67" height="33.08" fill="#d6edaa"/>
<rect x="1457.53" y="1774.08" width="23.67" height="33.08" fill="#f8fcbc"/>
<rect x="1481" y="1774.08" width="23.67" height="33.08" fill="#d6edaa"/>
<rect x="1504.47" y="1774.08" width="23.67" height="33.08" fill="#e4f3b1"/>
<rect x="1527.94" y="1774.08" width="23.67" height="33.08" fill="#edbf90"/>
<rect x="1551.41" y="1774.08" width="23.67" height="33.08" fill="#f0cc99"/>
<rect x="1574.88" y="1774.08" width="23.67" height="33.08" fill="#f0cc99"/>
<rect x="1598.35" y="1774.08" width="23.67" height="33.08" fill="#edbf90"/>
<rect x="1621.82" y="1774.08" width="23.67" height="33.08" fill="#f4d8a3"/>
<rect x="1645.29" y="1774.08" width="23.67" height="33.08" fill="#f0cc99"/>
<rect x="1246.3" y="1806.95" width="23.67" height="33.08" fill="#69bc72"/>
<rect x="1269.77" y="1806.95" width="23.67" height="33.08" fill="#76c279"/>
<rect x="1293.24" y="1806.95" width="23.67" height="33.08" fill="#69bc72"/>
<rect x="1316.71" y="1806.95" width="23.67" height="33.08" fill="#76c279"/>
<rect x="1340.18" y="1806.95" width="23.67" height="33.08" fill="#76c279"/>
<rect x="1363.65" y="1806.95" width="23.67" height="33.08" fill="#76c279"/>
<rect x="1387.12" y="1806.95" width="23.67" height="33.08" fill="#92ce87"/>
<rect x="1410.59" y="1806.95" width="23.67" height="33.08" fill="#92ce87"/>
<rect x="1434.06" y="1806.95" width="23.67" height="33.08" fill="#84c880"/>
<rect x="1457.53" y="1806.95" width="23.67" height="33.08" fill="#92ce87"/>
<rect x="1481" y="1806.95" width="23.67" height="33.08" fill="#84c880"/>
<rect x="1504.47" y="1806.95" width="23.67" height="33.08" fill="#92ce87"/>
<rect x="1527.94" y="1806.95" width="23.67" height="33.08" fill="#76c279"/>
<rect x="1551.41" y="1806.95" width="23.67" height="33.08" fill="#84c880"/>
<rect x="1574.88" y="1806.95" width="23.67" height="33.08" fill="#84c880"/>
<rect x="1598.35" y="1806.95" width="23.67" height="33.08" fill="#76c279"/>
<rect x="1621.82" y="1806.95" width="23.67" height="33.08" fill="#76c279"/>
<rect x="1645.29" y="1806.95" width="23.67" height="33.08" fill="#84c880"/>
<rect x="1246.3" y="1839.83" width="23.67" height="33.08" fill="#5bb66b"/>
<rect x="1269.77" y="1839.83" width="23.67" height="33.08" fill="#69bc72"/>
<rect x="1293.24" y="1839.83" width="23.67" height="33.08" fill="#5bb66b"/>
<rect x="1316.71" y="1839.83" width="23.67" height="33.08" fill="#5bb66b"/>
<rect x="1340.18" y="1839.83" width="23.67" height="33.08" fill="#5bb66b"/>
<rect x="1363.65" y="1839.83" width="23.67" height="33.08" fill="#5bb66b"/>
<rect x="1387.12" y="1839.83" width="23.67" height="33.08" fill="#76c279"/>
<rect x="1410.59" y="1839.83" width="23.67" height="33.08" fill="#76c279"/>
<rect x="1434.06" y="1839.83" width="23.67" height="33.08" fill="#76c279"/>
<rect x="1457.53" y="1839.83" width="23.67" height="33.08" fill="#76c279"/>
<rect x="1481" y="1839.83" width="23.67" height="33.08" fill="#76c279"/>
<rect x="1504.47" y="1839.83" width="23.67" height="33.08" fill="#76c279"/>
<rect x="1527.94" y="1839.83" width="23.67" height="33.08" fill="#5bb66b"/>
<rect x="1551.41" y="1839.83" width="23.67" height="33.08" fill="#69bc72"/>
<rect x="1574.88" y="1839.83" width="23.67" height="33.08" fill="#69bc72"/>
<rect x="1598.35" y="1839.83" width="23.67" height="33.08" fill="#69bc72"/>
<rect x="1621.82" y="1839.83" width="23.67" height="33.08" fill="#69bc72"/>
<rect x="1645.29" y="1839.83" width="23.67" height="33.08" fill="#69bc72"/>
<rect x="1246.3" y="1872.7" width="23.67" height="33.08" fill="#9fd58e"/>
<rect x="1269.77" y="1872.7" width="23.67" height="33.08" fill="#9fd58e"/>
<rect x="1293.24" y="1872.7" width="23.67" height="33.08" fill="#addb95"/>
<rect x="1316.71" y="1872.7" width="23.67" height="33.08" fill="#9fd58e"/>
<rect x="1340.18" y="1872.7" width="23.67" height="33.08" fill="#9fd58e"/>
<rect x="1363.65" y="1872.7" width="23.67" height="33.08" fill="#9fd58e"/>
<rect x="1387.12" y="1872.7" width="23.67" height="33.08" fill="#c8e7a3"/>
<rect x="1410.59" y="1872.7" width="23.67" height="33.08" fill="#bbe19c"/>
<rect x="1434.06" y="1872.7" width="23.67" height="33.08" fill="#bbe19c"/>
<rect x="1457.53" y="1872.7" width="23.67" height="33.08" fill="#bbe19c"/>
<rect x="1481" y="1872.7" width="23.67" height="33.08" fill="#bbe19c"/>
<rect x="1504.47" y="1872.7" width="23.67" height="33.08" fill="#bbe19c"/>
<rect x="1527.94" y="1872.7" width="23.67" height="33.08" fill="#9fd58e"/>
<rect x="1551.41" y="1872.7" width="23.67" height="33.08" fill="#addb95"/>
<rect x="1574.88" y="1872.7" width="23.67" height="33.08" fill="#addb95"/>
<rect x="1598.35" y="1872.7" width="23.67" height="33.08" fill="#addb95"/>
<rect x="1621.82" y="1872.7" width="23.67" height="33.08" fill="#addb95"/>
<rect x="1645.29" y="1872.7" width="23.67" height="33.08" fill="#9fd58e"/>
<rect x="1246.3" y="1905.58" width="23.67" height="33.08" fill="#5bb66b"/>
<rect x="1269.77" y="1905.58" width="23.67" height="33.08" fill="#76c279"/>
<rect x="1293.24" y="1905.58" width="23.67" height="33.08" fill="#5bb66b"/>
<rect x="1316.71" y="1905.58" width="23.67" height="33.08" fill="#76c279"/>
<rect x="1340.18" y="1905.58" width="23.67" height="33.08" fill="#4db064"/>
<rect x="1363.65" y="1905.58" width="23.67" height="33.08" fill="#4db064"/>
<rect x="1387.12" y="1905.58" width="23.67" height="33.08" fill="#addb95"/>
<rect x="1410.59" y="1905.58" width="23.67" height="33.08" fill="#9fd58e"/>
<rect x="1434.06" y="1905.58" width="23.67" height="33.08" fill="#92ce87"/>
<rect x="1457.53" y="1905.58" width="23.67" height="33.08" fill="#9fd58e"/>
<rect x="1481" y="1905.58" width="23.67" height="33.08" fill="#9fd58e"/>
<rect x="1504.47" y="1905.58" width="23.67" height="33.08" fill="#addb95"/>
<rect x="1527.94" y="1905.58" width="23.67" height="33.08" fill="#69bc72"/>
<rect x="1551.41" y="1905.58" width="23.67" height="33.08" fill="#76c279"/>
<rect x="1574.88" y="1905.58" width="23.67" height="33.08" fill="#9fd58e"/>
<rect x="1598.35" y="1905.58" width="23.67" height="33.08" fill="#69bc72"/>
<rect x="1621.82" y="1905.58" width="23.67" height="33.08" fill="#5bb66b"/>
<rect x="1645.29" y="1905.58" width="23.67" height="33.08" fill="#76c279"/>
<rect x="1246.3" y="1938.45" width="23.67" height="33.08" fill="#addb95"/>
<rect x="1269.77" y="1938.45" width="23.67" height="33.08" fill="#bbe19c"/>
<rect x="1293.24" y="1938.45" width="23.67" height="33.08" fill="#addb95"/>
<rect x="1316.71" y="1938.45" width="23.67" height="33.08" fill="#addb95"/>
<rect x="1340.18" y="1938.45" width="23.67" height="33.08" fill="#addb95"/>
<rect x="1363.65" y="1938.45" width="23.67" height="33.08" fill="#addb95"/>
<rect x="1387.12" y="1938.45" width="23.67" height="33.08" fill="#f8e5ac"/>
<rect x="1410.59" y="1938.45" width="23.67" height="33.08" fill="#f8fcbc"/>
<rect x="1434.06" y="1938.45" width="23.67" height="33.08" fill="#e4f3b1"/>
<rect x="1457.53" y="1938.45" width="23.67" height="33.08" fill="#f1f9b8"/>
<rect x="1481" y="1938.45" width="23.67" height="33.08" fill="#f8fcbc"/>
<rect x="1504.47" y="1938.45" width="23.67" height="33.08" fill="#f1f9b8"/>
<rect x="1527.94" y="1938.45" width="23.67" height="33.08" fill="#92ce87"/>
<rect x="1551.41" y="1938.45" width="23.67" height="33.08" fill="#bbe19c"/>
<rect x="1574.88" y="1938.45" width="23.67" height="33.08" fill="#bbe19c"/>
<rect x="1598.35" y="1938.45" width="23.67" height="33.08" fill="#addb95"/>
<rect x="1621.82" y="1938.45" width="23.67" height="33.08" fill="#addb95"/>
<rect x="1645.29" y="1938.45" width="23.67" height="33.08" fill="#9fd58e"/>
<rect x="1246.3" y="1971.33" width="23.67" height="33.08" fill="#bbe19c"/>
<rect x="1269.77" y="1971.33" width="23.67" height="33.08" fill="#bbe19c"/>
<rect x="1293.24" y="1971.33" width="23.67" height="33.08" fill="#bbe19c"/>
<rect x="1316.71" y="1971.33" width="23.67" height="33.08" fill="#bbe19c"/>
<rect x="1340.18" y="1971.33" width="23.67" height="33.08" fill="#bbe19c"/>
<rect x="1363.65" y="1971.33" width="23.67" height="33.08" fill="#bbe19c"/>
<rect x="1387.12" y="1971.33" width="23.67" height="33.08" fill="#bbe19c"/>
<rect x="1410.59" y="1971.33" width="23.67" height="33.08" fill="#c8e7a3"/>
<rect x="1434.06" y="1971.33" width="23.67" height="33.08" fill="#bbe19c"/>
<rect x="1457.53" y="1971.33" width="23.67" height="33.08" fill="#bbe19c"/>
<rect x="1481" y="1971.33" width="23.67" height="33.08" fill="#bbe19c"/>
<rect x="1504.47" y="1971.33" width="23.67" height="33.08" fill="#bbe19c"/>
<rect x="1527.94" y="1971.33" width="23.67" height="33.08" fill="#addb95"/>
<rect x="1551.41" y="1971.33" width="23.67" height="33.08" fill="#bbe19c"/>
<rect x="1574.88" y="1971.33" width="23.67" height="33.08" fill="#bbe19c"/>
<rect x="1598.35" y="1971.33" width="23.67" height="33.08" fill="#bbe19c"/>
<rect x="1621.82" y="1971.33" width="23.67" height="33.08" fill="#bbe19c"/>
<rect x="1645.29" y="1971.33" width="23.67" height="33.08" fill="#bbe19c"/>
<rect x="1246.3" y="2004.2" width="23.67" height="33.08" fill="#d6edaa"/>
<rect x="1269.77" y="2004.2" width="23.67" height="33.08" fill="#e4f3b1"/>
<rect x="1293.24" y="2004.2" width="23.67" height="33.08" fill="#f1f9b8"/>
<rect x="1316.71" y="2004.2" width="23.67" height="33.08" fill="#d6edaa"/>
<rect x="1340.18" y="2004.2" width="23.67" height="33.08" fill="#c8e7a3"/>
<rect x="1363.65" y="2004.2" width="23.67" height="33.08" fill="#c8e7a3"/>
<rect x="1387.12" y="2004.2" width="23.67" height="33.08" fill="#d6edaa"/>
<rect x="1410.59" y="2004.2" width="23.67" height="33.08" fill="#e4f3b1"/>
<rect x="1434.06" y="2004.2" width="23.67" height="33.08" fill="#c8e7a3"/>
<rect x="1457.53" y="2004.2" width="23.67" height="33.08" fill="#c8e7a3"/>
<rect x="1481" y="2004.2" width="23.67" height="33.08" fill="#bbe19c"/>
<rect x="1504.47" y="2004.2" width="23.67" height="33.08" fill="#c8e7a3"/>
<rect x="1527.94" y="2004.2" width="23.67" height="33.08" fill="#f1f9b8"/>
<rect x="1551.41" y="2004.2" width="23.67" height="33.08" fill="#e4f3b1"/>
<rect x="1574.88" y="2004.2" width="23.67" height="33.08" fill="#f1f9b8"/>
<rect x="1598.35" y="2004.2" width="23.67" height="33.08" fill="#c8e7a3"/>
<rect x="1621.82" y="2004.2" width="23.67" height="33.08" fill="#d6edaa"/>
<rect x="1645.29" y="2004.2" width="23.67" height="33.08" fill="#d6edaa"/>
<rect x="1246.3" y="2037.08" width="23.67" height="33.08" fill="#69bc72"/>
<rect x="1269.77" y="2037.08" width="23.67" height="33.08" fill="#69bc72"/>
<rect x="1293.24" y="2037.08" width="23.67" height="33.08" fill="#5bb66b"/>
<rect x="1316.71" y="2037.08" width="23.67" height="33.08" fill="#69bc72"/>
<rect x="1340.18" y="2037.08" width="23.67" height="33.08" fill="#69bc72"/>
<rect x="1363.65" y="2037.08" width="23.67" height="33.08" fill="#69bc72"/>
<rect x="1387.12" y="2037.08" width="23.67" height="33.08" fill="#92ce87"/>
<rect x="1410.59" y="2037.08" width="23.67" height="33.08" fill="#9fd58e"/>
<rect x="1434.06" y="2037.08" width="23.67" height="33.08" fill="#9fd58e"/>
<rect x="1457.53" y="2037.08" width="23.67" height="33.08" fill="#92ce87"/>
<rect x="1481" y="2037.08" width="23.67" height="33.08" fill="#9fd58e"/>
<rect x="1504.47" y="2037.08" width="23.67" height="33.08" fill="#9fd58e"/>
<rect x="1527.94" y="2037.08" width="23.67" height="33.08" fill="#69bc72"/>
<rect x="1551.41" y="2037.08" width="23.67" height="33.08" fill="#76c279"/>
<rect x="1574.88" y="2037.08" width="23.67" height="33.08" fill="#76c279"/>
<rect x="1598.35" y="2037.08" width="23.67" height="33.08" fill="#76c279"/>
<rect x="1621.82" y="2037.08" width="23.67" height="33.08" fill="#69bc72"/>
<rect x="1645.29" y="2037.08" width="23.67" height="33.08" fill="#76c279"/>
<rect x="1246.3" y="2069.95" width="23.67" height="33.08" fill="#cf5845"/>
<rect x="1269.77" y="2069.95" width="23.67" height="33.08" fill="#cf5845"/>
<rect x="1293.24" y="2069.95" width="23.67" height="33.08" fill="#cc4b3b"/>
<rect x="1316.71" y="2069.95" width="23.67" height="33.08" fill="#cf5845"/>
<rect x="1340.18" y="2069.95" width="23.67" height="33.08" fill="#d3654e"/>
<rect x="1363.65" y="2069.95" width="23.67" height="33.08" fill="#cf5845"/>
<rect x="1387.12" y="2069.95" width="23.67" height="33.08" fill="#da7e61"/>
<rect x="1410.59" y="2069.95" width="23.67" height="33.08" fill="#d77158"/>
<rect x="1434.06" y="2069.95" width="23.67" height="33.08" fill="#da7e61"/>
<rect x="1457.53" y="2069.95" width="23.67" height="33.08" fill="#d77158"/>
<rect x="1481" y="2069.95" width="23.67" height="33.08" fill="#da7e61"/>
<rect x="1504.47" y="2069.95" width="23.67" height="33.08" fill="#d77158"/>
<rect x="1527.94" y="2069.95" width="23.67" height="33.08" fill="#cf5845"/>
<rect x="1551.41" y="2069.95" width="23.67" height="33.08" fill="#d77158"/>
<rect x="1574.88" y="2069.95" width="23.67" height="33.08" fill="#cf5845"/>
<rect x="1598.35" y="2069.95" width="23.67" height="33.08" fill="#d77158"/>
<rect x="1621.82" y="2069.95" width="23.67" height="33.08" fill="#da7e61"/>
<rect x="1645.29" y="2069.95" width="23.67" height="33.08" fill="#d3654e"/>
<rect x="1246.3" y="2102.82" width="23.67" height="33.08" fill="#92ce87"/>
<rect x="1269.77" y="2102.82" width="23.67" height="33.08" fill="#9fd58e"/>
<rect x="1293.24" y="2102.82" width="23.67" height="33.08" fill="#92ce87"/>
<rect x="1316.71" y="2102.82" width="23.67" height="33.08" fill="#92ce87"/>
<rect x="1340.18" y="2102.82" width="23.67" height="33.08" fill="#92ce87"/>
<rect x="1363.65" y="2102.82" width="23.67" height="33.08" fill="#92ce87"/>
<rect x="1387.12" y="2102.82" width="23.67" height="33.08" fill="#d6edaa"/>
<rect x="1410.59" y="2102.82" width="23.67" height="33.08" fill="#bbe19c"/>
<rect x="1434.06" y="2102.82" width="23.67" height="33.08" fill="#addb95"/>
<rect x="1457.53" y="2102.82" width="23.67" height="33.08" fill="#bbe19c"/>
<rect x="1481" y="2102.82" width="23.67" height="33.08" fill="#bbe19c"/>
<rect x="1504.47" y="2102.82" width="23.67" height="33.08" fill="#bbe19c"/>
<rect x="1527.94" y="2102.82" width="23.67" height="33.08" fill="#92ce87"/>
<rect x="1551.41" y="2102.82" width="23.67" height="33.08" fill="#addb95"/>
<rect x="1574.88" y="2102.82" width="23.67" height="33.08" fill="#c8e7a3"/>
<rect x="1598.35" y="2102.82" width="23.67" height="33.08" fill="#92ce87"/>
<rect x="1621.82" y="2102.82" width="23.67" height="33.08" fill="#9fd58e"/>
<rect x="1645.29" y="2102.82" width="23.67" height="33.08" fill="#92ce87"/>
<rect x="1246.3" y="2135.7" width="23.67" height="33.08" fill="#4db064"/>
<rect x="1269.77" y="2135.7" width="23.67" height="33.08" fill="#5bb66b"/>
<rect x="1293.24" y="2135.7" width="23.67" height="33.08" fill="#5bb66b"/>
<rect x="1316.71" y="2135.7" width="23.67" height="33.08" fill="#5bb66b"/>
<rect x="1340.18" y="2135.7" width="23.67" height="33.08" fill="#40aa5d"/>
<rect x="1363.65" y="2135.7" width="23.67" height="33.08" fill="#4db064"/>
<rect x="1387.12" y="2135.7" width="23.67" height="33.08" fill="#92ce87"/>
<rect x="1410.59" y="2135.7" width="23.67" height="33.08" fill="#9fd58e"/>
<rect x="1434.06" y="2135.7" width="23.67" height="33.08" fill="#9fd58e"/>
<rect x="1457.53" y="2135.7" width="23.67" height="33.08" fill="#92ce87"/>
<rect x="1481" y="2135.7" width="23.67" height="33.08" fill="#9fd58e"/>
<rect x="1504.47" y="2135.7" width="23.67" height="33.08" fill="#92ce87"/>
<rect x="1527.94" y="2135.7" width="23.67" height="33.08" fill="#40aa5d"/>
<rect x="1551.41" y="2135.7" width="23.67" height="33.08" fill="#69bc72"/>
<rect x="1574.88" y="2135.7" width="23.67" height="33.08" fill="#40aa5d"/>
<rect x="1598.35" y="2135.7" width="23.67" height="33.08" fill="#40aa5d"/>
<rect x="1621.82" y="2135.7" width="23.67" height="33.08" fill="#40aa5d"/>
<rect x="1645.29" y="2135.7" width="23.67" height="33.08" fill="#4db064"/>
<rect x="1246.3" y="2168.57" width="23.67" height="33.08" fill="#84c880"/>
<rect x="1269.77" y="2168.57" width="23.67" height="33.08" fill="#84c880"/>
<rect x="1293.24" y="2168.57" width="23.67" height="33.08" fill="#84c880"/>
<rect x="1316.71" y="2168.57" width="23.67" height="33.08" fill="#84c880"/>
<rect x="1340.18" y="2168.57" width="23.67" height="33.08" fill="#84c880"/>
<rect x="1363.65" y="2168.57" width="23.67" height="33.08" fill="#84c880"/>
<rect x="1387.12" y="2168.57" width="23.67" height="33.08" fill="#92ce87"/>
<rect x="1410.59" y="2168.57" width="23.67" height="33.08" fill="#92ce87"/>
<rect x="1434.06" y="2168.57" width="23.67" height="33.08" fill="#addb95"/>
<rect x="1457.53" y="2168.57" width="23.67" height="33.08" fill="#92ce87"/>
<rect x="1481" y="2168.57" width="23.67" height="33.08" fill="#84c880"/>
<rect x="1504.47" y="2168.57" width="23.67" height="33.08" fill="#92ce87"/>
<rect x="1527.94" y="2168.57" width="23.67" height="33.08" fill="#84c880"/>
<rect x="1551.41" y="2168.57" width="23.67" height="33.08" fill="#92ce87"/>
<rect x="1574.88" y="2168.57" width="23.67" height="33.08" fill="#92ce87"/>
<rect x="1598.35" y="2168.57" width="23.67" height="33.08" fill="#92ce87"/>
<rect x="1621.82" y="2168.57" width="23.67" height="33.08" fill="#92ce87"/>
<rect x="1645.29" y="2168.57" width="23.67" height="33.08" fill="#92ce87"/>
<rect x="1246.3" y="2201.45" width="23.67" height="33.08" fill="#69bc72"/>
<rect x="1269.77" y="2201.45" width="23.67" height="33.08" fill="#76c279"/>
<rect x="1293.24" y="2201.45" width="23.67" height="33.08" fill="#69bc72"/>
<rect x="1316.71" y="2201.45" width="23.67" height="33.08" fill="#69bc72"/>
<rect x="1340.18" y="2201.45" width="23.67" height="33.08" fill="#69bc72"/>
<rect x="1363.65" y="2201.45" width="23.67" height="33.08" fill="#69bc72"/>
<rect x="1387.12" y="2201.45" width="23.67" height="33.08" fill="#92ce87"/>
<rect x="1410.59" y="2201.45" width="23.67" height="33.08" fill="#92ce87"/>
<rect x="1434.06" y="2201.45" width="23.67" height="33.08" fill="#92ce87"/>
<rect x="1457.53" y="2201.45" width="23.67" height="33.08" fill="#92ce87"/>
<rect x="1481" y="2201.45" width="23.67" height="33.08" fill="#92ce87"/>
<rect x="1504.47" y="2201.45" width="23.67" height="33.08" fill="#92ce87"/>
<rect x="1527.94" y="2201.45" width="23.67" height="33.08" fill="#5bb66b"/>
<rect x="1551.41" y="2201.45" width="23.67" height="33.08" fill="#76c279"/>
<rect x="1574.88" y="2201.45" width="23.67" height="33.08" fill="#69bc72"/>
<rect x="1598.35" y="2201.45" width="23.67" height="33.08" fill="#69bc72"/>
<rect x="1621.82" y="2201.45" width="23.67" height="33.08" fill="#69bc72"/>
<rect x="1645.29" y="2201.45" width="23.67" height="33.08" fill="#76c279"/>
<rect x="1246.3" y="2234.32" width="23.67" height="33.08" fill="#de8b6a"/>
<rect x="1269.77" y="2234.32" width="23.67" height="33.08" fill="#d77158"/>
<rect x="1293.24" y="2234.32" width="23.67" height="33.08" fill="#cf5845"/>
<rect x="1316.71" y="2234.32" width="23.67" height="33.08" fill="#da7e61"/>
<rect x="1340.18" y="2234.32" width="23.67" height="33.08" fill="#da7e61"/>
<rect x="1363.65" y="2234.32" width="23.67" height="33.08" fill="#d3654e"/>
<rect x="1387.12" y="2234.32" width="23.67" height="33.08" fill="#9fd58e"/>
<rect x="1410.59" y="2234.32" width="23.67" height="33.08" fill="#92ce87"/>
<rect x="1434.06" y="2234.32" width="23.67" height="33.08" fill="#92ce87"/>
<rect x="1457.53" y="2234.32" width="23.67" height="33.08" fill="#84c880"/>
<rect x="1481" y="2234.32" width="23.67" height="33.08" fill="#69bc72"/>
<rect x="1504.47" y="2234.32" width="23.67" height="33.08" fill="#84c880"/>
<rect x="1527.94" y="2234.32" width="23.67" height="33.08" fill="#d77158"/>
<rect x="1551.41" y="2234.32" width="23.67" height="33.08" fill="#d77158"/>
<rect x="1574.88" y="2234.32" width="23.67" height="33.08" fill="#cf5845"/>
<rect x="1598.35" y="2234.32" width="23.67" height="33.08" fill="#cc4b3b"/>
<rect x="1621.82" y="2234.32" width="23.67" height="33.08" fill="#cf5845"/>
<rect x="1645.29" y="2234.32" width="23.67" height="33.08" fill="#d3654e"/>
<rect x="1246.3" y="2267.2" width="23.67" height="33.08" fill="#f1f9b8"/>
<rect x="1269.77" y="2267.2" width="23.67" height="33.08" fill="#f1f9b8"/>
<rect x="1293.24" y="2267.2" width="23.67" height="33.08" fill="#e4f3b1"/>
<rect x="1316.71" y="2267.2" width="23.67" height="33.08" fill="#f1f9b8"/>
<rect x="1340.18" y="2267.2" width="23.67" height="33.08" fill="#e4f3b1"/>
<rect x="1363.65" y="2267.2" width="23.67" height="33.08" fill="#c8e7a3"/>
<rect x="1387.12" y="2267.2" width="23.67" height="33.08" fill="#e9b287"/>
<rect x="1410.59" y="2267.2" width="23.67" height="33.08" fill="#edbf90"/>
<rect x="1434.06" y="2267.2" width="23.67" height="33.08" fill="#edbf90"/>
<rect x="1457.53" y="2267.2" width="23.67" height="33.08" fill="#edbf90"/>
<rect x="1481" y="2267.2" width="23.67" height="33.08" fill="#f0cc99"/>
<rect x="1504.47" y="2267.2" width="23.67" height="33.08" fill="#f4d8a3"/>
<rect x="1527.94" y="2267.2" width="23.67" height="33.08" fill="#e4f3b1"/>
<rect x="1551.41" y="2267.2" width="23.67" height="33.08" fill="#f4d8a3"/>
<rect x="1574.88" y="2267.2" width="23.67" height="33.08" fill="#f8e5ac"/>
<rect x="1598.35" y="2267.2" width="23.67" height="33.08" fill="#e4f3b1"/>
<rect x="1621.82" y="2267.2" width="23.67" height="33.08" fill="#d6edaa"/>
<rect x="1645.29" y="2267.2" width="23.67" height="33.08" fill="#f8e5ac"/>
<rect x="1246.3" y="2300.07" width="23.67" height="33.08" fill="#76c279"/>
<rect x="1269.77" y="2300.07" width="23.67" height="33.08" fill="#92ce87"/>
<rect x="1293.24" y="2300.07" width="23.67" height="33.08" fill="#92ce87"/>
<rect x="1316.71" y="2300.07" width="23.67" height="33.08" fill="#92ce87"/>
<rect x="1340.18" y="2300.07" width="23.67" height="33.08" fill="#84c880"/>
<rect x="1363.65" y="2300.07" width="23.67" height="33.08" fill="#84c880"/>
<rect x="1387.12" y="2300.07" width="23.67" height="33.08" fill="#addb95"/>
<rect x="1410.59" y="2300.07" width="23.67" height="33.08" fill="#addb95"/>
<rect x="1434.06" y="2300.07" width="23.67" height="33.08" fill="#addb95"/>
<rect x="1457.53" y="2300.07" width="23.67" height="33.08" fill="#addb95"/>
<rect x="1481" y="2300.07" width="23.67" height="33.08" fill="#9fd58e"/>
<rect x="1504.47" y="2300.07" width="23.67" height="33.08" fill="#c8e7a3"/>
<rect x="1527.94" y="2300.07" width="23.67" height="33.08" fill="#69bc72"/>
<rect x="1551.41" y="2300.07" width="23.67" height="33.08" fill="#92ce87"/>
<rect x="1574.88" y="2300.07" width="23.67" height="33.08" fill="#92ce87"/>
<rect x="1598.35" y="2300.07" width="23.67" height="33.08" fill="#84c880"/>
<rect x="1621.82" y="2300.07" width="23.67" height="33.08" fill="#76c279"/>
<rect x="1645.29" y="2300.07" width="23.67" height="33.08" fill="#92ce87"/>
</g>
<path class="grid" d="M1246.3 1346.7V2332.95M1269.77 1346.7V2332.95M1293.24 1346.7V2332.95M1316.71 1346.7V2332.95M1340.18 1346.7V2332.95M1363.65 1346.7V2332.95M1387.12 1346.7V2332.95M1410.59 1346.7V2332.95M1434.06 1346.7V2332.95M1457.53 1346.7V2332.95M1481 1346.7V2332.95M1504.47 1346.7V2332.95M1527.94 1346.7V2332.95M1551.41 1346.7V2332.95M1574.88 1346.7V2332.95M1598.35 1346.7V2332.95M1621.82 1346.7V2332.95M1645.29 1346.7V2332.95M1668.76 1346.7V2332.95M1246.3 1346.7H1668.76M1246.3 1379.58H1668.76M1246.3 1412.45H1668.76M1246.3 1445.33H1668.76M1246.3 1478.2H1668.76M1246.3 1511.08H1668.76M1246.3 1543.95H1668.76M1246.3 1576.83H1668.76M1246.3 1609.7H1668.76M1246.3 1642.58H1668.76M1246.3 1675.45H1668.76M1246.3 1708.33H1668.76M1246.3 1741.2H1668.76M1246.3 1774.08H1668.76M1246.3 1806.95H1668.76M1246.3 1839.83H1668.76M1246.3 1872.7H1668.76M1246.3 1905.58H1668.76M1246.3 1938.45H1668.76M1246.3 1971.33H1668.76M1246.3 2004.2H1668.76M1246.3 2037.08H1668.76M1246.3 2069.95H1668.76M1246.3 2102.82H1668.76M1246.3 2135.7H1668.76M1246.3 2168.57H1668.76M1246.3 2201.45H1668.76M1246.3 2234.32H1668.76M1246.3 2267.2H1668.76M1246.3 2300.07H1668.76M1246.3 2332.95H1668.76" fill="none" stroke="#959595" stroke-width="2.5" stroke-linecap="square"/>
<g class="rl" font-size="18.55">
<text x="1683.2" y="1369.54">Photosynthesis(51)</text>
<text x="1683.2" y="1402.41">Taurine and hypotaurine metabolism(2)</text>
<text x="1683.2" y="1435.29">Peroxisome(101)</text>
<text x="1683.2" y="1468.16">Glycosylphosphatidylinositol(GPI)-anchor biosynthesis(30)</text>
<text x="1683.2" y="1501.04">Ascorbate and aldarate metabolism(12)</text>
<text x="1683.2" y="1533.91">Biosynthesis of amino acids(271)</text>
<text x="1683.2" y="1566.79">Diterpenoid biosynthesis(10)</text>
<text x="1683.2" y="1599.66">Lysine degradation(13)</text>
<text x="1683.2" y="1632.54">ABC transporters(17)</text>
<text x="1683.2" y="1665.41">Pentose phosphate pathway(2)</text>
<text x="1683.2" y="1698.29">RNA polymerase(50)</text>
<text x="1683.2" y="1731.16">Nitrogen metabolism(16)</text>
<text x="1683.2" y="1764.04">Proteasome(61)</text>
<text x="1683.2" y="1796.91">Cyanoamino acid metabolism(1)</text>
<text x="1683.2" y="1829.79">AGE-RAGE signaling pathway in diabetic complications(12)</text>
<text x="1683.2" y="1862.66">N-Glycan biosynthesis(34)</text>
<text x="1683.2" y="1895.54">Carbon metabolism(157)</text>
<text x="1683.2" y="1928.41">Brassinosteroid biosynthesis(5)</text>
<text x="1683.2" y="1961.29">Phagosome(94)</text>
<text x="1683.2" y="1994.16">Sulfur metabolism(16)</text>
<text x="1683.2" y="2027.04">Selenocompound metabolism(6)</text>
<text x="1683.2" y="2059.91">alpha-Linolenic acid metabolism(28)</text>
<text x="1683.2" y="2092.79">Glyoxylate and dicarboxylate metabolism(1)</text>
<text x="1683.2" y="2125.66">Protein processing in endoplasmic reticulum(197)</text>
<text x="1683.2" y="2158.54">Linoleic acid metabolism(6)</text>
<text x="1683.2" y="2191.41">Ether lipid metabolism(13)</text>
<text x="1683.2" y="2224.29">Pantothenate and CoA biosynthesis(15)</text>
<text x="1683.2" y="2257.16">Inositol phosphate metabolism(8)</text>
<text x="1683.2" y="2290.04">Histidine metabolism(3)</text>
<text x="1683.2" y="2322.91">Fatty acid biosynthesis(1)</text>
</g>
<g class="cl" font-size="18.45">
<text transform="translate(1251.43 2347.65) rotate(90)">XJ0hR1</text>
<text transform="translate(1274.9 2347.65) rotate(90)">XJ0hR2</text>
<text transform="translate(1298.38 2347.65) rotate(90)">XJ0hR3</text>
<text transform="translate(1321.85 2347.65) rotate(90)">XJ0hS1</text>
<text transform="translate(1345.32 2347.65) rotate(90)">XJ0hS2</text>
<text transform="translate(1368.79 2347.65) rotate(90)">XJ0hS3</text>
<text transform="translate(1392.26 2347.65) rotate(90)">XJ12hR1</text>
<text transform="translate(1415.72 2347.65) rotate(90)">XJ12hR2</text>
<text transform="translate(1439.2 2347.65) rotate(90)">XJ12hR3</text>
<text transform="translate(1462.66 2347.65) rotate(90)">XJ12hS1</text>
<text transform="translate(1486.13 2347.65) rotate(90)">XJ12hS2</text>
<text transform="translate(1509.61 2347.65) rotate(90)">XJ12hS3</text>
<text transform="translate(1533.08 2347.65) rotate(90)">XJ24hR1</text>
<text transform="translate(1556.55 2347.65) rotate(90)">XJ24hR2</text>
<text transform="translate(1580.02 2347.65) rotate(90)">XJ24hR3</text>
<text transform="translate(1603.49 2347.65) rotate(90)">XJ24hS1</text>
<text transform="translate(1626.95 2347.65) rotate(90)">XJ24hS2</text>
<text transform="translate(1650.42 2347.65) rotate(90)">XJ24hS3</text>
</g>
<rect x="2207.3" y="1346.5" width="47" height="281.5" fill="url(#lg)"/>
<g class="ll" font-size="18.5">
<text x="2272.5" y="1393.5">6</text>
<text x="2272.5" y="1436.3">5</text>
<text x="2272.5" y="1478.7">4</text>
<text x="2272.5" y="1520.9">3</text>
<text x="2272.5" y="1563.1">2</text>
<text x="2272.5" y="1605.3">1</text>
</g>
<text class="pl" x="1165" y="1396.7" font-size="70">D</text>
</svg>
</body></html>
